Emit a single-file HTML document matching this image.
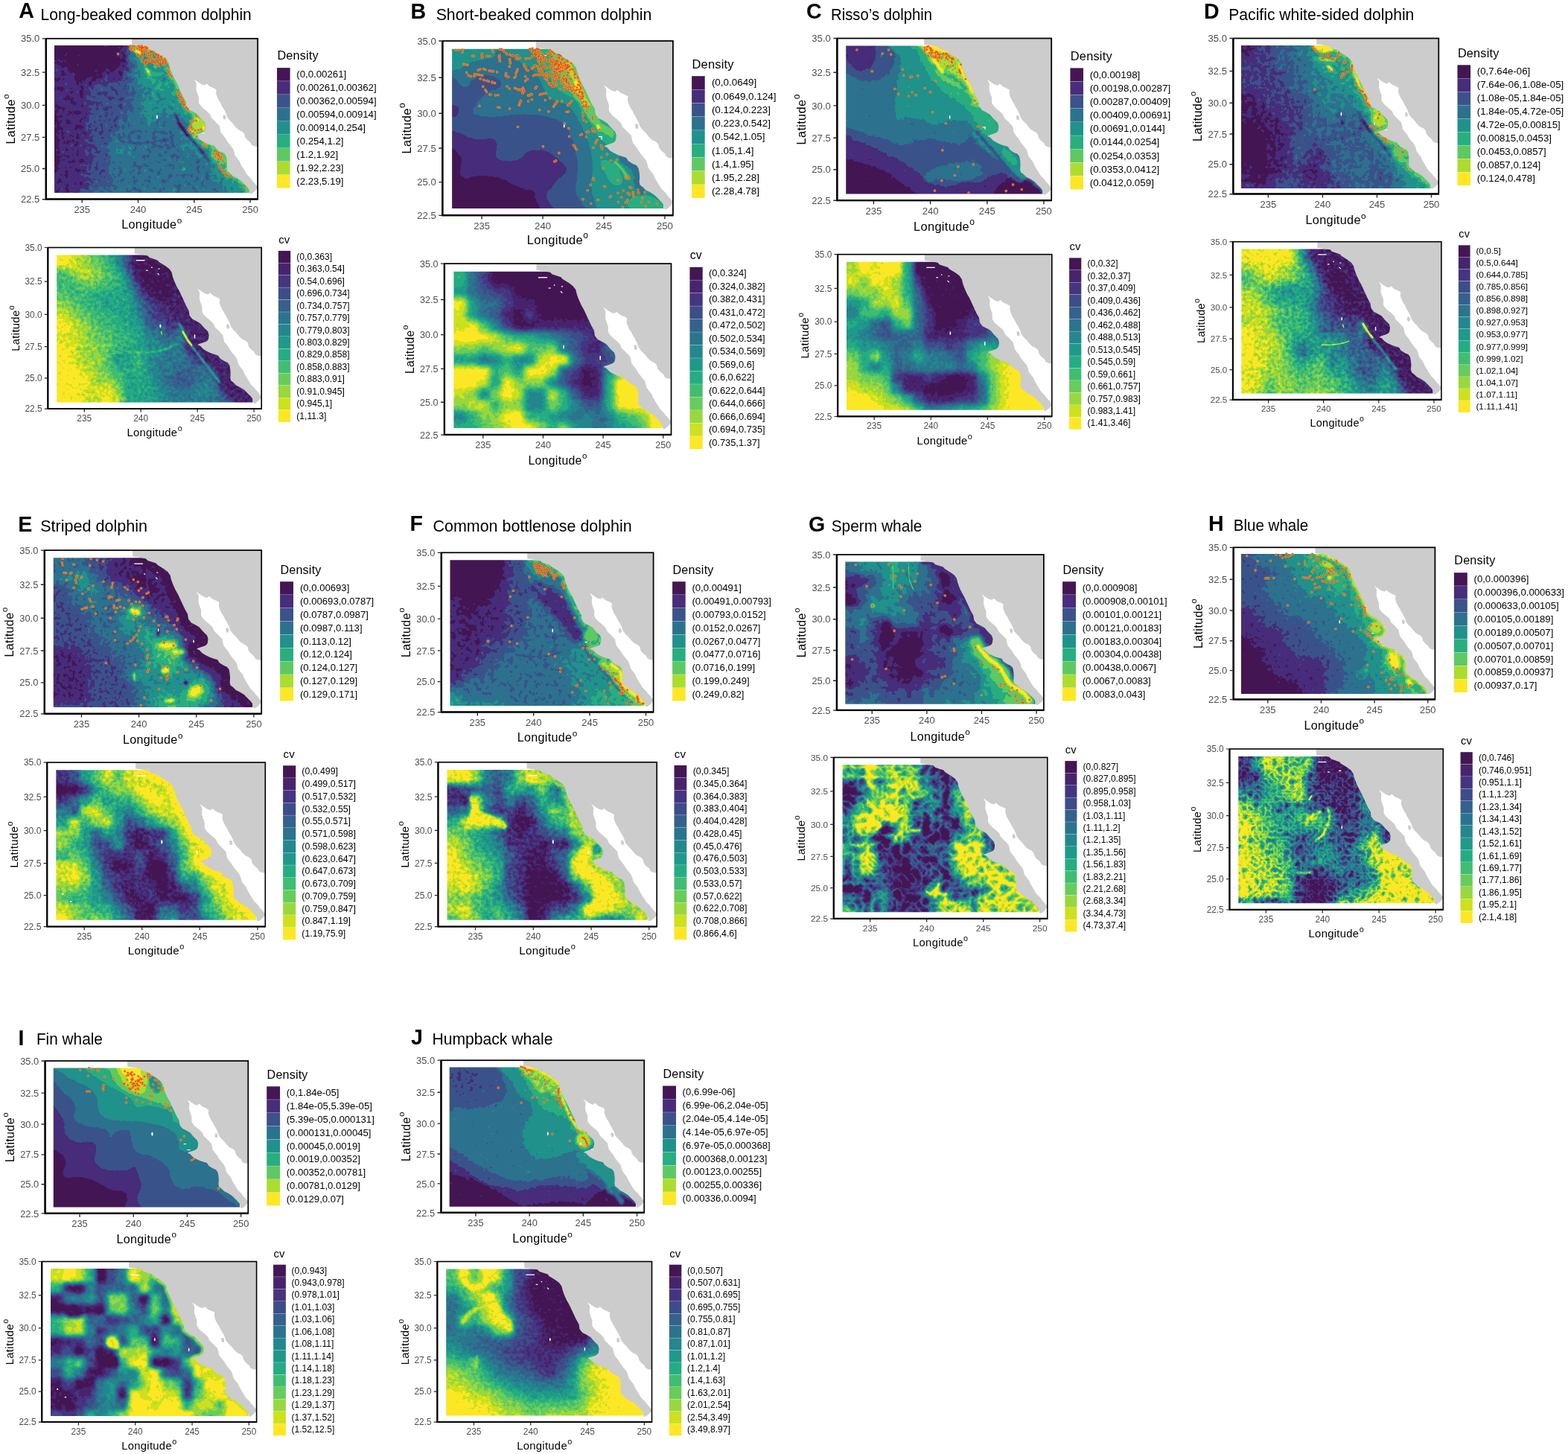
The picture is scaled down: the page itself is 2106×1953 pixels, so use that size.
<!DOCTYPE html><html><head><meta charset="utf-8"><title>Figure</title><style>html,body{margin:0;padding:0;background:#fff}svg{display:block}text{font-family:"Liberation Sans",Arial,sans-serif}</style></head><body><svg xmlns="http://www.w3.org/2000/svg" width="2106" height="1953" viewBox="0 0 2106 1953"><defs><clipPath id="dc"><rect x="83" y="69.5" width="1828.5" height="1381.5"/></clipPath><g id="land"><path d="M809 0L809 57 867 65 930 76 949 95 1025 120 1038 136 1095 171 1132 199 1155 231 1164 269 1177 307 1202 364 1227 408 1259 477 1291 547 1316 591 1322 636 1348 670 1392 692 1423 711 1455 749 1493 787 1503 819 1499 851 1499 856 1487 875 1468 885 1442 894 1411 904 1398 913 1423 923 1449 951 1480 970 1518 989 1556 1002 1588 1011 1607 1040 1645 1065 1676 1078 1695 1103 1702 1141 1705 1179 1702 1223 1708 1248 1733 1267 1759 1293 1797 1312 1835 1337 1860 1362 1892 1394 1911 1419 1917 1454 1930 1462 1961 1441 1983 1416 1999 1413 2023 1413 2023 -30 809 -30Z" fill="#ccc"/><path d="M1395 383L1430 408 1468 433 1496 439 1512 424 1544 452 1582 468 1604 481 1601 515 1610 547 1629 585 1635 596 1639 597 1657 635 1676 666 1695 704 1708 742 1733 774 1759 799 1784 831 1809 856 1847 875 1866 894 1873 926 1892 951 1923 976 1936 1002 1961 1014 1999 1017 2023 1017 2023 1387 1999 1387 1980 1381 1961 1356 1942 1337 1930 1318 1911 1299 1892 1280 1873 1248 1854 1217 1835 1185 1822 1153 1797 1122 1778 1096 1771 1065 1759 1033 1733 1002 1708 970 1689 938 1670 913 1645 881 1639 851 1632 819 1607 794 1582 768 1556 743 1544 711 1518 686 1480 655 1455 629 1439 604 1439 553 1423 509 1414 477 1417 420 1395 383Z" fill="#fff"/><path d="M1665 723L1686 717 1694 739 1689 762 1670 758Z" fill="#ccc"/></g><path id="pac" d="M809 57L867 65 930 76 949 95 1025 120 1038 136 1095 171 1132 199 1155 231 1164 269 1177 307 1202 364 1227 408 1259 477 1291 547 1316 591 1322 636 1348 670 1392 692 1423 711 1455 749 1493 787 1503 819 1499 851 1499 856 1487 875 1468 885 1442 894 1411 904 1398 913 1423 923 1449 951 1480 970 1518 989 1556 1002 1588 1011 1607 1040 1645 1065 1676 1078 1695 1103 1702 1141 1705 1179 1702 1223 1708 1248 1733 1267 1759 1293 1797 1312 1835 1337 1860 1362 1892 1394 1911 1419 1917 1454 1930 1462"/><filter id="qA1" x="0" y="0" width="1993" height="1513" filterUnits="userSpaceOnUse" color-interpolation-filters="sRGB"><feTurbulence type="fractalNoise" baseFrequency="0.022" numOctaves="2" seed="3" result="t0"/><feColorMatrix in="t0" type="matrix" values="1 0 0 0 0 1 0 0 0 0 1 0 0 0 0 0 0 0 0 1" result="n0"/><feComposite in="SourceGraphic" in2="n0" operator="arithmetic" k1="0" k2="1" k3="0.3111" k4="-0.1556" result="c0"/><feComponentTransfer in="c0"><feFuncR type="discrete" tableValues="0.267 0.278 0.231 0.173 0.129 0.157 0.369 0.678 0.992"/><feFuncG type="discrete" tableValues="0.086 0.176 0.322 0.447 0.569 0.682 0.788 0.863 0.906"/><feFuncB type="discrete" tableValues="0.329 0.482 0.545 0.557 0.549 0.502 0.384 0.188 0.145"/><feFuncA type="discrete" tableValues="1 1"/></feComponentTransfer></filter><filter id="qA2" x="0" y="0" width="1993" height="1513" filterUnits="userSpaceOnUse" color-interpolation-filters="sRGB"><feTurbulence type="fractalNoise" baseFrequency="0.03" numOctaves="2" seed="5" result="t0"/><feColorMatrix in="t0" type="matrix" values="1 0 0 0 0 1 0 0 0 0 1 0 0 0 0 0 0 0 0 1" result="n0"/><feComposite in="SourceGraphic" in2="n0" operator="arithmetic" k1="0" k2="1" k3="0.3214" k4="-0.1607" result="c0"/><feComponentTransfer in="c0"><feFuncR type="discrete" tableValues="0.267 0.282 0.271 0.239 0.204 0.169 0.141 0.122 0.145 0.251 0.404 0.596 0.804 0.992"/><feFuncG type="discrete" tableValues="0.086 0.141 0.208 0.302 0.38 0.455 0.529 0.6 0.675 0.741 0.8 0.847 0.882 0.906"/><feFuncB type="discrete" tableValues="0.329 0.431 0.506 0.541 0.553 0.557 0.557 0.541 0.51 0.447 0.361 0.243 0.114 0.145"/><feFuncA type="discrete" tableValues="1 1"/></feComponentTransfer></filter><filter id="qB1" x="0" y="0" width="1993" height="1513" filterUnits="userSpaceOnUse" color-interpolation-filters="sRGB"><feTurbulence type="fractalNoise" baseFrequency="0.03" numOctaves="1" seed="3" result="t0"/><feColorMatrix in="t0" type="matrix" values="1 0 0 0 0 1 0 0 0 0 1 0 0 0 0 0 0 0 0 1" result="n0"/><feComposite in="SourceGraphic" in2="n0" operator="arithmetic" k1="0" k2="1" k3="0.0889" k4="-0.0444" result="c0"/><feComponentTransfer in="c0"><feFuncR type="discrete" tableValues="0.267 0.278 0.231 0.173 0.129 0.157 0.369 0.678 0.992"/><feFuncG type="discrete" tableValues="0.086 0.176 0.322 0.447 0.569 0.682 0.788 0.863 0.906"/><feFuncB type="discrete" tableValues="0.329 0.482 0.545 0.557 0.549 0.502 0.384 0.188 0.145"/><feFuncA type="discrete" tableValues="1 1"/></feComponentTransfer></filter><filter id="qB2" x="0" y="0" width="1993" height="1513" filterUnits="userSpaceOnUse" color-interpolation-filters="sRGB"><feTurbulence type="fractalNoise" baseFrequency="0.03" numOctaves="2" seed="7" result="t0"/><feColorMatrix in="t0" type="matrix" values="1 0 0 0 0 1 0 0 0 0 1 0 0 0 0 0 0 0 0 1" result="n0"/><feComposite in="SourceGraphic" in2="n0" operator="arithmetic" k1="0" k2="1" k3="0.1429" k4="-0.0714" result="c0"/><feComponentTransfer in="c0"><feFuncR type="discrete" tableValues="0.267 0.282 0.271 0.239 0.204 0.169 0.141 0.122 0.145 0.251 0.404 0.596 0.804 0.992"/><feFuncG type="discrete" tableValues="0.086 0.141 0.208 0.302 0.38 0.455 0.529 0.6 0.675 0.741 0.8 0.847 0.882 0.906"/><feFuncB type="discrete" tableValues="0.329 0.431 0.506 0.541 0.553 0.557 0.557 0.541 0.51 0.447 0.361 0.243 0.114 0.145"/><feFuncA type="discrete" tableValues="1 1"/></feComponentTransfer></filter><filter id="qC1" x="0" y="0" width="1993" height="1513" filterUnits="userSpaceOnUse" color-interpolation-filters="sRGB"><feTurbulence type="fractalNoise" baseFrequency="0.028" numOctaves="2" seed="11" result="t0"/><feColorMatrix in="t0" type="matrix" values="1 0 0 0 0 1 0 0 0 0 1 0 0 0 0 0 0 0 0 1" result="n0"/><feComposite in="SourceGraphic" in2="n0" operator="arithmetic" k1="0" k2="1" k3="0.1778" k4="-0.0889" result="c0"/><feComponentTransfer in="c0"><feFuncR type="discrete" tableValues="0.267 0.278 0.231 0.173 0.129 0.157 0.369 0.678 0.992"/><feFuncG type="discrete" tableValues="0.086 0.176 0.322 0.447 0.569 0.682 0.788 0.863 0.906"/><feFuncB type="discrete" tableValues="0.329 0.482 0.545 0.557 0.549 0.502 0.384 0.188 0.145"/><feFuncA type="discrete" tableValues="1 1"/></feComponentTransfer></filter><filter id="qC2" x="0" y="0" width="1993" height="1513" filterUnits="userSpaceOnUse" color-interpolation-filters="sRGB"><feTurbulence type="fractalNoise" baseFrequency="0.03" numOctaves="2" seed="9" result="t0"/><feColorMatrix in="t0" type="matrix" values="1 0 0 0 0 1 0 0 0 0 1 0 0 0 0 0 0 0 0 1" result="n0"/><feComposite in="SourceGraphic" in2="n0" operator="arithmetic" k1="0" k2="1" k3="0.1714" k4="-0.0857" result="c0"/><feComponentTransfer in="c0"><feFuncR type="discrete" tableValues="0.267 0.282 0.271 0.239 0.204 0.169 0.141 0.122 0.145 0.251 0.404 0.596 0.804 0.992"/><feFuncG type="discrete" tableValues="0.086 0.141 0.208 0.302 0.38 0.455 0.529 0.6 0.675 0.741 0.8 0.847 0.882 0.906"/><feFuncB type="discrete" tableValues="0.329 0.431 0.506 0.541 0.553 0.557 0.557 0.541 0.51 0.447 0.361 0.243 0.114 0.145"/><feFuncA type="discrete" tableValues="1 1"/></feComponentTransfer></filter><filter id="qD1" x="0" y="0" width="1993" height="1513" filterUnits="userSpaceOnUse" color-interpolation-filters="sRGB"><feTurbulence type="fractalNoise" baseFrequency="0.022" numOctaves="2" seed="13" result="t0"/><feColorMatrix in="t0" type="matrix" values="1 0 0 0 0 1 0 0 0 0 1 0 0 0 0 0 0 0 0 1" result="n0"/><feComposite in="SourceGraphic" in2="n0" operator="arithmetic" k1="0" k2="1" k3="0.3111" k4="-0.1556" result="c0"/><feComponentTransfer in="c0"><feFuncR type="discrete" tableValues="0.267 0.278 0.231 0.173 0.129 0.157 0.369 0.678 0.992"/><feFuncG type="discrete" tableValues="0.086 0.176 0.322 0.447 0.569 0.682 0.788 0.863 0.906"/><feFuncB type="discrete" tableValues="0.329 0.482 0.545 0.557 0.549 0.502 0.384 0.188 0.145"/><feFuncA type="discrete" tableValues="1 1"/></feComponentTransfer></filter><filter id="qD2" x="0" y="0" width="1993" height="1513" filterUnits="userSpaceOnUse" color-interpolation-filters="sRGB"><feTurbulence type="fractalNoise" baseFrequency="0.03" numOctaves="2" seed="15" result="t0"/><feColorMatrix in="t0" type="matrix" values="1 0 0 0 0 1 0 0 0 0 1 0 0 0 0 0 0 0 0 1" result="n0"/><feComposite in="SourceGraphic" in2="n0" operator="arithmetic" k1="0" k2="1" k3="0.4286" k4="-0.2143" result="c0"/><feComponentTransfer in="c0"><feFuncR type="discrete" tableValues="0.267 0.282 0.271 0.239 0.204 0.169 0.141 0.122 0.145 0.251 0.404 0.596 0.804 0.992"/><feFuncG type="discrete" tableValues="0.086 0.141 0.208 0.302 0.38 0.455 0.529 0.6 0.675 0.741 0.8 0.847 0.882 0.906"/><feFuncB type="discrete" tableValues="0.329 0.431 0.506 0.541 0.553 0.557 0.557 0.541 0.51 0.447 0.361 0.243 0.114 0.145"/><feFuncA type="discrete" tableValues="1 1"/></feComponentTransfer></filter><filter id="qE1" x="0" y="0" width="1993" height="1513" filterUnits="userSpaceOnUse" color-interpolation-filters="sRGB"><feTurbulence type="fractalNoise" baseFrequency="0.028" numOctaves="2" seed="17" result="t0"/><feColorMatrix in="t0" type="matrix" values="1 0 0 0 0 1 0 0 0 0 1 0 0 0 0 0 0 0 0 1" result="n0"/><feComposite in="SourceGraphic" in2="n0" operator="arithmetic" k1="0" k2="1" k3="0.2444" k4="-0.1222" result="c0"/><feComponentTransfer in="c0"><feFuncR type="discrete" tableValues="0.267 0.278 0.231 0.173 0.129 0.157 0.369 0.678 0.992"/><feFuncG type="discrete" tableValues="0.086 0.176 0.322 0.447 0.569 0.682 0.788 0.863 0.906"/><feFuncB type="discrete" tableValues="0.329 0.482 0.545 0.557 0.549 0.502 0.384 0.188 0.145"/><feFuncA type="discrete" tableValues="1 1"/></feComponentTransfer></filter><filter id="qE2" x="0" y="0" width="1993" height="1513" filterUnits="userSpaceOnUse" color-interpolation-filters="sRGB"><feTurbulence type="fractalNoise" baseFrequency="0.03" numOctaves="2" seed="19" result="t0"/><feColorMatrix in="t0" type="matrix" values="1 0 0 0 0 1 0 0 0 0 1 0 0 0 0 0 0 0 0 1" result="n0"/><feComposite in="SourceGraphic" in2="n0" operator="arithmetic" k1="0" k2="1" k3="0.3571" k4="-0.1786" result="c0"/><feComponentTransfer in="c0"><feFuncR type="discrete" tableValues="0.267 0.282 0.271 0.239 0.204 0.169 0.141 0.122 0.145 0.251 0.404 0.596 0.804 0.992"/><feFuncG type="discrete" tableValues="0.086 0.141 0.208 0.302 0.38 0.455 0.529 0.6 0.675 0.741 0.8 0.847 0.882 0.906"/><feFuncB type="discrete" tableValues="0.329 0.431 0.506 0.541 0.553 0.557 0.557 0.541 0.51 0.447 0.361 0.243 0.114 0.145"/><feFuncA type="discrete" tableValues="1 1"/></feComponentTransfer></filter><filter id="qF1" x="0" y="0" width="1993" height="1513" filterUnits="userSpaceOnUse" color-interpolation-filters="sRGB"><feTurbulence type="fractalNoise" baseFrequency="0.022" numOctaves="2" seed="21" result="t0"/><feColorMatrix in="t0" type="matrix" values="1 0 0 0 0 1 0 0 0 0 1 0 0 0 0 0 0 0 0 1" result="n0"/><feComposite in="SourceGraphic" in2="n0" operator="arithmetic" k1="0" k2="1" k3="0.2444" k4="-0.1222" result="c0"/><feComponentTransfer in="c0"><feFuncR type="discrete" tableValues="0.267 0.278 0.231 0.173 0.129 0.157 0.369 0.678 0.992"/><feFuncG type="discrete" tableValues="0.086 0.176 0.322 0.447 0.569 0.682 0.788 0.863 0.906"/><feFuncB type="discrete" tableValues="0.329 0.482 0.545 0.557 0.549 0.502 0.384 0.188 0.145"/><feFuncA type="discrete" tableValues="1 1"/></feComponentTransfer></filter><filter id="qF2" x="0" y="0" width="1993" height="1513" filterUnits="userSpaceOnUse" color-interpolation-filters="sRGB"><feTurbulence type="fractalNoise" baseFrequency="0.03" numOctaves="2" seed="23" result="t0"/><feColorMatrix in="t0" type="matrix" values="1 0 0 0 0 1 0 0 0 0 1 0 0 0 0 0 0 0 0 1" result="n0"/><feComposite in="SourceGraphic" in2="n0" operator="arithmetic" k1="0" k2="1" k3="0.3571" k4="-0.1786" result="c0"/><feComponentTransfer in="c0"><feFuncR type="discrete" tableValues="0.267 0.282 0.271 0.239 0.204 0.169 0.141 0.122 0.145 0.251 0.404 0.596 0.804 0.992"/><feFuncG type="discrete" tableValues="0.086 0.141 0.208 0.302 0.38 0.455 0.529 0.6 0.675 0.741 0.8 0.847 0.882 0.906"/><feFuncB type="discrete" tableValues="0.329 0.431 0.506 0.541 0.553 0.557 0.557 0.541 0.51 0.447 0.361 0.243 0.114 0.145"/><feFuncA type="discrete" tableValues="1 1"/></feComponentTransfer></filter><filter id="qG1" x="0" y="0" width="1993" height="1513" filterUnits="userSpaceOnUse" color-interpolation-filters="sRGB"><feTurbulence type="fractalNoise" baseFrequency="0.018" numOctaves="2" seed="25" result="t0"/><feColorMatrix in="t0" type="matrix" values="1 0 0 0 0 1 0 0 0 0 1 0 0 0 0 0 0 0 0 1" result="n0"/><feComposite in="SourceGraphic" in2="n0" operator="arithmetic" k1="0" k2="1" k3="0.2222" k4="-0.1111" result="c0"/><feComponentTransfer in="c0"><feFuncR type="discrete" tableValues="0.267 0.278 0.231 0.173 0.129 0.157 0.369 0.678 0.992"/><feFuncG type="discrete" tableValues="0.086 0.176 0.322 0.447 0.569 0.682 0.788 0.863 0.906"/><feFuncB type="discrete" tableValues="0.329 0.482 0.545 0.557 0.549 0.502 0.384 0.188 0.145"/><feFuncA type="discrete" tableValues="1 1"/></feComponentTransfer></filter><filter id="qG2" x="0" y="0" width="1993" height="1513" filterUnits="userSpaceOnUse" color-interpolation-filters="sRGB"><feTurbulence type="turbulence" baseFrequency="0.011" numOctaves="2" seed="27" result="t0"/><feColorMatrix in="t0" type="matrix" values="-1 0 0 0 1 -1 0 0 0 1 -1 0 0 0 1 0 0 0 0 1" result="n0"/><feComposite in="SourceGraphic" in2="n0" operator="arithmetic" k1="0" k2="1" k3="0.9286" k4="-0.6964" result="c0"/><feTurbulence type="fractalNoise" baseFrequency="0.03" numOctaves="2" seed="28" result="t1"/><feColorMatrix in="t1" type="matrix" values="1 0 0 0 0 1 0 0 0 0 1 0 0 0 0 0 0 0 0 1" result="n1"/><feComposite in="c0" in2="n1" operator="arithmetic" k1="0" k2="1" k3="0.1786" k4="-0.0893" result="c1"/><feComponentTransfer in="c1"><feFuncR type="discrete" tableValues="0.267 0.282 0.271 0.239 0.204 0.169 0.141 0.122 0.145 0.251 0.404 0.596 0.804 0.992"/><feFuncG type="discrete" tableValues="0.086 0.141 0.208 0.302 0.38 0.455 0.529 0.6 0.675 0.741 0.8 0.847 0.882 0.906"/><feFuncB type="discrete" tableValues="0.329 0.431 0.506 0.541 0.553 0.557 0.557 0.541 0.51 0.447 0.361 0.243 0.114 0.145"/><feFuncA type="discrete" tableValues="1 1"/></feComponentTransfer></filter><filter id="qH1" x="0" y="0" width="1993" height="1513" filterUnits="userSpaceOnUse" color-interpolation-filters="sRGB"><feTurbulence type="fractalNoise" baseFrequency="0.025" numOctaves="2" seed="29" result="t0"/><feColorMatrix in="t0" type="matrix" values="1 0 0 0 0 1 0 0 0 0 1 0 0 0 0 0 0 0 0 1" result="n0"/><feComposite in="SourceGraphic" in2="n0" operator="arithmetic" k1="0" k2="1" k3="0.2222" k4="-0.1111" result="c0"/><feComponentTransfer in="c0"><feFuncR type="discrete" tableValues="0.267 0.278 0.231 0.173 0.129 0.157 0.369 0.678 0.992"/><feFuncG type="discrete" tableValues="0.086 0.176 0.322 0.447 0.569 0.682 0.788 0.863 0.906"/><feFuncB type="discrete" tableValues="0.329 0.482 0.545 0.557 0.549 0.502 0.384 0.188 0.145"/><feFuncA type="discrete" tableValues="1 1"/></feComponentTransfer></filter><filter id="qH2" x="0" y="0" width="1993" height="1513" filterUnits="userSpaceOnUse" color-interpolation-filters="sRGB"><feTurbulence type="turbulence" baseFrequency="0.018" numOctaves="2" seed="31" result="t0"/><feColorMatrix in="t0" type="matrix" values="-1 0 0 0 1 -1 0 0 0 1 -1 0 0 0 1 0 0 0 0 1" result="n0"/><feComposite in="SourceGraphic" in2="n0" operator="arithmetic" k1="0" k2="1" k3="0.8571" k4="-0.6429" result="c0"/><feTurbulence type="fractalNoise" baseFrequency="0.04" numOctaves="2" seed="32" result="t1"/><feColorMatrix in="t1" type="matrix" values="1 0 0 0 0 1 0 0 0 0 1 0 0 0 0 0 0 0 0 1" result="n1"/><feComposite in="c0" in2="n1" operator="arithmetic" k1="0" k2="1" k3="0.2143" k4="-0.1071" result="c1"/><feComponentTransfer in="c1"><feFuncR type="discrete" tableValues="0.267 0.282 0.271 0.239 0.204 0.169 0.141 0.122 0.145 0.251 0.404 0.596 0.804 0.992"/><feFuncG type="discrete" tableValues="0.086 0.141 0.208 0.302 0.38 0.455 0.529 0.6 0.675 0.741 0.8 0.847 0.882 0.906"/><feFuncB type="discrete" tableValues="0.329 0.431 0.506 0.541 0.553 0.557 0.557 0.541 0.51 0.447 0.361 0.243 0.114 0.145"/><feFuncA type="discrete" tableValues="1 1"/></feComponentTransfer></filter><filter id="qI1" x="0" y="0" width="1993" height="1513" filterUnits="userSpaceOnUse" color-interpolation-filters="sRGB"><feTurbulence type="fractalNoise" baseFrequency="0.03" numOctaves="1" seed="33" result="t0"/><feColorMatrix in="t0" type="matrix" values="1 0 0 0 0 1 0 0 0 0 1 0 0 0 0 0 0 0 0 1" result="n0"/><feComposite in="SourceGraphic" in2="n0" operator="arithmetic" k1="0" k2="1" k3="0.0889" k4="-0.0444" result="c0"/><feComponentTransfer in="c0"><feFuncR type="discrete" tableValues="0.267 0.278 0.231 0.173 0.129 0.157 0.369 0.678 0.992"/><feFuncG type="discrete" tableValues="0.086 0.176 0.322 0.447 0.569 0.682 0.788 0.863 0.906"/><feFuncB type="discrete" tableValues="0.329 0.482 0.545 0.557 0.549 0.502 0.384 0.188 0.145"/><feFuncA type="discrete" tableValues="1 1"/></feComponentTransfer></filter><filter id="qI2" x="0" y="0" width="1993" height="1513" filterUnits="userSpaceOnUse" color-interpolation-filters="sRGB"><feTurbulence type="fractalNoise" baseFrequency="0.022" numOctaves="2" seed="35" result="t0"/><feColorMatrix in="t0" type="matrix" values="1 0 0 0 0 1 0 0 0 0 1 0 0 0 0 0 0 0 0 1" result="n0"/><feComposite in="SourceGraphic" in2="n0" operator="arithmetic" k1="0" k2="1" k3="0.2143" k4="-0.1071" result="c0"/><feComponentTransfer in="c0"><feFuncR type="discrete" tableValues="0.267 0.282 0.271 0.239 0.204 0.169 0.141 0.122 0.145 0.251 0.404 0.596 0.804 0.992"/><feFuncG type="discrete" tableValues="0.086 0.141 0.208 0.302 0.38 0.455 0.529 0.6 0.675 0.741 0.8 0.847 0.882 0.906"/><feFuncB type="discrete" tableValues="0.329 0.431 0.506 0.541 0.553 0.557 0.557 0.541 0.51 0.447 0.361 0.243 0.114 0.145"/><feFuncA type="discrete" tableValues="1 1"/></feComponentTransfer></filter><filter id="qJ1" x="0" y="0" width="1993" height="1513" filterUnits="userSpaceOnUse" color-interpolation-filters="sRGB"><feTurbulence type="fractalNoise" baseFrequency="0.025" numOctaves="2" seed="37" result="t0"/><feColorMatrix in="t0" type="matrix" values="1 0 0 0 0 1 0 0 0 0 1 0 0 0 0 0 0 0 0 1" result="n0"/><feComposite in="SourceGraphic" in2="n0" operator="arithmetic" k1="0" k2="1" k3="0.2" k4="-0.1" result="c0"/><feComponentTransfer in="c0"><feFuncR type="discrete" tableValues="0.267 0.278 0.231 0.173 0.129 0.157 0.369 0.678 0.992"/><feFuncG type="discrete" tableValues="0.086 0.176 0.322 0.447 0.569 0.682 0.788 0.863 0.906"/><feFuncB type="discrete" tableValues="0.329 0.482 0.545 0.557 0.549 0.502 0.384 0.188 0.145"/><feFuncA type="discrete" tableValues="1 1"/></feComponentTransfer></filter><filter id="qJ2" x="0" y="0" width="1993" height="1513" filterUnits="userSpaceOnUse" color-interpolation-filters="sRGB"><feTurbulence type="fractalNoise" baseFrequency="0.03" numOctaves="2" seed="39" result="t0"/><feColorMatrix in="t0" type="matrix" values="1 0 0 0 0 1 0 0 0 0 1 0 0 0 0 0 0 0 0 1" result="n0"/><feComposite in="SourceGraphic" in2="n0" operator="arithmetic" k1="0" k2="1" k3="0.2286" k4="-0.1143" result="c0"/><feComponentTransfer in="c0"><feFuncR type="discrete" tableValues="0.267 0.282 0.271 0.239 0.204 0.169 0.141 0.122 0.145 0.251 0.404 0.596 0.804 0.992"/><feFuncG type="discrete" tableValues="0.086 0.141 0.208 0.302 0.38 0.455 0.529 0.6 0.675 0.741 0.8 0.847 0.882 0.906"/><feFuncB type="discrete" tableValues="0.329 0.431 0.506 0.541 0.553 0.557 0.557 0.541 0.51 0.447 0.361 0.243 0.114 0.145"/><feFuncA type="discrete" tableValues="1 1"/></feComponentTransfer></filter><filter id="b4" x="-300" y="-300" width="2600" height="2200" filterUnits="userSpaceOnUse" color-interpolation-filters="sRGB"><feGaussianBlur stdDeviation="4"/></filter><filter id="b5" x="-300" y="-300" width="2600" height="2200" filterUnits="userSpaceOnUse" color-interpolation-filters="sRGB"><feGaussianBlur stdDeviation="5"/></filter><filter id="b6" x="-300" y="-300" width="2600" height="2200" filterUnits="userSpaceOnUse" color-interpolation-filters="sRGB"><feGaussianBlur stdDeviation="6"/></filter><filter id="b8" x="-300" y="-300" width="2600" height="2200" filterUnits="userSpaceOnUse" color-interpolation-filters="sRGB"><feGaussianBlur stdDeviation="8"/></filter><filter id="b10" x="-300" y="-300" width="2600" height="2200" filterUnits="userSpaceOnUse" color-interpolation-filters="sRGB"><feGaussianBlur stdDeviation="10"/></filter><filter id="b12" x="-300" y="-300" width="2600" height="2200" filterUnits="userSpaceOnUse" color-interpolation-filters="sRGB"><feGaussianBlur stdDeviation="12"/></filter><filter id="b14" x="-300" y="-300" width="2600" height="2200" filterUnits="userSpaceOnUse" color-interpolation-filters="sRGB"><feGaussianBlur stdDeviation="14"/></filter><filter id="b15" x="-300" y="-300" width="2600" height="2200" filterUnits="userSpaceOnUse" color-interpolation-filters="sRGB"><feGaussianBlur stdDeviation="15"/></filter><filter id="b18" x="-300" y="-300" width="2600" height="2200" filterUnits="userSpaceOnUse" color-interpolation-filters="sRGB"><feGaussianBlur stdDeviation="18"/></filter><filter id="b20" x="-300" y="-300" width="2600" height="2200" filterUnits="userSpaceOnUse" color-interpolation-filters="sRGB"><feGaussianBlur stdDeviation="20"/></filter><filter id="b22" x="-300" y="-300" width="2600" height="2200" filterUnits="userSpaceOnUse" color-interpolation-filters="sRGB"><feGaussianBlur stdDeviation="22"/></filter><filter id="b24" x="-300" y="-300" width="2600" height="2200" filterUnits="userSpaceOnUse" color-interpolation-filters="sRGB"><feGaussianBlur stdDeviation="24"/></filter><filter id="b25" x="-300" y="-300" width="2600" height="2200" filterUnits="userSpaceOnUse" color-interpolation-filters="sRGB"><feGaussianBlur stdDeviation="25"/></filter><filter id="b26" x="-300" y="-300" width="2600" height="2200" filterUnits="userSpaceOnUse" color-interpolation-filters="sRGB"><feGaussianBlur stdDeviation="26"/></filter><filter id="b27" x="-300" y="-300" width="2600" height="2200" filterUnits="userSpaceOnUse" color-interpolation-filters="sRGB"><feGaussianBlur stdDeviation="27"/></filter><filter id="b28" x="-300" y="-300" width="2600" height="2200" filterUnits="userSpaceOnUse" color-interpolation-filters="sRGB"><feGaussianBlur stdDeviation="28"/></filter><filter id="b30" x="-300" y="-300" width="2600" height="2200" filterUnits="userSpaceOnUse" color-interpolation-filters="sRGB"><feGaussianBlur stdDeviation="30"/></filter><filter id="b34" x="-300" y="-300" width="2600" height="2200" filterUnits="userSpaceOnUse" color-interpolation-filters="sRGB"><feGaussianBlur stdDeviation="34"/></filter><filter id="b35" x="-300" y="-300" width="2600" height="2200" filterUnits="userSpaceOnUse" color-interpolation-filters="sRGB"><feGaussianBlur stdDeviation="35"/></filter><filter id="b36" x="-300" y="-300" width="2600" height="2200" filterUnits="userSpaceOnUse" color-interpolation-filters="sRGB"><feGaussianBlur stdDeviation="36"/></filter><filter id="b38" x="-300" y="-300" width="2600" height="2200" filterUnits="userSpaceOnUse" color-interpolation-filters="sRGB"><feGaussianBlur stdDeviation="38"/></filter><filter id="b40" x="-300" y="-300" width="2600" height="2200" filterUnits="userSpaceOnUse" color-interpolation-filters="sRGB"><feGaussianBlur stdDeviation="40"/></filter><filter id="b42" x="-300" y="-300" width="2600" height="2200" filterUnits="userSpaceOnUse" color-interpolation-filters="sRGB"><feGaussianBlur stdDeviation="42"/></filter></defs><rect width="2106" height="1953" fill="#fff"/><svg x="61.6" y="51.8" width="284.55" height="215.9" viewBox="0 0 1993 1512.2" preserveAspectRatio="none"><g clip-path="url(#dc)"><g filter="url(#qA1)"><rect x="0" y="0" width="1993" height="1513" fill="#636363"/><g filter="url(#b42)"><path fill="#080808" d="M-300 -300h1001v401h-1001zM-300 100h1001v101h-1001zM200 200h501v101h-501zM300 300h201v101h-201zM-300 700h401v101h-401zM-300 800h401v101h-401zM-300 900h401v101h-401zM-300 1000h401v101h-401zM-300 1100h401v101h-401z"/><path fill="#252525" d="M700 -300h101v401h-101zM700 100h101v101h-101zM-300 200h501v101h-501zM700 200h101v101h-101zM-300 300h601v101h-601zM500 300h201v101h-201zM-300 400h701v101h-701zM-300 500h701v101h-701zM-300 600h701v101h-701zM100 700h301v101h-301zM100 800h301v101h-301zM1300 800h101v101h-101zM100 900h301v101h-301zM100 1000h301v101h-301zM100 1100h301v101h-301zM-300 1200h701v101h-701zM-300 1300h701v101h-701zM-300 1400h601v101h-601zM-300 1500h601v401h-601z"/><path fill="#414141" d="M700 300h101v101h-101zM400 400h401v101h-401zM400 500h401v101h-401zM400 600h401v101h-401zM400 700h301v101h-301zM1300 700h101v101h-101zM400 800h301v101h-301zM400 900h201v101h-201zM1100 900h101v101h-101zM400 1000h201v101h-201zM400 1100h201v101h-201zM400 1200h201v101h-201zM400 1300h201v101h-201zM300 1400h101v101h-101zM300 1500h101v401h-101z"/><path fill="#5e5e5e" d="M800 200h101v101h-101zM800 400h101v101h-101zM800 500h101v101h-101zM800 600h101v101h-101zM700 700h201v101h-201zM1100 700h201v101h-201zM700 800h601v101h-601zM600 900h501v101h-501zM1200 900h301v101h-301zM800 1000h801v101h-801zM600 1100h1001v101h-1001zM600 1200h1101v101h-1101zM600 1300h1101v101h-1101zM400 1400h1301v101h-1301zM400 1500h1301v401h-1301z"/><path fill="#7a7a7a" d="M800 -300h101v401h-101zM800 100h101v101h-101zM800 300h101v101h-101zM900 400h101v101h-101zM900 500h301v101h-301zM900 600h501v101h-501zM900 700h201v101h-201zM600 1000h201v101h-201zM1600 1100h101v101h-101zM1700 1300h101v101h-101zM1700 1400h201v101h-201zM1700 1500h201v401h-201z"/><path fill="#969696" d="M900 200h101v101h-101zM1100 200h201v101h-201zM900 300h1601v101h-1601zM1000 400h201v101h-201zM1200 500h101v101h-101zM1500 900h1001v101h-1001zM1600 1000h101v101h-101zM1700 1200h101v101h-101zM1800 1300h701v101h-701zM1900 1400h601v101h-601zM1900 1500h601v401h-601z"/><path fill="#b2b2b2" d="M1100 -300h1401v401h-1401zM1100 100h1401v101h-1401zM1000 200h101v101h-101zM1300 200h1201v101h-1201zM1200 400h1301v101h-1301zM1300 500h1201v101h-1201zM1400 600h1101v101h-1101zM1400 700h101v101h-101zM1400 800h101v101h-101zM1700 1000h801v101h-801zM1700 1100h801v101h-801zM1800 1200h701v101h-701z"/><path fill="#cfcfcf" d="M900 -300h201v401h-201zM900 100h201v101h-201zM1500 700h1001v101h-1001zM1500 800h1001v101h-1001z"/></g><g filter="url(#b30)"><use href="#pac" fill="none" stroke="#808080" stroke-width="300" stroke-linejoin="round" opacity="0.8"/></g><g filter="url(#b15)"><use href="#pac" fill="none" stroke="#9c9c9c" stroke-width="100" stroke-linejoin="round"/></g><g filter="url(#b8)"><use href="#pac" fill="none" stroke="#b8b8b8" stroke-width="40" stroke-linejoin="round"/><path d="M1215 715C1222 729 1244 772 1260 800C1276 828 1292 855 1310 880C1328 905 1347 923 1370 950C1393 977 1423 1007 1450 1040C1477 1073 1517 1132 1530 1150" fill="none" stroke="#2a2a2a" stroke-width="26" stroke-linecap="round" stroke-linejoin="round"/><path d="M1250 790C1257 800 1277 831 1290 850C1303 869 1323 896 1330 905" fill="none" stroke="#0e0e0e" stroke-width="30" stroke-linecap="round" stroke-linejoin="round"/><path d="M700 965C725 968 800 983 850 985C900 987 958 980 1000 975C1042 970 1067 965 1100 955C1133 945 1183 922 1200 915" fill="none" stroke="#393939" stroke-width="14" stroke-linecap="round" stroke-linejoin="round"/><path d="M1045 790L1060 830" fill="none" stroke="#0e0e0e" stroke-width="16" stroke-linecap="round" stroke-linejoin="round"/></g><g filter="url(#b15)"><ellipse cx="1130" cy="790" rx="80" ry="80" fill="#636363"/><ellipse cx="1425" cy="800" rx="60" ry="80" fill="#d4d4d4"/></g><g filter="url(#b8)"><ellipse cx="1480" cy="830" rx="14" ry="40" fill="#f1f1f1"/><ellipse cx="1380" cy="870" rx="45" ry="18" fill="#f1f1f1" transform="rotate(30 1380 870)"/><ellipse cx="955" cy="300" rx="28" ry="12" fill="#f1f1f1" transform="rotate(50 955 300)"/><ellipse cx="860" cy="120" rx="50" ry="22" fill="#f1f1f1" transform="rotate(30 860 120)"/><ellipse cx="1030" cy="270" rx="22" ry="6" fill="#f1f1f1" transform="rotate(50 1030 270)"/></g><g filter="url(#b15)"><ellipse cx="1620" cy="1110" rx="60" ry="90" fill="#b8b8b8" transform="rotate(-30 1620 1110)"/></g><g filter="url(#b8)"><ellipse cx="1300" cy="1228" rx="18" ry="7" fill="#f1f1f1" transform="rotate(-40 1300 1228)"/></g></g></g><use href="#land"/><g fill="#fff"><ellipse cx="1046" cy="738" rx="7" ry="18"/><ellipse cx="1478" cy="890" rx="12" ry="5"/></g><g fill="none" stroke-linecap="round"><path d="M1055.6 227.5h0M944.6 118.8h0M939.3 215.4h0M904.3 217.4h0M1032.7 148.3h0M963.8 200.3h0M1059.2 201h0M1059.7 154.4h0M803.8 106.2h0M998.6 124.5h0M1002 203.4h0M1060 257.4h0M986.6 127h0M1086.8 169.9h0M882.4 106.1h0M944.1 94.8h0M993.3 127.4h0M905.9 143.5h0M1038.7 145.2h0M1122.5 241.1h0M931 229.3h0M1056.6 168.2h0M939.5 204.9h0M917.3 84.7h0M945.6 220.1h0M832 72.2h0M900 117.7h0M861.7 147.7h0M1086.5 186.8h0M866.5 160.1h0M942.3 95.6h0M905.9 127.3h0M987.1 130.1h0M913.4 162.7h0M1055.6 249.7h0M874.7 69.2h0M931.8 79.1h0M990.8 149.9h0M1051.6 225.8h0M947 159h0M936.6 242.5h0M996.5 204.1h0M1098.1 244.1h0M1019.8 221.5h0M1050.3 154.7h0M999.9 171.9h0M903.4 78.1h0M1127.5 216.4h0M1111.9 203.9h0M893.7 83.1h0M967 158h0M948 82.6h0M909.8 111.3h0M1053.1 178.4h0M907.2 153.5h0M968.4 196.4h0M1027.9 193.2h0M908.5 79.8h0M875.7 159.4h0M1030.7 235.7h0M813.2 89.8h0M1101.1 213.5h0M1013.3 209.5h0M1004.3 123.7h0M929.6 107.2h0M1079.3 219.1h0M983.2 117.5h0M1054.6 212.5h0M1128.2 205.4h0M1016.2 218.7h0M820.2 69.9h0M794.5 68.5h0M982.7 121h0M908.2 183.2h0M972.9 189.6h0M943 120.4h0M1061 179.8h0M1111.3 225h0M954.9 91.3h0M983.4 159.9h0M1080.2 171h0M1019.9 225.5h0M939.4 231.3h0M1100.9 236.7h0M860.7 93.8h0M900.6 69h0M879.8 84h0M994.1 217h0M906.9 92.4h0M1097.8 230.4h0M957.3 218.6h0M945.7 138.7h0M1128 231.3h0M1003.8 222.8h0M794 93.5h0M951.8 90h0M1017.5 219.1h0M896.4 98.7h0M833 103.7h0M1036 156.8h0M934 223.9h0M975.9 210.4h0M1119.6 189.4h0M934.1 79.9h0M908.3 189h0M1154.6 279.1h0M1148.3 300.9h0M1144.4 302.4h0M1153.8 316.5h0M1161.5 329.2h0M1171.6 344h0M1183.3 358.8h0M1242.6 502.7h0M1236.7 508.1h0M1255.7 515.3h0M1246.4 528.9h0M1248.3 536.1h0M1251.2 531.9h0M1260.1 546.4h0M1274.7 554.6h0M1271.6 548.5h0M1266.8 573h0M1283.7 570.2h0M1271.5 590.8h0M1283.1 593.3h0M1294.7 597.6h0M1299.5 614.2h0M1293 626h0M1304.4 624h0M1320.3 647.8h0M1318.1 648.6h0M1320 655.4h0M1334.7 673.9h0M1335.3 660.2h0M1415 730h0M1415 772h0M1385 778h0M1365 775h0M1365 815h0M1345 855h0M1360 875h0M1385 890h0M1405 865h0M1435 860h0M1460 855h0M1420 920h0M1375 855h0M1350 830h0M1473.9 983.2h0M1487.9 1002.3h0M1509.8 1017.1h0M1620 1098.6h0M1620.7 1078.5h0M1645.4 1134.1h0M1628.6 1074.4h0M1614.7 1089.5h0M1650.3 1114.3h0M1600.1 1085.5h0M1630.9 1101.1h0M1632 1119.6h0M1663.2 1147.2h0M1593 1109.4h0M1605.8 1065.8h0M1621.4 1136h0M1576.4 1080.2h0M1631.3 1200.5h0M1627.4 1194.5h0M1631.6 1203.9h0M1642.6 1218.8h0M1646.5 1230.8h0M1667 1245.7h0M1666.1 1257.6h0M1688.3 1267.9h0M1696.2 1282.8h0M1706.6 1284.8h0M1708.5 1288.4h0M1734.6 1298h0M1737.8 1299.8h0M1870 1395h0M678 143h0" stroke="#f6921e" stroke-width="25.2"/><path d="M1055.6 227.5h0M944.6 118.8h0M939.3 215.4h0M904.3 217.4h0M1032.7 148.3h0M963.8 200.3h0M1059.2 201h0M1059.7 154.4h0M803.8 106.2h0M998.6 124.5h0M1002 203.4h0M1060 257.4h0M986.6 127h0M1086.8 169.9h0M882.4 106.1h0M944.1 94.8h0M993.3 127.4h0M905.9 143.5h0M1038.7 145.2h0M1122.5 241.1h0M931 229.3h0M1056.6 168.2h0M939.5 204.9h0M917.3 84.7h0M945.6 220.1h0M832 72.2h0M900 117.7h0M861.7 147.7h0M1086.5 186.8h0M866.5 160.1h0M942.3 95.6h0M905.9 127.3h0M987.1 130.1h0M913.4 162.7h0M1055.6 249.7h0M874.7 69.2h0M931.8 79.1h0M990.8 149.9h0M1051.6 225.8h0M947 159h0M936.6 242.5h0M996.5 204.1h0M1098.1 244.1h0M1019.8 221.5h0M1050.3 154.7h0M999.9 171.9h0M903.4 78.1h0M1127.5 216.4h0M1111.9 203.9h0M893.7 83.1h0M967 158h0M948 82.6h0M909.8 111.3h0M1053.1 178.4h0M907.2 153.5h0M968.4 196.4h0M1027.9 193.2h0M908.5 79.8h0M875.7 159.4h0M1030.7 235.7h0M813.2 89.8h0M1101.1 213.5h0M1013.3 209.5h0M1004.3 123.7h0M929.6 107.2h0M1079.3 219.1h0M983.2 117.5h0M1054.6 212.5h0M1128.2 205.4h0M1016.2 218.7h0M820.2 69.9h0M794.5 68.5h0M982.7 121h0M908.2 183.2h0M972.9 189.6h0M943 120.4h0M1061 179.8h0M1111.3 225h0M954.9 91.3h0M983.4 159.9h0M1080.2 171h0M1019.9 225.5h0M939.4 231.3h0M1100.9 236.7h0M860.7 93.8h0M900.6 69h0M879.8 84h0M994.1 217h0M906.9 92.4h0M1097.8 230.4h0M957.3 218.6h0M945.7 138.7h0M1128 231.3h0M1003.8 222.8h0M794 93.5h0M951.8 90h0M1017.5 219.1h0M896.4 98.7h0M833 103.7h0M1036 156.8h0M934 223.9h0M975.9 210.4h0M1119.6 189.4h0M934.1 79.9h0M908.3 189h0M1154.6 279.1h0M1148.3 300.9h0M1144.4 302.4h0M1153.8 316.5h0M1161.5 329.2h0M1171.6 344h0M1183.3 358.8h0M1242.6 502.7h0M1236.7 508.1h0M1255.7 515.3h0M1246.4 528.9h0M1248.3 536.1h0M1251.2 531.9h0M1260.1 546.4h0M1274.7 554.6h0M1271.6 548.5h0M1266.8 573h0M1283.7 570.2h0M1271.5 590.8h0M1283.1 593.3h0M1294.7 597.6h0M1299.5 614.2h0M1293 626h0M1304.4 624h0M1320.3 647.8h0M1318.1 648.6h0M1320 655.4h0M1334.7 673.9h0M1335.3 660.2h0M1415 730h0M1415 772h0M1385 778h0M1365 775h0M1365 815h0M1345 855h0M1360 875h0M1385 890h0M1405 865h0M1435 860h0M1460 855h0M1420 920h0M1375 855h0M1350 830h0M1473.9 983.2h0M1487.9 1002.3h0M1509.8 1017.1h0M1620 1098.6h0M1620.7 1078.5h0M1645.4 1134.1h0M1628.6 1074.4h0M1614.7 1089.5h0M1650.3 1114.3h0M1600.1 1085.5h0M1630.9 1101.1h0M1632 1119.6h0M1663.2 1147.2h0M1593 1109.4h0M1605.8 1065.8h0M1621.4 1136h0M1576.4 1080.2h0M1631.3 1200.5h0M1627.4 1194.5h0M1631.6 1203.9h0M1642.6 1218.8h0M1646.5 1230.8h0M1667 1245.7h0M1666.1 1257.6h0M1688.3 1267.9h0M1696.2 1282.8h0M1706.6 1284.8h0M1708.5 1288.4h0M1734.6 1298h0M1737.8 1299.8h0M1870 1395h0M678 143h0" stroke="#e8472a" stroke-width="13.3"/></g></svg><rect x="61.6" y="51.8" width="284.55" height="215.9" fill="none" stroke="#000" stroke-width="1.75"/><path d="M61.85 51.8V267.45H346.15" fill="none" stroke="#000" stroke-width="2.3"/><path d="M60.8 51.8h-4.01M60.8 97.19h-4.01M60.8 141.34h-4.01M60.8 184.39h-4.01M60.8 226.47h-4.01M60.8 267.7h-4.01M110.23 268.5v4.01M185.51 268.5v4.01M260.79 268.5v4.01M336.06 268.5v4.01" stroke="#222" stroke-width="1.35" fill="none"/><g font-size="12.97" fill="#4d4d4d"><text x="53.29" y="56.46" text-anchor="end">35.0</text><text x="53.29" y="101.85" text-anchor="end">32.5</text><text x="53.29" y="146" text-anchor="end">30.0</text><text x="53.29" y="189.04" text-anchor="end">27.5</text><text x="53.29" y="231.12" text-anchor="end">25.0</text><text x="53.29" y="272.36" text-anchor="end">22.5</text><text x="110.23" y="286.03" text-anchor="middle">235</text><text x="185.51" y="286.03" text-anchor="middle">240</text><text x="260.79" y="286.03" text-anchor="middle">245</text><text x="336.06" y="286.03" text-anchor="middle">250</text></g><text x="203.88" y="307.26" font-size="16.23" text-anchor="middle" letter-spacing="0.33">Longitude<tspan dy="-7.61" dx="0.3" font-size="11.82">o</tspan></text><text transform="translate(19.54 159.75) rotate(-90)" font-size="16.23" text-anchor="middle" letter-spacing="0.33">Latitude<tspan dy="-7.61" dx="0.3" font-size="11.82">o</tspan></text><text x="372.4" y="80.3" font-size="16.23" fill="#000" letter-spacing="0.2">Density</text><rect x="372" y="91.1" width="17.6" height="17.68" fill="#441654"/><rect x="372" y="109.08" width="17.6" height="17.68" fill="#472d7b"/><rect x="372" y="127.06" width="17.6" height="17.68" fill="#3b528b"/><rect x="372" y="145.03" width="17.6" height="17.68" fill="#2c728e"/><rect x="372" y="163.01" width="17.6" height="17.68" fill="#21918c"/><rect x="372" y="180.99" width="17.6" height="17.68" fill="#28ae80"/><rect x="372" y="198.97" width="17.6" height="17.68" fill="#5ec962"/><rect x="372" y="216.94" width="17.6" height="17.68" fill="#addc30"/><rect x="372" y="234.92" width="17.6" height="17.68" fill="#fde725"/><g font-size="13.23"><text x="398.3" y="104.15">(0,0.00261]</text><text x="398.3" y="122.12">(0.00261,0.00362]</text><text x="398.3" y="140.1">(0.00362,0.00594]</text><text x="398.3" y="158.08">(0.00594,0.00914]</text><text x="398.3" y="176.06">(0.00914,0.254]</text><text x="398.3" y="194.03">(0.254,1.2]</text><text x="398.3" y="212.01">(1.2,1.92]</text><text x="398.3" y="229.99">(1.92,2.23]</text><text x="398.3" y="247.97">(2.23,5.19]</text></g><svg x="64.2" y="332.5" width="287" height="216.7" viewBox="0 0 1993 1512.2" preserveAspectRatio="none"><g clip-path="url(#dc)"><g filter="url(#qA2)"><rect x="0" y="0" width="1993" height="1513" fill="#898989"/><g filter="url(#b36)"><path fill="#000000" d="M900 -300h1601v401h-1601zM900 100h1601v101h-1601zM900 200h1601v101h-1601zM1000 300h1501v101h-1501zM1100 400h1401v101h-1401zM1200 500h1301v101h-1301zM1300 600h1201v101h-1201zM1300 700h1201v101h-1201zM1500 800h1001v101h-1001zM1500 900h1001v101h-1001zM1700 1000h801v101h-801zM1700 1100h801v101h-801zM1800 1200h701v101h-701zM1800 1300h701v101h-701zM1900 1400h601v101h-601zM1900 1500h601v401h-601z"/><path fill="#141414" d="M800 -300h101v401h-101zM800 100h101v101h-101zM800 200h101v101h-101zM900 300h101v101h-101zM1000 400h101v101h-101zM1100 500h101v101h-101zM1200 600h101v101h-101zM1300 800h201v101h-201zM1400 900h101v101h-101zM1500 1000h201v101h-201zM1600 1100h101v101h-101zM1700 1200h101v101h-101zM1700 1300h101v101h-101zM1800 1400h101v101h-101zM1800 1500h101v401h-101z"/><path fill="#292929" d="M900 400h101v101h-101zM1000 500h101v101h-101zM1000 600h201v101h-201zM1100 700h101v101h-101zM1600 1200h101v101h-101zM1700 1400h101v101h-101zM1700 1500h101v401h-101z"/><path fill="#3e3e3e" d="M700 -300h101v401h-101zM700 100h101v101h-101zM800 300h101v101h-101zM900 500h101v101h-101zM900 600h101v101h-101zM1400 1000h101v101h-101zM1500 1100h101v101h-101zM1200 1200h101v101h-101zM1600 1300h101v101h-101z"/><path fill="#535353" d="M800 400h101v101h-101zM900 700h201v101h-201zM1200 700h101v101h-101zM1100 800h101v101h-101zM1300 900h101v101h-101zM1300 1000h101v101h-101zM1200 1100h201v101h-201zM1100 1200h101v101h-101zM1300 1200h101v101h-101zM1600 1400h101v101h-101zM1600 1500h101v401h-101z"/><path fill="#686868" d="M700 200h101v101h-101zM800 500h101v101h-101zM1000 800h101v101h-101zM1100 900h201v101h-201zM1000 1000h301v101h-301zM1000 1100h201v101h-201zM1400 1100h101v101h-101zM1000 1200h101v101h-101zM1400 1200h201v101h-201zM1100 1300h301v101h-301zM1500 1300h101v101h-101zM1100 1400h501v101h-501zM1100 1500h501v401h-501z"/><path fill="#7d7d7d" d="M600 -300h101v401h-101zM600 100h101v101h-101zM700 300h101v101h-101zM800 600h101v101h-101zM900 800h101v101h-101zM1200 800h101v101h-101zM900 900h201v101h-201zM600 1000h101v101h-101zM900 1000h101v101h-101zM900 1100h101v101h-101zM1000 1300h101v101h-101zM1400 1300h101v101h-101zM1000 1400h101v101h-101zM1000 1500h101v401h-101z"/><path fill="#929292" d="M400 400h401v101h-401zM500 500h301v101h-301zM600 600h201v101h-201zM700 700h201v101h-201zM800 800h101v101h-101zM700 900h201v101h-201zM700 1000h101v101h-101zM700 1100h101v101h-101zM700 1200h301v101h-301zM700 1300h301v101h-301zM700 1400h301v101h-301zM700 1500h301v401h-301z"/><path fill="#a7a7a7" d="M500 -300h101v401h-101zM500 100h101v101h-101zM-300 200h501v101h-501zM600 200h101v101h-101zM-300 300h601v101h-601zM500 300h201v101h-201zM200 400h201v101h-201zM300 500h201v101h-201zM400 600h201v101h-201zM500 700h201v101h-201zM600 800h201v101h-201zM600 900h101v101h-101zM800 1000h101v101h-101zM600 1100h101v101h-101zM800 1100h101v101h-101z"/><path fill="#bcbcbc" d="M400 -300h101v401h-101zM400 100h101v101h-101zM500 200h101v101h-101zM300 300h201v101h-201zM-300 400h501v101h-501zM200 500h101v101h-101zM300 600h101v101h-101zM400 700h101v101h-101zM400 800h201v101h-201zM500 900h101v101h-101zM500 1000h101v101h-101zM500 1100h101v101h-101zM600 1200h101v101h-101z"/><path fill="#d1d1d1" d="M300 -300h101v401h-101zM300 100h101v101h-101zM200 200h101v101h-101zM400 200h101v101h-101zM-300 500h501v101h-501zM200 600h101v101h-101zM300 700h101v101h-101zM300 800h101v101h-101zM300 900h201v101h-201zM300 1000h201v101h-201zM400 1100h101v101h-101zM400 1200h201v101h-201zM600 1300h101v101h-101zM400 1400h101v101h-101zM400 1500h101v401h-101z"/><path fill="#e6e6e6" d="M200 -300h101v401h-101zM200 100h101v101h-101zM300 200h101v101h-101zM-300 600h501v101h-501zM200 700h101v101h-101zM-300 800h601v101h-601zM200 900h101v101h-101zM200 1000h101v101h-101zM300 1100h101v101h-101zM300 1300h201v101h-201zM300 1400h101v101h-101zM600 1400h101v101h-101zM300 1500h101v401h-101zM600 1500h101v401h-101z"/><path fill="#fbfbfb" d="M-300 -300h501v401h-501zM-300 100h501v101h-501zM-300 700h501v101h-501zM-300 900h501v101h-501zM-300 1000h501v101h-501zM-300 1100h601v101h-601zM-300 1200h701v101h-701zM-300 1300h601v101h-601zM500 1300h101v101h-101zM-300 1400h601v101h-601zM500 1400h101v101h-101zM-300 1500h601v401h-601zM500 1500h101v401h-101z"/></g><g filter="url(#b25)"><use href="#pac" fill="none" stroke="#1b1b1b" stroke-width="240" stroke-linejoin="round"/></g><g filter="url(#b40)"><ellipse cx="1000" cy="250" rx="180" ry="260" fill="#090909" transform="rotate(-30 1000 250)" opacity="0.8"/></g><g filter="url(#b6)"><path d="M1225 715C1232 729 1254 771 1270 800C1286 829 1298 857 1320 890C1342 923 1370 960 1400 1000C1430 1040 1467 1087 1500 1130C1533 1173 1583 1238 1600 1260" fill="none" stroke="#adadad" stroke-width="16" stroke-linecap="round" stroke-linejoin="round"/></g><g filter="url(#b5)"><path d="M1260 790C1267 802 1287 839 1300 860C1313 881 1333 906 1340 915" fill="none" stroke="#f6f6f6" stroke-width="18" stroke-linecap="round" stroke-linejoin="round"/></g><g filter="url(#b6)"><path d="M700 965C725 968 800 983 850 985C900 987 958 981 1000 975C1042 969 1067 962 1100 950C1133 938 1183 908 1200 900" fill="none" stroke="#bfbfbf" stroke-width="12" stroke-linecap="round" stroke-linejoin="round"/></g><g filter="url(#b4)"><path d="M1058 790L1064 815" fill="none" stroke="#e4e4e4" stroke-width="10" stroke-linecap="round" stroke-linejoin="round"/></g></g></g><use href="#land"/><g fill="#fff"><ellipse cx="1050" cy="735" rx="7" ry="18"/><rect x="825" y="115" width="80" height="10"/><rect x="915" y="210" width="20" height="8"/><rect x="965" y="182" width="10" height="10"/><rect x="1020" y="245" width="22" height="8" transform="rotate(45 1030 250)"/><rect x="1030" y="195" width="14" height="8"/><rect x="1365" y="815" width="10" height="35"/></g></svg><rect x="64.2" y="332.5" width="287" height="216.7" fill="none" stroke="#000" stroke-width="1.6"/><path d="M64.43 332.5V548.97H351.2" fill="none" stroke="#000" stroke-width="2.11"/><path d="M63.47 332.5h-3.67M63.47 378.06h-3.67M63.47 422.37h-3.67M63.47 465.58h-3.67M63.47 507.81h-3.67M63.47 549.2h-3.67M113.25 549.93v3.67M189.17 549.93v3.67M265.1 549.93v3.67M341.03 549.93v3.67" stroke="#222" stroke-width="1.24" fill="none"/><g font-size="11.87" fill="#4d4d4d"><text x="56.59" y="336.76" text-anchor="end">35.0</text><text x="56.59" y="382.32" text-anchor="end">32.5</text><text x="56.59" y="426.63" text-anchor="end">30.0</text><text x="56.59" y="469.84" text-anchor="end">27.5</text><text x="56.59" y="512.08" text-anchor="end">25.0</text><text x="56.59" y="553.46" text-anchor="end">22.5</text><text x="113.25" y="565.97" text-anchor="middle">235</text><text x="189.17" y="565.97" text-anchor="middle">240</text><text x="265.1" y="565.97" text-anchor="middle">245</text><text x="341.03" y="565.97" text-anchor="middle">250</text></g><text x="207.7" y="586.22" font-size="14.85" text-anchor="middle" letter-spacing="0.3">Longitude<tspan dy="-6.96" dx="0.27" font-size="10.81">o</tspan></text><text transform="translate(25.71 440.85) rotate(-90)" font-size="14.85" text-anchor="middle" letter-spacing="0.3">Latitude<tspan dy="-6.96" dx="0.27" font-size="10.81">o</tspan></text><text x="374.27" y="327.2" font-size="14.85" fill="#000" letter-spacing="0.18">cv</text><rect x="373.9" y="336.9" width="16.3" height="16.15" fill="#441654"/><rect x="373.9" y="353.35" width="16.3" height="16.15" fill="#48246e"/><rect x="373.9" y="369.8" width="16.3" height="16.15" fill="#453581"/><rect x="373.9" y="386.25" width="16.3" height="16.15" fill="#3d4d8a"/><rect x="373.9" y="402.7" width="16.3" height="16.15" fill="#34618d"/><rect x="373.9" y="419.15" width="16.3" height="16.15" fill="#2b748e"/><rect x="373.9" y="435.6" width="16.3" height="16.15" fill="#24878e"/><rect x="373.9" y="452.05" width="16.3" height="16.15" fill="#1f998a"/><rect x="373.9" y="468.5" width="16.3" height="16.15" fill="#25ac82"/><rect x="373.9" y="484.95" width="16.3" height="16.15" fill="#40bd72"/><rect x="373.9" y="501.4" width="16.3" height="16.15" fill="#67cc5c"/><rect x="373.9" y="517.85" width="16.3" height="16.15" fill="#98d83e"/><rect x="373.9" y="534.3" width="16.3" height="16.15" fill="#cde11d"/><rect x="373.9" y="550.75" width="16.3" height="16.15" fill="#fde725"/><g font-size="12.11"><text x="398.3" y="348.83">(0,0.363]</text><text x="398.3" y="365.28">(0.363,0.54]</text><text x="398.3" y="381.73">(0.54,0.696]</text><text x="398.3" y="398.18">(0.696,0.734]</text><text x="398.3" y="414.63">(0.734,0.757]</text><text x="398.3" y="431.08">(0.757,0.779]</text><text x="398.3" y="447.53">(0.779,0.803]</text><text x="398.3" y="463.98">(0.803,0.829]</text><text x="398.3" y="480.43">(0.829,0.858]</text><text x="398.3" y="496.88">(0.858,0.883]</text><text x="398.3" y="513.33">(0.883,0.91]</text><text x="398.3" y="529.78">(0.91,0.945]</text><text x="398.3" y="546.23">(0.945,1]</text><text x="398.3" y="562.68">(1,11.3]</text></g><svg x="594.2" y="55" width="309.7" height="234.4" viewBox="0 0 1993 1512.2" preserveAspectRatio="none"><g clip-path="url(#dc)"><g filter="url(#qB1)"><rect x="0" y="0" width="1993" height="1513" fill="#636363"/><g filter="url(#b10)"><path d="M0 0C83 -42 422 -13 500 0C578 13 480 57 470 80C460 103 463 126 440 140C417 154 365 157 330 165C295 173 257 178 230 190C203 202 194 224 170 235C146 246 112 252 84 255C56 258 14 298 0 255C-14 212 -83 42 0 0Z" fill="#808080"/><path d="M560 0C798 -17 1760 -267 2000 0C2240 267 2107 1333 2000 1600C1893 1867 1472 1626 1360 1600C1248 1574 1342 1495 1330 1445C1318 1395 1298 1341 1290 1300C1282 1259 1283 1233 1285 1200C1287 1167 1301 1142 1300 1100C1299 1058 1288 992 1280 950C1272 908 1263 887 1250 850C1237 813 1217 765 1200 730C1183 695 1170 668 1150 640C1130 612 1108 580 1080 560C1052 540 1010 535 980 520C950 505 922 498 900 470C878 442 870 387 850 350C830 313 805 275 780 250C755 225 727 217 700 200C673 183 642 167 620 150C598 133 580 125 570 100C560 75 322 17 560 0Z" fill="#808080"/><path d="M0 420C47 140 139 419 200 400C261 381 225 363 260 340C295 317 306 307 350 300C394 293 413 296 450 310C487 324 503 337 510 360C517 383 506 391 480 410C454 429 435 419 400 440C365 461 356 472 330 500C304 528 304 532 290 560C276 588 261 599 270 620C279 641 288 642 330 650C372 658 387 657 450 655C513 653 518 644 600 640C682 636 718 633 800 640C882 647 892 651 950 670C1008 689 1015 690 1050 720C1085 750 1079 758 1100 800C1121 842 1126 853 1140 900C1154 947 1153 953 1160 1000C1167 1047 1170 1053 1170 1100C1170 1147 1165 1153 1160 1200C1155 1247 1155 1207 1150 1300C1145 1393 1408 1530 1140 1600C872 1670 266 1875 0 1600C-266 1325 -47 700 0 420Z" fill="#474747"/><path d="M0 560C20 543 97 553 120 560C143 567 140 585 140 600C140 615 143 640 120 650C97 660 20 675 0 660C-20 645 -20 577 0 560Z" fill="#2a2a2a"/><path d="M0 860C70 686 194 855 300 855C406 855 416 826 455 860C494 894 450 959 465 1000C480 1041 484 1026 520 1035C556 1044 578 1048 620 1040C662 1032 667 1021 700 1000C733 979 713 960 760 950C807 940 844 939 900 958C956 977 960 997 1000 1030C1040 1063 1058 1070 1070 1100C1082 1130 1069 1134 1050 1160C1031 1186 1016 1182 990 1210C964 1238 961 1250 940 1280C919 1310 909 1265 900 1340C891 1415 1110 1539 900 1600C690 1661 210 1773 0 1600C-210 1427 -70 1034 0 860Z" fill="#2a2a2a"/><path d="M0 1000C35 858 112 949 150 990C188 1031 123 1133 165 1175C207 1217 252 1164 330 1168C408 1172 437 1173 500 1190C563 1207 553 1219 600 1240C647 1261 658 1266 700 1280C742 1294 757 1284 780 1300C803 1316 800 1280 800 1350C800 1420 967 1542 780 1600C593 1658 182 1740 0 1600C-182 1460 -35 1142 0 1000Z" fill="#0e0e0e"/><path d="M800 0C997 -17 1800 -150 2000 0C2200 150 2087 750 2000 900C1913 1050 1580 903 1480 900C1380 897 1423 893 1400 880C1377 867 1358 847 1340 820C1322 793 1312 753 1290 720C1268 687 1232 653 1210 620C1188 587 1185 547 1160 520C1135 493 1095 487 1060 460C1025 433 983 402 950 360C917 318 882 253 860 210C838 167 830 135 820 100C810 65 603 17 800 0Z" fill="#9c9c9c"/><path d="M1380 1030C1393 1025 1427 1035 1450 1050C1473 1065 1502 1095 1520 1120C1538 1145 1560 1177 1560 1200C1560 1223 1538 1257 1520 1260C1502 1263 1470 1242 1450 1220C1430 1198 1413 1153 1400 1130C1387 1107 1373 1097 1370 1080C1367 1063 1367 1035 1380 1030Z" fill="#9c9c9c"/><path d="M1700 1330C1733 1322 1767 1338 1800 1350C1833 1362 1883 1382 1900 1400C1917 1418 1942 1450 1900 1460C1858 1470 1700 1470 1650 1460C1600 1450 1592 1422 1600 1400C1608 1378 1667 1338 1700 1330Z" fill="#9c9c9c"/></g><g filter="url(#b12)"><path d="M1560 1020C1573 1030 1618 1058 1640 1080C1662 1102 1682 1122 1690 1150C1698 1178 1685 1225 1690 1250C1695 1275 1715 1292 1720 1300" fill="none" stroke="#636363" stroke-width="70" stroke-linecap="round" stroke-linejoin="round"/></g><g filter="url(#b10)"><path d="M960 63C985 60 1063 117 1100 150C1137 183 1158 218 1180 260C1202 302 1213 357 1230 400C1247 443 1263 480 1280 520C1297 560 1313 607 1330 640C1347 673 1358 700 1380 720C1402 740 1443 740 1460 760C1477 780 1490 833 1480 840C1470 847 1423 813 1400 800C1377 787 1362 780 1340 760C1318 740 1293 713 1270 680C1247 647 1223 595 1200 560C1177 525 1153 500 1130 470C1107 440 1082 412 1060 380C1038 348 1018 315 1000 280C982 245 957 206 950 170C943 134 935 66 960 63Z" fill="#b8b8b8"/><path d="M1080 200C1092 222 1130 288 1150 330C1170 372 1183 413 1200 450C1217 487 1242 533 1250 550" fill="none" stroke="#d4d4d4" stroke-width="50" stroke-linecap="round" stroke-linejoin="round"/><path d="M1490 1050C1502 1062 1542 1097 1560 1120C1578 1143 1593 1178 1600 1190" fill="none" stroke="#b8b8b8" stroke-width="30" stroke-linecap="round" stroke-linejoin="round"/></g><g filter="url(#b8)"><ellipse cx="1165" cy="395" rx="30" ry="55" fill="#f1f1f1" transform="rotate(-20 1165 395)"/></g><g filter="url(#b6)"><ellipse cx="1350" cy="750" rx="14" ry="30" fill="#f1f1f1" transform="rotate(-30 1350 750)"/></g></g></g><use href="#land"/><g fill="#fff"><ellipse cx="1052" cy="735" rx="6" ry="18"/><rect x="1350" y="825" width="30" height="8"/><rect x="1372" y="825" width="8" height="30"/><rect x="850" y="122" width="50" height="8"/></g><g fill="none" stroke-linecap="round"><path d="M1006.8 208.7h0M1141.4 293.6h0M1181.9 444.9h0M1089.2 225.2h0M1071 232.5h0M911.8 172.3h0M1006.1 139.9h0M1081.1 233.5h0M947.6 279.8h0M1150.5 284.6h0M1177.9 350.8h0M965 110.9h0M834.7 75.2h0M938.6 205.8h0M880.1 291.7h0M887.4 327.4h0M1003.2 142.2h0M947.6 233.3h0M1071.7 241.3h0M959.1 334.8h0M1077.4 298.1h0M1010.4 324.2h0M1241.3 568.6h0M1168.2 312h0M1091.2 361.3h0M943.8 92h0M928.9 106.2h0M1040.9 321.5h0M822.7 219.9h0M953.6 187.3h0M829.8 239.3h0M1172.5 379.9h0M843.5 244.2h0M949.6 308.6h0M1134 422.3h0M951.6 97h0M901.4 325.4h0M806 125.5h0M1098 222.9h0M983.9 175.6h0M1212.6 496.8h0M1065.7 205h0M1174.8 477.8h0M816.7 68.5h0M777.4 64.4h0M1064.9 215.2h0M951.1 393.8h0M1049.9 412.2h0M1004.2 213.5h0M1184.6 383.9h0M1022.5 129.8h0M1066 326.8h0M1245.5 547.4h0M878.5 137h0M907.7 109h0M949.2 133.1h0M1240.7 529.2h0M1008.4 265.9h0M776.7 136.2h0M1017.8 126.3h0M933.1 151.1h0M836.3 165.5h0M1146.4 318h0M998 288.3h0M1113.1 330.4h0M778.7 130.4h0M980.9 205.2h0M1038 255.7h0M1150.8 431.5h0M1035.2 157.8h0M759.5 70.8h0M855.4 232.4h0M824.7 95.4h0M1140.1 454.3h0M1140.6 394.1h0M936.5 166h0M861.4 277.1h0M1040.8 263h0M976.5 388.6h0M1080.4 402.2h0M878.8 211h0M974.3 269.6h0M1033.5 161.3h0M886.3 235.2h0M953.6 393.4h0M1209 462.5h0M891.6 160.7h0M814.2 118h0M920 296.9h0M1121.9 403.9h0M1008.3 242.8h0M1078.1 170.4h0M837.5 125.9h0M862.6 258.8h0M1065.8 395h0M1145.4 289.6h0M958.1 384.4h0M1014.4 204h0M966.2 391.1h0M999.7 121h0M997.8 245.5h0M1074 331h0M1090.8 419.3h0M1023.3 258.7h0M1076.9 361.8h0M1196.2 401.9h0M1080.6 295.9h0M764.6 79.9h0M1094.5 376.1h0M998.8 177.6h0M936.3 268.9h0M1090.9 218.6h0M1048.8 342.5h0M1110.6 418.8h0M1052.9 331.4h0M919.4 365.1h0M1021.6 182.8h0M1069.2 340.5h0M1214.9 563.4h0M895.5 230.5h0M981.1 172.4h0M1155.6 426.3h0M963.4 262.5h0M964.7 222.3h0M1075.4 342.2h0M856.1 232.9h0M932.6 139.4h0M1092.9 396.2h0M1083.5 179.2h0M914 175.2h0M1211.1 483h0M950.5 376.9h0M1073.1 354.8h0M876.6 156.8h0M837.1 262.1h0M828 133.3h0M963 351.6h0M1059.5 245.2h0M1091.1 275.2h0M1048.2 395.5h0M973.1 346.2h0M1162.8 403.3h0M850.5 151.9h0M874.9 143.9h0M1051.3 214.8h0M941.2 232.9h0M1207.1 535.9h0M1211.1 460h0M826.5 71.2h0M862.3 121.3h0M1119.8 243.5h0M1260.9 568.6h0M1173.1 324.4h0M850.5 256h0M963.8 242.6h0M976.3 246.9h0M968.5 208.6h0M807.3 75.1h0M914.5 308.1h0M876.2 201.8h0M1031.4 215h0M826.3 92.2h0M872.8 127.9h0M1026.2 362.5h0M830.6 142.1h0M825.7 162.2h0M1218 478.3h0M1042.8 325.8h0M805.2 113.9h0M831.6 183.1h0M1027.7 337.9h0M1066.6 347.7h0M1196.8 406.7h0M1220.5 525.2h0M1165 467.6h0M1238.5 558.3h0M805.8 132.3h0M900.8 314.1h0M754.3 69.1h0M1196.9 416.1h0M1060.2 415.8h0M944.4 370.4h0M1078.5 228.2h0M1212.4 452.2h0M1104.9 404.2h0M973 311.6h0M973.1 265.8h0M944 179.3h0M1206.5 444.5h0M1013.6 419.8h0M974.4 299.4h0M1084.1 206.7h0M984.4 325.4h0M988.4 373.9h0M896.4 176.1h0M1004.4 221.5h0M1042.9 157.9h0M1247.7 609.1h0M1188.1 435.4h0M1117.7 436.4h0M894.4 281.6h0M1077.3 216.8h0M994.8 170.3h0M1050.2 192.6h0M1049.6 371.8h0M1009.5 121.4h0M1023.7 192.1h0M1223.9 567.6h0M905.1 341h0M956.9 164.8h0M976.8 201.9h0M943.1 137.2h0M1102.1 328h0M987 250.5h0M798.3 104h0M844.5 204h0M966.8 179h0M1040.5 233.2h0M777.6 98.1h0M864.8 179.3h0M1051 303.9h0M794.4 111.6h0M855.7 163.2h0M1194 481.1h0M802.6 90.7h0M1019.6 270.9h0M916.2 227.2h0M980.9 190.4h0M1062.9 182.5h0M985.7 241.4h0M800.9 85h0M1181 422.7h0M1162.4 423.5h0M846.7 158.1h0M991.3 193.8h0M930.7 79h0M981.3 174.5h0M1018.4 263h0M1200.4 446h0M1113.8 194.5h0M1009.4 211.2h0M847.9 102.1h0M1011.2 150h0M1102.2 250.8h0M1003.1 317.3h0M829.1 143.7h0M968.4 198.3h0M1131.2 374.8h0M959.1 347.6h0M984.5 244.7h0M1021.3 229.1h0M926.3 378.3h0M1141.1 268.5h0M1031.2 199.7h0M1193 502.3h0M1176.8 471.4h0M1244.8 571.4h0M864.9 115.6h0M1190.6 363.8h0M964.9 106.9h0M1205 497.6h0M983.5 300.9h0M1129 248.1h0M999.3 234.1h0M1015.5 291.6h0M980.5 339.3h0M999.5 205h0M1120.7 432.4h0M938.7 375.4h0M1082.9 274.1h0M115.2 78.6h0M141 79h0M173.6 76.1h0M174.1 97.4h0M259.8 129.6h0M270.5 131.6h0M342.4 111.2h0M340.2 122.6h0M346.4 134.6h0M343.2 143.1h0M384.1 130.8h0M409.4 131.8h0M431.7 81.7h0M437.1 95.2h0M496.5 76.1h0M497.1 71.1h0M512 70.9h0M524.5 81.4h0M530.5 91h0M550.6 104.5h0M556.3 113.9h0M580.5 117.7h0M595.7 125.6h0M605.7 126.9h0M613.6 129.2h0M639.5 128.4h0M648.8 124.5h0M493.3 124.3h0M489.4 143h0M494.1 142.1h0M495.4 164.9h0M497.3 176.1h0M583.1 158.8h0M584.3 177.2h0M586.2 194.3h0M579.8 221.9h0M638.2 155.2h0M652 154.3h0M670.8 148h0M721.6 152.7h0M730.5 151.9h0M754.6 151.9h0M184.1 200.9h0M199.9 204.4h0M218.3 208.7h0M308.5 252.3h0M328.2 245.3h0M357.8 242.7h0M373.4 249.7h0M406.9 258.8h0M423 259.6h0M437.8 263.7h0M472.5 269.9h0M209.5 274.9h0M224.6 298.7h0M245.4 307.5h0M274.1 304.9h0M278.3 286.9h0M287 289.2h0M310.3 292.7h0M324.8 295.4h0M345.2 300.6h0M328.1 328.2h0M355.5 337.7h0M361 340h0M385.2 344.7h0M388.8 346.2h0M400.5 349.5h0M430.8 361h0M430.1 355.5h0M453.1 365.3h0M550.1 278.6h0M548.5 289.2h0M548.3 302.9h0M560.7 308.2h0M572.1 311.4h0M649 245.1h0M646.1 260.7h0M637.1 276.6h0M636.7 280.1h0M633.2 304.5h0M622.4 319.3h0M705.6 202.9h0M709.8 220.5h0M719.7 227.7h0M723.4 240.1h0M731.8 254.4h0M740.1 256.1h0M717.1 308h0M733.6 331.3h0M735.5 330.6h0M717.5 347.8h0M772.2 239.8h0M789.4 226.3h0M794 217h0M802.3 211.1h0M785.9 301.3h0M796.3 295.7h0M809 291.5h0M820.6 294.2h0M843.7 292.2h0M850.2 293h0M861.7 288.6h0M877.7 299h0M898.3 293.9h0M351.6 396.1h0M370.4 424.1h0M381.2 439.7h0M410.1 465.1h0M417.9 464.7h0M456.7 470.9h0M481.1 469.7h0M558.9 393.6h0M579.6 412.4h0M626.3 408.4h0M645.1 417.5h0M651.5 420.3h0M666.1 423.2h0M677 423.4h0M684.3 425h0M699.3 428.8h0M707.1 438.8h0M695.6 407.2h0M700.4 422h0M693.3 446.9h0M694 453h0M741.9 472h0M755.1 471.5h0M763.6 461.1h0M772.4 463.6h0M803 410.8h0M807.9 402.2h0M814.5 398.9h0M842.7 465.6h0M852.7 460h0M865.3 457.9h0M882.3 455.3h0M895.3 455.3h0M773.1 508.2h0M742.7 522.4h0M678 518.1h0M673.7 530.1h0M669.2 536.6h0M662.7 557.2h0M480.6 574.6h0M494.3 577.5h0M888.9 514.1h0M929.7 496.7h0M990.3 523.6h0M986.4 535.4h0M979.1 543h0M970.7 555.6h0M960.1 570h0M1118.1 521.1h0M1101.3 538.2h0M1091.8 551.8h0M1084.5 557.1h0M1074.2 614h0M1091 611.7h0M320 563h0M582 587h0M840 598h0M918 612h0M1033 522h0M652 745h0M1056 716h0M1092 758h0M1097 828h0M870 915h0M1008 972h0M1243 832h0M968.7 1045.5h0M976.2 1041.1h0M981.8 1038.5h0M981.5 1037.3h0M1132.5 903.4h0M1141.6 909.5h0M1145.6 920.2h0M1156.1 937.4h0M1158.8 939.8h0M1193.2 814.5h0M1204 808.9h0M1248.1 789.3h0M1255.8 792h0M1261.8 787.7h0M1210.5 622.8h0M1213.8 652.2h0M1218.8 682.6h0M1220.6 685h0M1244.4 699.5h0M1298.2 657.8h0M1297.2 676.1h0M1298 759.8h0M1299.5 768.2h0M1301.5 784.2h0M1314.4 786.5h0M1338.8 858.8h0M1328.8 871.8h0M1323.6 884.6h0M1371.8 905.8h0M1373.6 913.7h0M1378.1 923.3h0M1380.2 933.4h0M1424.3 980.2h0M1423.8 984.3h0M1360 768h0M1305 925h0M1375 1010h0M1455 1037h0M1510 1030h0M1390 1105h0M1280 1247h0M1255 1295h0M1518 1207h0M1690 1290h0M1563 1297h0M1518 1318h0M1548 1355h0M1748 1312h0M1728 1362h0M1215 1372h0M1345 1378h0M1520 1397h0M1720 1395h0M1785 1395h0M1855 1410h0M1285 1410h0M1758 1433h0M1558 1440h0M1304.4 1191h0M1304.8 1200.4h0M1306.6 1203h0M1399 1260.7h0M1406.9 1261.5h0M1582.6 1184.7h0M1602.3 1169.6h0M1611.4 1180h0M1614.3 1193.2h0M1620.2 1266.6h0M1632.1 1272.9h0M1601.9 1318.2h0M1609.3 1323.5h0M1615 1329.9h0M1456.2 1345h0M1448.3 1350.8h0M1647.6 1312.1h0M1649 1332.2h0M1652.2 1348.3h0M1692.4 1315.2h0M1698.5 1316.2h0M1599 1379.6h0M1590 1400.9h0M1583.5 1399.4h0" stroke="#f6921e" stroke-width="23.2"/><path d="M1006.8 208.7h0M1141.4 293.6h0M1181.9 444.9h0M1089.2 225.2h0M1071 232.5h0M911.8 172.3h0M1006.1 139.9h0M1081.1 233.5h0M947.6 279.8h0M1150.5 284.6h0M1177.9 350.8h0M965 110.9h0M834.7 75.2h0M938.6 205.8h0M880.1 291.7h0M887.4 327.4h0M1003.2 142.2h0M947.6 233.3h0M1071.7 241.3h0M959.1 334.8h0M1077.4 298.1h0M1010.4 324.2h0M1241.3 568.6h0M1168.2 312h0M1091.2 361.3h0M943.8 92h0M928.9 106.2h0M1040.9 321.5h0M822.7 219.9h0M953.6 187.3h0M829.8 239.3h0M1172.5 379.9h0M843.5 244.2h0M949.6 308.6h0M1134 422.3h0M951.6 97h0M901.4 325.4h0M806 125.5h0M1098 222.9h0M983.9 175.6h0M1212.6 496.8h0M1065.7 205h0M1174.8 477.8h0M816.7 68.5h0M777.4 64.4h0M1064.9 215.2h0M951.1 393.8h0M1049.9 412.2h0M1004.2 213.5h0M1184.6 383.9h0M1022.5 129.8h0M1066 326.8h0M1245.5 547.4h0M878.5 137h0M907.7 109h0M949.2 133.1h0M1240.7 529.2h0M1008.4 265.9h0M776.7 136.2h0M1017.8 126.3h0M933.1 151.1h0M836.3 165.5h0M1146.4 318h0M998 288.3h0M1113.1 330.4h0M778.7 130.4h0M980.9 205.2h0M1038 255.7h0M1150.8 431.5h0M1035.2 157.8h0M759.5 70.8h0M855.4 232.4h0M824.7 95.4h0M1140.1 454.3h0M1140.6 394.1h0M936.5 166h0M861.4 277.1h0M1040.8 263h0M976.5 388.6h0M1080.4 402.2h0M878.8 211h0M974.3 269.6h0M1033.5 161.3h0M886.3 235.2h0M953.6 393.4h0M1209 462.5h0M891.6 160.7h0M814.2 118h0M920 296.9h0M1121.9 403.9h0M1008.3 242.8h0M1078.1 170.4h0M837.5 125.9h0M862.6 258.8h0M1065.8 395h0M1145.4 289.6h0M958.1 384.4h0M1014.4 204h0M966.2 391.1h0M999.7 121h0M997.8 245.5h0M1074 331h0M1090.8 419.3h0M1023.3 258.7h0M1076.9 361.8h0M1196.2 401.9h0M1080.6 295.9h0M764.6 79.9h0M1094.5 376.1h0M998.8 177.6h0M936.3 268.9h0M1090.9 218.6h0M1048.8 342.5h0M1110.6 418.8h0M1052.9 331.4h0M919.4 365.1h0M1021.6 182.8h0M1069.2 340.5h0M1214.9 563.4h0M895.5 230.5h0M981.1 172.4h0M1155.6 426.3h0M963.4 262.5h0M964.7 222.3h0M1075.4 342.2h0M856.1 232.9h0M932.6 139.4h0M1092.9 396.2h0M1083.5 179.2h0M914 175.2h0M1211.1 483h0M950.5 376.9h0M1073.1 354.8h0M876.6 156.8h0M837.1 262.1h0M828 133.3h0M963 351.6h0M1059.5 245.2h0M1091.1 275.2h0M1048.2 395.5h0M973.1 346.2h0M1162.8 403.3h0M850.5 151.9h0M874.9 143.9h0M1051.3 214.8h0M941.2 232.9h0M1207.1 535.9h0M1211.1 460h0M826.5 71.2h0M862.3 121.3h0M1119.8 243.5h0M1260.9 568.6h0M1173.1 324.4h0M850.5 256h0M963.8 242.6h0M976.3 246.9h0M968.5 208.6h0M807.3 75.1h0M914.5 308.1h0M876.2 201.8h0M1031.4 215h0M826.3 92.2h0M872.8 127.9h0M1026.2 362.5h0M830.6 142.1h0M825.7 162.2h0M1218 478.3h0M1042.8 325.8h0M805.2 113.9h0M831.6 183.1h0M1027.7 337.9h0M1066.6 347.7h0M1196.8 406.7h0M1220.5 525.2h0M1165 467.6h0M1238.5 558.3h0M805.8 132.3h0M900.8 314.1h0M754.3 69.1h0M1196.9 416.1h0M1060.2 415.8h0M944.4 370.4h0M1078.5 228.2h0M1212.4 452.2h0M1104.9 404.2h0M973 311.6h0M973.1 265.8h0M944 179.3h0M1206.5 444.5h0M1013.6 419.8h0M974.4 299.4h0M1084.1 206.7h0M984.4 325.4h0M988.4 373.9h0M896.4 176.1h0M1004.4 221.5h0M1042.9 157.9h0M1247.7 609.1h0M1188.1 435.4h0M1117.7 436.4h0M894.4 281.6h0M1077.3 216.8h0M994.8 170.3h0M1050.2 192.6h0M1049.6 371.8h0M1009.5 121.4h0M1023.7 192.1h0M1223.9 567.6h0M905.1 341h0M956.9 164.8h0M976.8 201.9h0M943.1 137.2h0M1102.1 328h0M987 250.5h0M798.3 104h0M844.5 204h0M966.8 179h0M1040.5 233.2h0M777.6 98.1h0M864.8 179.3h0M1051 303.9h0M794.4 111.6h0M855.7 163.2h0M1194 481.1h0M802.6 90.7h0M1019.6 270.9h0M916.2 227.2h0M980.9 190.4h0M1062.9 182.5h0M985.7 241.4h0M800.9 85h0M1181 422.7h0M1162.4 423.5h0M846.7 158.1h0M991.3 193.8h0M930.7 79h0M981.3 174.5h0M1018.4 263h0M1200.4 446h0M1113.8 194.5h0M1009.4 211.2h0M847.9 102.1h0M1011.2 150h0M1102.2 250.8h0M1003.1 317.3h0M829.1 143.7h0M968.4 198.3h0M1131.2 374.8h0M959.1 347.6h0M984.5 244.7h0M1021.3 229.1h0M926.3 378.3h0M1141.1 268.5h0M1031.2 199.7h0M1193 502.3h0M1176.8 471.4h0M1244.8 571.4h0M864.9 115.6h0M1190.6 363.8h0M964.9 106.9h0M1205 497.6h0M983.5 300.9h0M1129 248.1h0M999.3 234.1h0M1015.5 291.6h0M980.5 339.3h0M999.5 205h0M1120.7 432.4h0M938.7 375.4h0M1082.9 274.1h0M115.2 78.6h0M141 79h0M173.6 76.1h0M174.1 97.4h0M259.8 129.6h0M270.5 131.6h0M342.4 111.2h0M340.2 122.6h0M346.4 134.6h0M343.2 143.1h0M384.1 130.8h0M409.4 131.8h0M431.7 81.7h0M437.1 95.2h0M496.5 76.1h0M497.1 71.1h0M512 70.9h0M524.5 81.4h0M530.5 91h0M550.6 104.5h0M556.3 113.9h0M580.5 117.7h0M595.7 125.6h0M605.7 126.9h0M613.6 129.2h0M639.5 128.4h0M648.8 124.5h0M493.3 124.3h0M489.4 143h0M494.1 142.1h0M495.4 164.9h0M497.3 176.1h0M583.1 158.8h0M584.3 177.2h0M586.2 194.3h0M579.8 221.9h0M638.2 155.2h0M652 154.3h0M670.8 148h0M721.6 152.7h0M730.5 151.9h0M754.6 151.9h0M184.1 200.9h0M199.9 204.4h0M218.3 208.7h0M308.5 252.3h0M328.2 245.3h0M357.8 242.7h0M373.4 249.7h0M406.9 258.8h0M423 259.6h0M437.8 263.7h0M472.5 269.9h0M209.5 274.9h0M224.6 298.7h0M245.4 307.5h0M274.1 304.9h0M278.3 286.9h0M287 289.2h0M310.3 292.7h0M324.8 295.4h0M345.2 300.6h0M328.1 328.2h0M355.5 337.7h0M361 340h0M385.2 344.7h0M388.8 346.2h0M400.5 349.5h0M430.8 361h0M430.1 355.5h0M453.1 365.3h0M550.1 278.6h0M548.5 289.2h0M548.3 302.9h0M560.7 308.2h0M572.1 311.4h0M649 245.1h0M646.1 260.7h0M637.1 276.6h0M636.7 280.1h0M633.2 304.5h0M622.4 319.3h0M705.6 202.9h0M709.8 220.5h0M719.7 227.7h0M723.4 240.1h0M731.8 254.4h0M740.1 256.1h0M717.1 308h0M733.6 331.3h0M735.5 330.6h0M717.5 347.8h0M772.2 239.8h0M789.4 226.3h0M794 217h0M802.3 211.1h0M785.9 301.3h0M796.3 295.7h0M809 291.5h0M820.6 294.2h0M843.7 292.2h0M850.2 293h0M861.7 288.6h0M877.7 299h0M898.3 293.9h0M351.6 396.1h0M370.4 424.1h0M381.2 439.7h0M410.1 465.1h0M417.9 464.7h0M456.7 470.9h0M481.1 469.7h0M558.9 393.6h0M579.6 412.4h0M626.3 408.4h0M645.1 417.5h0M651.5 420.3h0M666.1 423.2h0M677 423.4h0M684.3 425h0M699.3 428.8h0M707.1 438.8h0M695.6 407.2h0M700.4 422h0M693.3 446.9h0M694 453h0M741.9 472h0M755.1 471.5h0M763.6 461.1h0M772.4 463.6h0M803 410.8h0M807.9 402.2h0M814.5 398.9h0M842.7 465.6h0M852.7 460h0M865.3 457.9h0M882.3 455.3h0M895.3 455.3h0M773.1 508.2h0M742.7 522.4h0M678 518.1h0M673.7 530.1h0M669.2 536.6h0M662.7 557.2h0M480.6 574.6h0M494.3 577.5h0M888.9 514.1h0M929.7 496.7h0M990.3 523.6h0M986.4 535.4h0M979.1 543h0M970.7 555.6h0M960.1 570h0M1118.1 521.1h0M1101.3 538.2h0M1091.8 551.8h0M1084.5 557.1h0M1074.2 614h0M1091 611.7h0M320 563h0M582 587h0M840 598h0M918 612h0M1033 522h0M652 745h0M1056 716h0M1092 758h0M1097 828h0M870 915h0M1008 972h0M1243 832h0M968.7 1045.5h0M976.2 1041.1h0M981.8 1038.5h0M981.5 1037.3h0M1132.5 903.4h0M1141.6 909.5h0M1145.6 920.2h0M1156.1 937.4h0M1158.8 939.8h0M1193.2 814.5h0M1204 808.9h0M1248.1 789.3h0M1255.8 792h0M1261.8 787.7h0M1210.5 622.8h0M1213.8 652.2h0M1218.8 682.6h0M1220.6 685h0M1244.4 699.5h0M1298.2 657.8h0M1297.2 676.1h0M1298 759.8h0M1299.5 768.2h0M1301.5 784.2h0M1314.4 786.5h0M1338.8 858.8h0M1328.8 871.8h0M1323.6 884.6h0M1371.8 905.8h0M1373.6 913.7h0M1378.1 923.3h0M1380.2 933.4h0M1424.3 980.2h0M1423.8 984.3h0M1360 768h0M1305 925h0M1375 1010h0M1455 1037h0M1510 1030h0M1390 1105h0M1280 1247h0M1255 1295h0M1518 1207h0M1690 1290h0M1563 1297h0M1518 1318h0M1548 1355h0M1748 1312h0M1728 1362h0M1215 1372h0M1345 1378h0M1520 1397h0M1720 1395h0M1785 1395h0M1855 1410h0M1285 1410h0M1758 1433h0M1558 1440h0M1304.4 1191h0M1304.8 1200.4h0M1306.6 1203h0M1399 1260.7h0M1406.9 1261.5h0M1582.6 1184.7h0M1602.3 1169.6h0M1611.4 1180h0M1614.3 1193.2h0M1620.2 1266.6h0M1632.1 1272.9h0M1601.9 1318.2h0M1609.3 1323.5h0M1615 1329.9h0M1456.2 1345h0M1448.3 1350.8h0M1647.6 1312.1h0M1649 1332.2h0M1652.2 1348.3h0M1692.4 1315.2h0M1698.5 1316.2h0M1599 1379.6h0M1590 1400.9h0M1583.5 1399.4h0" stroke="#e8472a" stroke-width="12.2"/></g></svg><rect x="594.2" y="55" width="309.7" height="234.4" fill="none" stroke="#000" stroke-width="1.78"/><path d="M594.45 55V289.15H903.9" fill="none" stroke="#000" stroke-width="2.33"/><path d="M593.39 55h-4.06M593.39 104.28h-4.06M593.39 152.21h-4.06M593.39 198.95h-4.06M593.39 244.63h-4.06M593.39 289.4h-4.06M647.13 290.21v4.06M729.06 290.21v4.06M810.99 290.21v4.06M892.92 290.21v4.06" stroke="#222" stroke-width="1.37" fill="none"/><g font-size="13.15" fill="#4d4d4d"><text x="585.77" y="59.72" text-anchor="end">35.0</text><text x="585.77" y="109" text-anchor="end">32.5</text><text x="585.77" y="156.93" text-anchor="end">30.0</text><text x="585.77" y="203.67" text-anchor="end">27.5</text><text x="585.77" y="249.35" text-anchor="end">25.0</text><text x="585.77" y="294.12" text-anchor="end">22.5</text><text x="647.13" y="307.98" text-anchor="middle">235</text><text x="729.06" y="307.98" text-anchor="middle">240</text><text x="810.99" y="307.98" text-anchor="middle">245</text><text x="892.92" y="307.98" text-anchor="middle">250</text></g><text x="749.05" y="328.18" font-size="16.45" text-anchor="middle" letter-spacing="0.34">Longitude<tspan dy="-7.72" dx="0.3" font-size="11.98">o</tspan></text><text transform="translate(551.56 172.2) rotate(-90)" font-size="16.45" text-anchor="middle" letter-spacing="0.34">Latitude<tspan dy="-7.72" dx="0.3" font-size="11.98">o</tspan></text><text x="929.51" y="92.3" font-size="16.45" fill="#000" letter-spacing="0.2">Density</text><rect x="929.1" y="102.2" width="17.6" height="17.92" fill="#441654"/><rect x="929.1" y="120.42" width="17.6" height="17.92" fill="#472d7b"/><rect x="929.1" y="138.64" width="17.6" height="17.92" fill="#3b528b"/><rect x="929.1" y="156.87" width="17.6" height="17.92" fill="#2c728e"/><rect x="929.1" y="175.09" width="17.6" height="17.92" fill="#21918c"/><rect x="929.1" y="193.31" width="17.6" height="17.92" fill="#28ae80"/><rect x="929.1" y="211.53" width="17.6" height="17.92" fill="#5ec962"/><rect x="929.1" y="229.76" width="17.6" height="17.92" fill="#addc30"/><rect x="929.1" y="247.98" width="17.6" height="17.92" fill="#fde725"/><g font-size="13.41"><text x="955.9" y="115.42">(0,0.0649]</text><text x="955.9" y="133.65">(0.0649,0.124]</text><text x="955.9" y="151.87">(0.124,0.223]</text><text x="955.9" y="170.09">(0.223,0.542]</text><text x="955.9" y="188.31">(0.542,1.05]</text><text x="955.9" y="206.54">(1.05,1.4]</text><text x="955.9" y="224.76">(1.4,1.95]</text><text x="955.9" y="242.98">(1.95,2.28]</text><text x="955.9" y="261.2">(2.28,4.78]</text></g><svg x="596.7" y="354.1" width="304.8" height="230.1" viewBox="0 0 1993 1512.2" preserveAspectRatio="none"><g clip-path="url(#dc)"><g filter="url(#qB2)"><rect x="0" y="0" width="1993" height="1513" fill="#767676"/><g filter="url(#b27)"><path fill="#000000" d="M500 -300h2001v401h-2001zM500 100h2001v101h-2001zM700 200h401v101h-401zM800 300h201v101h-201zM1100 300h1401v101h-1401zM1100 400h101v101h-101zM1300 400h1201v101h-1201z"/><path fill="#070707" d="M400 -300h101v401h-101zM400 100h101v101h-101zM600 200h101v101h-101zM1100 200h1401v101h-1401zM1000 300h101v101h-101zM600 400h101v101h-101zM800 400h301v101h-301zM1200 400h101v101h-101zM600 500h201v101h-201zM1200 900h101v101h-101zM1200 1000h101v101h-101z"/><path fill="#1d1d1d" d="M600 300h201v101h-201zM500 400h101v101h-101zM800 500h1701v101h-1701zM1300 600h1201v101h-1201zM1200 700h201v101h-201zM1300 900h101v101h-101zM1100 1000h101v101h-101zM1300 1000h101v101h-101zM1200 1100h201v101h-201z"/><path fill="#333333" d="M300 -300h101v401h-101zM300 100h101v101h-101zM400 200h201v101h-201zM500 300h101v101h-101zM700 400h101v101h-101zM500 500h101v101h-101zM1200 600h101v101h-101zM1200 800h301v101h-301zM1100 900h101v101h-101z"/><path fill="#494949" d="M300 200h101v101h-101zM400 400h101v101h-101zM1100 600h101v101h-101zM1100 700h101v101h-101zM1000 900h101v101h-101zM1000 1000h101v101h-101zM1100 1100h101v101h-101zM1200 1200h201v101h-201z"/><path fill="#5f5f5f" d="M200 -300h101v401h-101zM200 100h101v101h-101zM200 200h101v101h-101zM300 300h201v101h-201zM300 400h101v101h-101zM1000 600h101v101h-101zM1000 700h101v101h-101zM1400 700h1101v101h-1101zM300 800h101v101h-101zM1100 800h101v101h-101zM1100 1300h101v101h-101zM1300 1300h101v101h-101zM1300 1400h101v101h-101zM1300 1500h101v401h-101z"/><path fill="#757575" d="M400 500h101v101h-101zM900 600h101v101h-101zM400 800h101v101h-101zM600 800h201v101h-201zM1500 800h1001v101h-1001zM900 1000h101v101h-101zM300 1100h101v101h-101zM700 1100h201v101h-201zM700 1200h201v101h-201zM1100 1200h101v101h-101zM-300 1300h501v101h-501zM1000 1300h101v101h-101zM1200 1300h101v101h-101zM1400 1300h101v101h-101zM1200 1400h101v101h-101zM1400 1400h101v101h-101zM1200 1500h101v401h-101zM1400 1500h101v401h-101z"/><path fill="#8a8a8a" d="M-300 200h501v101h-501zM200 300h101v101h-101zM200 400h101v101h-101zM800 600h101v101h-101zM-300 800h601v101h-601zM600 900h101v101h-101zM1400 900h101v101h-101zM400 1000h101v101h-101zM900 1300h101v101h-101zM1100 1400h101v101h-101zM1500 1400h101v101h-101zM1100 1500h101v401h-101zM1500 1500h101v401h-101z"/><path fill="#a0a0a0" d="M-300 -300h501v401h-501zM-300 100h501v101h-501zM600 600h201v101h-201zM500 800h101v101h-101zM400 900h101v101h-101zM1400 1000h101v101h-101zM1000 1100h101v101h-101zM1400 1100h101v101h-101zM400 1200h101v101h-101zM1000 1200h101v101h-101zM1400 1200h101v101h-101zM200 1300h101v101h-101zM700 1300h201v101h-201zM1500 1300h101v101h-101zM-300 1400h601v101h-601zM900 1400h101v101h-101zM1600 1400h101v101h-101zM-300 1500h601v401h-601zM900 1500h101v401h-101zM1600 1500h101v401h-101z"/><path fill="#b6b6b6" d="M300 500h101v101h-101zM500 600h101v101h-101zM300 700h101v101h-101zM700 700h201v101h-201zM500 900h101v101h-101zM1500 900h1001v101h-1001zM1600 1300h101v101h-101zM300 1400h101v101h-101zM1700 1400h101v101h-101zM300 1500h101v401h-101zM1700 1500h101v401h-101z"/><path fill="#cccccc" d="M-300 700h601v101h-601zM400 700h101v101h-101zM900 700h101v101h-101zM600 1000h301v101h-301zM200 1100h101v101h-101zM400 1100h101v101h-101zM-300 1200h501v101h-501zM500 1200h201v101h-201zM900 1200h101v101h-101zM300 1300h201v101h-201zM1700 1300h101v101h-101zM400 1400h101v101h-101zM800 1400h101v101h-101zM1000 1400h101v101h-101zM400 1500h101v401h-101zM800 1500h101v401h-101zM1000 1500h101v401h-101z"/><path fill="#e2e2e2" d="M-300 400h501v101h-501zM-300 500h501v101h-501zM400 600h101v101h-101zM500 700h101v101h-101zM800 800h101v101h-101zM900 900h101v101h-101zM300 1000h101v101h-101zM-300 1100h501v101h-501zM600 1100h101v101h-101zM900 1100h101v101h-101zM200 1200h201v101h-201zM500 1400h101v101h-101zM500 1500h101v401h-101z"/><path fill="#f8f8f8" d="M-300 300h501v101h-501zM200 500h101v101h-101zM300 600h101v101h-101zM600 700h101v101h-101zM900 800h101v101h-101zM700 900h201v101h-201zM500 1000h101v101h-101zM1500 1200h101v101h-101zM500 1300h101v101h-101zM700 1400h101v101h-101zM700 1500h101v401h-101z"/><path fill="#ffffff" d="M-300 600h601v101h-601zM1000 800h101v101h-101zM-300 900h701v101h-701zM-300 1000h601v101h-601zM1500 1000h1001v101h-1001zM500 1100h101v101h-101zM1500 1100h1001v101h-1001zM1600 1200h901v101h-901zM600 1300h101v101h-101zM1800 1300h701v101h-701zM600 1400h101v101h-101zM1800 1400h701v101h-701zM600 1500h101v401h-101zM1800 1500h701v401h-701z"/></g><g filter="url(#b8)"><ellipse cx="1400" cy="1370" rx="25" ry="18" fill="#525252"/></g></g></g><use href="#land"/><g fill="#fff"><ellipse cx="1048" cy="735" rx="6" ry="18"/><rect x="825" y="118" width="80" height="9"/><rect x="915" y="212" width="20" height="8"/><rect x="962" y="185" width="10" height="10"/><rect x="1020" y="248" width="22" height="8" transform="rotate(45 1030 250)"/><rect x="1028" y="198" width="14" height="8"/><rect x="1365" y="815" width="10" height="35"/></g></svg><rect x="596.7" y="354.1" width="304.8" height="230.1" fill="none" stroke="#000" stroke-width="1.7"/><path d="M596.94 354.1V583.96H901.5" fill="none" stroke="#000" stroke-width="2.24"/><path d="M595.92 354.1h-3.89M595.92 402.48h-3.89M595.92 449.53h-3.89M595.92 495.41h-3.89M595.92 540.26h-3.89M595.92 584.2h-3.89M648.79 584.98v3.89M729.43 584.98v3.89M810.06 584.98v3.89M890.69 584.98v3.89" stroke="#222" stroke-width="1.31" fill="none"/><g font-size="12.61" fill="#4d4d4d"><text x="588.62" y="358.63" text-anchor="end">35.0</text><text x="588.62" y="407.01" text-anchor="end">32.5</text><text x="588.62" y="454.06" text-anchor="end">30.0</text><text x="588.62" y="499.94" text-anchor="end">27.5</text><text x="588.62" y="544.78" text-anchor="end">25.0</text><text x="588.62" y="588.73" text-anchor="end">22.5</text><text x="648.79" y="602.02" text-anchor="middle">235</text><text x="729.43" y="602.02" text-anchor="middle">240</text><text x="810.06" y="602.02" text-anchor="middle">245</text><text x="890.69" y="602.02" text-anchor="middle">250</text></g><text x="749.1" y="623.54" font-size="15.77" text-anchor="middle" letter-spacing="0.32">Longitude<tspan dy="-7.4" dx="0.29" font-size="11.49">o</tspan></text><text transform="translate(555.8 469.15) rotate(-90)" font-size="15.77" text-anchor="middle" letter-spacing="0.32">Latitude<tspan dy="-7.4" dx="0.29" font-size="11.49">o</tspan></text><text x="926.79" y="348" font-size="15.77" fill="#000" letter-spacing="0.19">cv</text><rect x="926.4" y="358.8" width="17.3" height="17.18" fill="#441654"/><rect x="926.4" y="376.28" width="17.3" height="17.18" fill="#48246e"/><rect x="926.4" y="393.76" width="17.3" height="17.18" fill="#453581"/><rect x="926.4" y="411.24" width="17.3" height="17.18" fill="#3d4d8a"/><rect x="926.4" y="428.71" width="17.3" height="17.18" fill="#34618d"/><rect x="926.4" y="446.19" width="17.3" height="17.18" fill="#2b748e"/><rect x="926.4" y="463.67" width="17.3" height="17.18" fill="#24878e"/><rect x="926.4" y="481.15" width="17.3" height="17.18" fill="#1f998a"/><rect x="926.4" y="498.63" width="17.3" height="17.18" fill="#25ac82"/><rect x="926.4" y="516.11" width="17.3" height="17.18" fill="#40bd72"/><rect x="926.4" y="533.59" width="17.3" height="17.18" fill="#67cc5c"/><rect x="926.4" y="551.06" width="17.3" height="17.18" fill="#98d83e"/><rect x="926.4" y="568.54" width="17.3" height="17.18" fill="#cde11d"/><rect x="926.4" y="586.02" width="17.3" height="17.18" fill="#fde725"/><g font-size="12.86"><text x="951.9" y="371.48">(0,0.324]</text><text x="951.9" y="388.96">(0.324,0.382]</text><text x="951.9" y="406.44">(0.382,0.431]</text><text x="951.9" y="423.92">(0.431,0.472]</text><text x="951.9" y="441.39">(0.472,0.502]</text><text x="951.9" y="458.87">(0.502,0.534]</text><text x="951.9" y="476.35">(0.534,0.569]</text><text x="951.9" y="493.83">(0.569,0.6]</text><text x="951.9" y="511.31">(0.6,0.622]</text><text x="951.9" y="528.79">(0.622,0.644]</text><text x="951.9" y="546.27">(0.644,0.666]</text><text x="951.9" y="563.74">(0.666,0.694]</text><text x="951.9" y="581.22">(0.694,0.735]</text><text x="951.9" y="598.7">(0.735,1.37]</text></g><svg x="1124.2" y="51.5" width="288" height="217.8" viewBox="0 0 1993 1512.2" preserveAspectRatio="none"><g clip-path="url(#dc)"><g filter="url(#qC1)"><rect x="0" y="0" width="1993" height="1513" fill="#636363"/><g filter="url(#b12)"><path d="M0 0C87 -55 430 -25 520 0C610 25 543 100 540 150C537 200 523 262 500 300C477 338 442 363 400 380C358 397 303 408 250 400C197 392 126 342 84 330C42 318 14 385 0 330C-14 275 -87 55 0 0Z" fill="#474747"/><path d="M0 0C55 -33 270 -17 330 0C390 17 357 67 360 100C363 133 360 170 350 200C340 230 325 263 300 280C275 297 228 305 200 300C172 295 149 267 130 250C111 233 106 208 84 200C62 192 14 233 0 200C-14 167 -55 33 0 0Z" fill="#2a2a2a"/><path d="M560 0C793 -33 1760 -150 2000 0C2240 150 2108 750 2000 900C1892 1050 1470 908 1350 900C1230 892 1305 870 1280 850C1255 830 1238 793 1200 780C1162 767 1100 767 1050 770C1000 773 945 802 900 800C855 798 822 770 780 760C738 750 687 740 650 740C613 740 578 783 560 760C542 737 540 660 540 600C540 540 550 467 560 400C570 333 600 267 600 200C600 133 327 33 560 0Z" fill="#808080"/><path d="M0 880C50 763 217 887 300 900C383 913 447 943 500 960C553 977 583 1000 620 1000C657 1000 682 970 720 960C758 950 803 940 850 940C897 940 950 952 1000 960C1050 968 1108 1000 1150 990C1192 980 1222 915 1250 900C1278 885 1295 887 1320 900C1345 913 1370 947 1400 980C1430 1013 1467 1063 1500 1100C1533 1137 1567 1167 1600 1200C1633 1233 1667 1267 1700 1300C1733 1333 1767 1373 1800 1400C1833 1427 1883 1427 1900 1460C1917 1493 2217 1577 1900 1600C1583 1623 317 1720 0 1600C-317 1480 -50 997 0 880Z" fill="#474747"/><path d="M1000 1180C1042 1168 1100 1153 1150 1150C1200 1147 1267 1143 1300 1160C1333 1177 1358 1223 1350 1250C1342 1277 1292 1307 1250 1320C1208 1333 1150 1333 1100 1330C1050 1327 992 1297 950 1300C908 1303 875 1350 850 1350C825 1350 792 1322 800 1300C808 1278 867 1240 900 1220C933 1200 958 1192 1000 1180Z" fill="#636363"/><path d="M0 940C33 833 133 942 200 960C267 978 333 1018 400 1050C467 1082 542 1117 600 1150C658 1183 708 1218 750 1250C792 1282 808 1318 850 1340C892 1362 950 1378 1000 1380C1050 1382 1108 1357 1150 1350C1192 1343 1217 1343 1250 1340C1283 1337 1317 1340 1350 1330C1383 1320 1417 1293 1450 1280C1483 1267 1525 1247 1550 1250C1575 1253 1575 1285 1600 1300C1625 1315 1650 1290 1700 1340C1750 1390 2183 1557 1900 1600C1617 1643 317 1710 0 1600C-317 1490 -33 1047 0 940Z" fill="#2a2a2a"/><path d="M0 1150C33 1077 142 1152 200 1160C258 1168 300 1180 350 1200C400 1220 458 1255 500 1280C542 1305 567 1327 600 1350C633 1373 675 1378 700 1420C725 1462 867 1570 750 1600C633 1630 125 1675 0 1600C-125 1525 -33 1223 0 1150Z" fill="#0e0e0e"/><path d="M1450 1460C1455 1427 1463 1422 1480 1400C1497 1378 1522 1348 1550 1330C1578 1312 1617 1295 1650 1290C1683 1285 1717 1285 1750 1300C1783 1315 1823 1353 1850 1380C1877 1407 1900 1423 1910 1460C1920 1497 1987 1577 1910 1600C1833 1623 1527 1623 1450 1600C1373 1577 1445 1493 1450 1460Z" fill="#0e0e0e"/></g><g filter="url(#b14)"><path d="M1330 880C1342 893 1372 933 1400 960C1428 987 1467 1013 1500 1040C1533 1067 1573 1093 1600 1120C1627 1147 1643 1177 1660 1200C1677 1223 1693 1250 1700 1260" fill="none" stroke="#808080" stroke-width="150" stroke-linecap="round" stroke-linejoin="round"/></g><g filter="url(#b12)"><path d="M1560 1060C1570 1070 1605 1103 1620 1120C1635 1137 1645 1153 1650 1160" fill="none" stroke="#9c9c9c" stroke-width="60" stroke-linecap="round" stroke-linejoin="round"/></g><g filter="url(#b10)"><path d="M1300 870C1317 890 1367 950 1400 990C1433 1030 1467 1070 1500 1110C1533 1150 1567 1193 1600 1230C1633 1267 1683 1313 1700 1330" fill="none" stroke="#393939" stroke-width="26" stroke-linecap="round" stroke-linejoin="round"/></g><g filter="url(#b12)"><path d="M720 0C928 -20 1787 -150 2000 0C2213 150 2100 750 2000 900C1900 1050 1512 910 1400 900C1288 890 1352 867 1330 840C1308 813 1295 775 1270 740C1245 705 1212 660 1180 630C1148 600 1113 583 1080 560C1047 537 1013 520 980 490C947 460 910 420 880 380C850 340 822 293 800 250C778 207 763 162 750 120C737 78 512 20 720 0Z" fill="#9c9c9c"/><path d="M780 0C977 -20 1797 -100 2000 0C2203 100 2113 493 2000 600C1887 707 1445 650 1320 640C1195 630 1278 568 1250 540C1222 512 1183 490 1150 470C1117 450 1083 440 1050 420C1017 400 978 378 950 350C922 322 902 288 880 250C858 212 837 162 820 120C803 78 583 20 780 0Z" fill="#c9c9c9"/></g><g filter="url(#b10)"><path d="M900 250C917 263 967 308 1000 330C1033 352 1067 357 1100 380C1133 403 1183 455 1200 470" fill="none" stroke="#9c9c9c" stroke-width="40" stroke-linecap="round" stroke-linejoin="round"/><path d="M800 63C825 50 958 50 1000 63C1042 76 1058 129 1050 140C1042 151 983 130 950 130C917 130 875 151 850 140C825 129 775 76 800 63Z" fill="#f1f1f1"/></g><g filter="url(#b8)"><path d="M900 200C908 212 937 252 950 270C963 288 975 303 980 310" fill="none" stroke="#f1f1f1" stroke-width="36" stroke-linecap="round" stroke-linejoin="round"/><path d="M1130 230C1137 247 1155 298 1170 330C1185 362 1203 388 1220 420C1237 452 1262 503 1270 520" fill="none" stroke="#f1f1f1" stroke-width="30" stroke-linecap="round" stroke-linejoin="round"/></g></g></g><use href="#land"/><g fill="#fff"><ellipse cx="1048" cy="735" rx="6" ry="18"/><rect x="1355" y="825" width="25" height="8"/><rect x="1372" y="825" width="8" height="25"/></g><g fill="none" stroke-linecap="round"><path d="M833.9 105.8h0M989.7 140.8h0M936.9 146.7h0M835.1 103.6h0M815.6 109h0M915.6 174h0M904.8 179.1h0M949.3 172.2h0M849.8 75.6h0M972.1 185.3h0M865.3 89.8h0M958 149.1h0M952.1 180.7h0M871.6 105.2h0M813.3 121.6h0M884.7 134.9h0M857.6 136.9h0M874.9 132.7h0M934.9 134h0M836.6 79.1h0M951.4 181.8h0M814.7 88.2h0M918.2 159.7h0M1080.2 190.3h0M979.5 147h0M844.2 160.8h0M933.1 184.7h0M1010.3 142.8h0M920.3 124.5h0M873.1 97.6h0M1013 181.9h0M911.9 136.3h0M1021.6 147.9h0M874.2 151.7h0M1018.3 171.8h0M1064.5 187.6h0M1069.7 227h0M872.6 113.9h0M891.3 166.2h0M1045.9 177.9h0M1072.1 185.1h0M1039.9 164.8h0M911.4 135.5h0M947.2 152.3h0M885.8 134.3h0M886.7 113.1h0M925.3 124.6h0M1080.3 195.4h0M1037.7 163.4h0M1028.6 195.9h0M918.6 173h0M1067.7 194.7h0M848.3 165.7h0M939.6 208.3h0M1063.5 217.7h0M1136.8 295.1h0M1139.3 306.5h0M1143.6 317h0M1148.5 325.6h0M1150 245h0M1195 380h0M1030 258h0M1080 253h0M1282 582h0M185 108h0M480 108h0M422 143h0M502 150h0M325 307h0M612 290h0M619 346h0M682 362h0M695 357h0M752 350h0M918 400h0M537 472h0M572 519h0M700 503h0M665 540h0M733 530h0M817 465h0M868 502h0M888 690h0M1012 793h0M1308 823h0M1343 830h0M980 1044h0M1126 1196h0M1267 1177h0M1094 1277h0M973 1327h0M908 1421h0M1224 1441h0M1571 1424h0M1636 1365h0M1717 1409h0" stroke="#f6921e" stroke-width="24.9"/><path d="M833.9 105.8h0M989.7 140.8h0M936.9 146.7h0M835.1 103.6h0M815.6 109h0M915.6 174h0M904.8 179.1h0M949.3 172.2h0M849.8 75.6h0M972.1 185.3h0M865.3 89.8h0M958 149.1h0M952.1 180.7h0M871.6 105.2h0M813.3 121.6h0M884.7 134.9h0M857.6 136.9h0M874.9 132.7h0M934.9 134h0M836.6 79.1h0M951.4 181.8h0M814.7 88.2h0M918.2 159.7h0M1080.2 190.3h0M979.5 147h0M844.2 160.8h0M933.1 184.7h0M1010.3 142.8h0M920.3 124.5h0M873.1 97.6h0M1013 181.9h0M911.9 136.3h0M1021.6 147.9h0M874.2 151.7h0M1018.3 171.8h0M1064.5 187.6h0M1069.7 227h0M872.6 113.9h0M891.3 166.2h0M1045.9 177.9h0M1072.1 185.1h0M1039.9 164.8h0M911.4 135.5h0M947.2 152.3h0M885.8 134.3h0M886.7 113.1h0M925.3 124.6h0M1080.3 195.4h0M1037.7 163.4h0M1028.6 195.9h0M918.6 173h0M1067.7 194.7h0M848.3 165.7h0M939.6 208.3h0M1063.5 217.7h0M1136.8 295.1h0M1139.3 306.5h0M1143.6 317h0M1148.5 325.6h0M1150 245h0M1195 380h0M1030 258h0M1080 253h0M1282 582h0M185 108h0M480 108h0M422 143h0M502 150h0M325 307h0M612 290h0M619 346h0M682 362h0M695 357h0M752 350h0M918 400h0M537 472h0M572 519h0M700 503h0M665 540h0M733 530h0M817 465h0M868 502h0M888 690h0M1012 793h0M1308 823h0M1343 830h0M980 1044h0M1126 1196h0M1267 1177h0M1094 1277h0M973 1327h0M908 1421h0M1224 1441h0M1571 1424h0M1636 1365h0M1717 1409h0" stroke="#e8472a" stroke-width="13.1"/></g></svg><rect x="1124.2" y="51.5" width="288" height="217.8" fill="none" stroke="#000" stroke-width="1.77"/><path d="M1124.45 51.5V269.05H1412.2" fill="none" stroke="#000" stroke-width="2.33"/><path d="M1123.39 51.5h-4.05M1123.39 97.29h-4.05M1123.39 141.83h-4.05M1123.39 185.25h-4.05M1123.39 227.7h-4.05M1123.39 269.3h-4.05M1173.42 270.11v4.05M1249.61 270.11v4.05M1325.8 270.11v4.05M1401.99 270.11v4.05" stroke="#222" stroke-width="1.37" fill="none"/><g font-size="13.1" fill="#4d4d4d"><text x="1115.8" y="56.2" text-anchor="end">35.0</text><text x="1115.8" y="101.99" text-anchor="end">32.5</text><text x="1115.8" y="146.53" text-anchor="end">30.0</text><text x="1115.8" y="189.96" text-anchor="end">27.5</text><text x="1115.8" y="232.41" text-anchor="end">25.0</text><text x="1115.8" y="274" text-anchor="end">22.5</text><text x="1173.42" y="287.81" text-anchor="middle">235</text><text x="1249.61" y="287.81" text-anchor="middle">240</text><text x="1325.8" y="287.81" text-anchor="middle">245</text><text x="1401.99" y="287.81" text-anchor="middle">250</text></g><text x="1268.2" y="310.16" font-size="16.39" text-anchor="middle" letter-spacing="0.33">Longitude<tspan dy="-7.69" dx="0.3" font-size="11.94">o</tspan></text><text transform="translate(1081.72 160.4) rotate(-90)" font-size="16.39" text-anchor="middle" letter-spacing="0.33">Latitude<tspan dy="-7.69" dx="0.3" font-size="11.94">o</tspan></text><text x="1437.8" y="80.9" font-size="16.39" fill="#000" letter-spacing="0.2">Density</text><rect x="1437.4" y="91.4" width="17.6" height="17.86" fill="#441654"/><rect x="1437.4" y="109.56" width="17.6" height="17.86" fill="#472d7b"/><rect x="1437.4" y="127.71" width="17.6" height="17.86" fill="#3b528b"/><rect x="1437.4" y="145.87" width="17.6" height="17.86" fill="#2c728e"/><rect x="1437.4" y="164.02" width="17.6" height="17.86" fill="#21918c"/><rect x="1437.4" y="182.18" width="17.6" height="17.86" fill="#28ae80"/><rect x="1437.4" y="200.33" width="17.6" height="17.86" fill="#5ec962"/><rect x="1437.4" y="218.49" width="17.6" height="17.86" fill="#addc30"/><rect x="1437.4" y="236.64" width="17.6" height="17.86" fill="#fde725"/><g font-size="13.36"><text x="1463.7" y="104.58">(0,0.00198]</text><text x="1463.7" y="122.73">(0.00198,0.00287]</text><text x="1463.7" y="140.89">(0.00287,0.00409]</text><text x="1463.7" y="159.04">(0.00409,0.00691]</text><text x="1463.7" y="177.2">(0.00691,0.0144]</text><text x="1463.7" y="195.35">(0.0144,0.0254]</text><text x="1463.7" y="213.51">(0.0254,0.0353]</text><text x="1463.7" y="231.66">(0.0353,0.0412]</text><text x="1463.7" y="249.82">(0.0412,0.059]</text></g><svg x="1125" y="341.7" width="287.8" height="217.8" viewBox="0 0 1993 1512.2" preserveAspectRatio="none"><g clip-path="url(#dc)"><g filter="url(#qC2)"><rect x="0" y="0" width="1993" height="1513" fill="#767676"/><g filter="url(#b27)"><path fill="#000000" d="M800 -300h1701v401h-1701zM800 100h1701v101h-1701zM800 200h1701v101h-1701zM900 300h1601v101h-1601zM1000 400h301v101h-301zM900 600h101v101h-101z"/><path fill="#050505" d="M700 -300h101v401h-101zM700 100h101v101h-101zM900 400h101v101h-101zM1300 400h1201v101h-1201zM900 500h301v101h-301zM1000 600h101v101h-101zM1000 1100h201v101h-201zM800 1200h401v101h-401z"/><path fill="#1a1a1a" d="M1200 500h1301v101h-1301zM1100 600h101v101h-101zM800 700h401v101h-401zM600 1100h201v101h-201zM900 1100h101v101h-101zM1200 1100h101v101h-101zM600 1200h201v101h-201zM1200 1200h101v101h-101zM800 1300h301v101h-301z"/><path fill="#2f2f2f" d="M700 200h101v101h-101zM800 300h101v101h-101zM800 400h101v101h-101zM800 500h101v101h-101zM800 600h101v101h-101zM1200 600h1301v101h-1301zM1200 700h201v101h-201zM1000 800h101v101h-101zM500 1100h101v101h-101zM800 1100h101v101h-101zM1100 1300h201v101h-201z"/><path fill="#444444" d="M400 600h101v101h-101zM400 700h101v101h-101zM800 800h201v101h-201zM1100 800h101v101h-101zM1100 900h101v101h-101zM700 1300h101v101h-101z"/><path fill="#595959" d="M700 300h101v101h-101zM700 400h101v101h-101zM700 500h101v101h-101zM300 600h101v101h-101zM700 600h101v101h-101zM300 700h101v101h-101zM500 700h301v101h-301zM1400 700h1101v101h-1101zM500 800h201v101h-201zM500 900h101v101h-101zM1000 900h101v101h-101zM500 1000h201v101h-201zM1100 1000h101v101h-101zM1300 1200h101v101h-101zM1300 1300h101v101h-101z"/><path fill="#6e6e6e" d="M-300 500h501v101h-501zM200 700h101v101h-101zM400 800h101v101h-101zM700 800h101v101h-101zM1200 800h101v101h-101zM600 900h101v101h-101zM800 900h201v101h-201zM300 1000h101v101h-101zM700 1000h401v101h-401zM1200 1000h101v101h-101zM1300 1100h101v101h-101zM500 1200h101v101h-101zM800 1400h201v101h-201zM800 1500h201v401h-201z"/><path fill="#838383" d="M-300 400h501v101h-501zM200 600h101v101h-101zM-300 700h501v101h-501zM200 800h201v101h-201zM1400 800h1101v101h-1101zM400 900h101v101h-101zM1000 1400h101v101h-101zM1000 1500h101v401h-101z"/><path fill="#989898" d="M600 -300h101v401h-101zM600 100h101v101h-101zM600 200h101v101h-101zM600 300h101v101h-101zM200 400h101v101h-101zM400 500h101v101h-101zM-300 600h501v101h-501zM500 600h101v101h-101zM-300 800h501v101h-501zM1300 800h101v101h-101zM200 900h101v101h-101zM700 900h101v101h-101zM1200 900h101v101h-101zM200 1000h101v101h-101zM400 1000h101v101h-101zM600 1300h101v101h-101zM1100 1400h201v101h-201zM1100 1500h201v401h-201z"/><path fill="#adadad" d="M600 400h101v101h-101zM200 500h201v101h-201zM1300 900h101v101h-101zM1300 1000h101v101h-101zM400 1100h101v101h-101zM700 1400h101v101h-101zM1300 1400h101v101h-101zM700 1500h101v401h-101zM1300 1500h101v401h-101z"/><path fill="#c2c2c2" d="M200 200h101v101h-101zM-300 300h501v101h-501zM300 300h101v101h-101zM600 600h101v101h-101zM-300 900h501v101h-501zM300 900h101v101h-101zM200 1100h201v101h-201zM1400 1100h101v101h-101zM400 1200h101v101h-101zM1400 1200h101v101h-101zM500 1300h101v101h-101zM1400 1300h101v101h-101z"/><path fill="#d6d6d6" d="M-300 -300h501v401h-501zM-300 100h501v101h-501zM500 200h101v101h-101zM200 300h101v101h-101zM500 300h101v101h-101zM300 400h201v101h-201zM500 500h201v101h-201zM1400 900h1101v101h-1101zM-300 1000h501v101h-501zM1400 1000h101v101h-101zM-300 1100h501v101h-501zM200 1200h201v101h-201zM400 1300h101v101h-101zM600 1400h101v101h-101zM1400 1400h101v101h-101zM600 1500h101v401h-101zM1400 1500h101v401h-101z"/><path fill="#ebebeb" d="M300 -300h101v401h-101zM300 100h101v101h-101zM-300 200h501v101h-501zM400 200h101v101h-101zM400 300h101v101h-101zM500 400h101v101h-101zM1500 1000h101v101h-101zM1500 1100h101v101h-101zM-300 1200h501v101h-501zM1500 1200h101v101h-101zM300 1300h101v101h-101zM1500 1300h101v101h-101zM400 1400h201v101h-201zM1500 1400h101v101h-101zM400 1500h201v401h-201zM1500 1500h101v401h-101z"/><path fill="#ffffff" d="M200 -300h101v401h-101zM400 -300h201v401h-201zM200 100h101v101h-101zM400 100h201v101h-201zM300 200h101v101h-101zM1600 1000h901v101h-901zM1600 1100h901v101h-901zM1600 1200h901v101h-901zM-300 1300h601v101h-601zM1600 1300h901v101h-901zM-300 1400h701v101h-701zM1600 1400h901v101h-901zM-300 1500h701v401h-701zM1600 1500h901v401h-901z"/></g><g filter="url(#b30)"><ellipse cx="1000" cy="330" rx="200" ry="270" fill="#090909" transform="rotate(-25 1000 330)"/></g><g filter="url(#b6)"><ellipse cx="365" cy="950" rx="12" ry="60" fill="#d1d1d1"/></g></g></g><use href="#land"/><g fill="#fff"><ellipse cx="1048" cy="735" rx="6" ry="18"/><rect x="825" y="118" width="80" height="9"/><rect x="915" y="212" width="20" height="8"/><rect x="962" y="185" width="10" height="10"/><rect x="1020" y="248" width="22" height="8" transform="rotate(45 1030 250)"/><rect x="1028" y="198" width="14" height="8"/><rect x="1365" y="815" width="10" height="35"/></g></svg><rect x="1125" y="341.7" width="287.8" height="217.8" fill="none" stroke="#000" stroke-width="1.61"/><path d="M1125.23 341.7V559.27H1412.8" fill="none" stroke="#000" stroke-width="2.11"/><path d="M1124.27 341.7h-3.67M1124.27 387.49h-3.67M1124.27 432.03h-3.67M1124.27 475.45h-3.67M1124.27 517.9h-3.67M1124.27 559.5h-3.67M1174.18 560.23v3.67M1250.32 560.23v3.67M1326.46 560.23v3.67M1402.6 560.23v3.67" stroke="#222" stroke-width="1.24" fill="none"/><g font-size="11.88" fill="#4d4d4d"><text x="1117.38" y="345.97" text-anchor="end">35.0</text><text x="1117.38" y="391.76" text-anchor="end">32.5</text><text x="1117.38" y="436.29" text-anchor="end">30.0</text><text x="1117.38" y="479.72" text-anchor="end">27.5</text><text x="1117.38" y="522.17" text-anchor="end">25.0</text><text x="1117.38" y="563.77" text-anchor="end">22.5</text><text x="1174.18" y="576.29" text-anchor="middle">235</text><text x="1250.32" y="576.29" text-anchor="middle">240</text><text x="1326.46" y="576.29" text-anchor="middle">245</text><text x="1402.6" y="576.29" text-anchor="middle">250</text></g><text x="1268.9" y="596.57" font-size="14.87" text-anchor="middle" letter-spacing="0.3">Longitude<tspan dy="-6.97" dx="0.28" font-size="10.83">o</tspan></text><text transform="translate(1086.46 450.6) rotate(-90)" font-size="14.87" text-anchor="middle" letter-spacing="0.3">Latitude<tspan dy="-6.97" dx="0.28" font-size="10.83">o</tspan></text><text x="1436.47" y="336.4" font-size="14.87" fill="#000" letter-spacing="0.18">cv</text><rect x="1436.1" y="346.4" width="16.2" height="16.17" fill="#441654"/><rect x="1436.1" y="362.87" width="16.2" height="16.17" fill="#48246e"/><rect x="1436.1" y="379.34" width="16.2" height="16.17" fill="#453581"/><rect x="1436.1" y="395.81" width="16.2" height="16.17" fill="#3d4d8a"/><rect x="1436.1" y="412.29" width="16.2" height="16.17" fill="#34618d"/><rect x="1436.1" y="428.76" width="16.2" height="16.17" fill="#2b748e"/><rect x="1436.1" y="445.23" width="16.2" height="16.17" fill="#24878e"/><rect x="1436.1" y="461.7" width="16.2" height="16.17" fill="#1f998a"/><rect x="1436.1" y="478.17" width="16.2" height="16.17" fill="#25ac82"/><rect x="1436.1" y="494.64" width="16.2" height="16.17" fill="#40bd72"/><rect x="1436.1" y="511.11" width="16.2" height="16.17" fill="#67cc5c"/><rect x="1436.1" y="527.59" width="16.2" height="16.17" fill="#98d83e"/><rect x="1436.1" y="544.06" width="16.2" height="16.17" fill="#cde11d"/><rect x="1436.1" y="560.53" width="16.2" height="16.17" fill="#fde725"/><g font-size="12.12"><text x="1460.5" y="358.34">(0,0.32]</text><text x="1460.5" y="374.82">(0.32,0.37]</text><text x="1460.5" y="391.29">(0.37,0.409]</text><text x="1460.5" y="407.76">(0.409,0.436]</text><text x="1460.5" y="424.23">(0.436,0.462]</text><text x="1460.5" y="440.7">(0.462,0.488]</text><text x="1460.5" y="457.17">(0.488,0.513]</text><text x="1460.5" y="473.64">(0.513,0.545]</text><text x="1460.5" y="490.12">(0.545,0.59]</text><text x="1460.5" y="506.59">(0.59,0.661]</text><text x="1460.5" y="523.06">(0.661,0.757]</text><text x="1460.5" y="539.53">(0.757,0.983]</text><text x="1460.5" y="556">(0.983,1.41]</text><text x="1460.5" y="572.47">(1.41,3.46]</text></g><svg x="1656.2" y="51.5" width="276.1" height="209.2" viewBox="0 0 1993 1512.2" preserveAspectRatio="none"><g clip-path="url(#dc)"><g filter="url(#qD1)"><rect x="0" y="0" width="1993" height="1513" fill="#636363"/><g filter="url(#b42)"><path fill="#000000" d="M-300 800h501v101h-501zM-300 900h601v101h-601zM-300 1000h601v101h-601zM-300 1100h601v101h-601zM200 1200h101v101h-101zM200 1300h101v101h-101z"/><path fill="#1a1a1a" d="M-300 -300h501v401h-501zM-300 100h501v101h-501zM-300 500h501v101h-501zM-300 600h601v101h-601zM-300 700h701v101h-701zM200 800h301v101h-301zM300 900h201v101h-201zM300 1000h201v101h-201zM300 1100h201v101h-201zM800 1100h101v101h-101zM-300 1200h501v101h-501zM300 1200h201v101h-201zM700 1200h101v101h-101zM-300 1300h501v101h-501zM300 1300h101v101h-101zM700 1300h201v101h-201zM200 1400h101v101h-101zM200 1500h101v401h-101z"/><path fill="#363636" d="M200 -300h201v401h-201zM200 100h201v101h-201zM-300 200h701v101h-701zM-300 300h801v101h-801zM-300 400h801v101h-801zM200 500h401v101h-401zM300 600h401v101h-401zM400 700h301v101h-301zM500 800h201v101h-201zM1200 800h101v101h-101zM500 900h101v101h-101zM500 1000h101v101h-101zM700 1000h201v101h-201zM500 1100h101v101h-101zM700 1100h101v101h-101zM500 1200h201v101h-201zM800 1200h101v101h-101zM400 1300h301v101h-301zM900 1300h101v101h-101zM1400 1300h101v101h-101zM-300 1400h501v101h-501zM300 1400h201v101h-201zM600 1400h501v101h-501zM-300 1500h501v401h-501zM300 1500h201v401h-201zM600 1500h501v401h-501z"/><path fill="#525252" d="M400 -300h201v401h-201zM400 100h201v101h-201zM400 200h301v101h-301zM500 300h201v101h-201zM500 400h201v101h-201zM600 500h201v101h-201zM700 600h101v101h-101zM700 700h201v101h-201zM1000 700h201v101h-201zM700 800h501v101h-501zM600 900h801v101h-801zM600 1000h101v101h-101zM900 1000h501v101h-501zM600 1100h101v101h-101zM900 1100h601v101h-601zM900 1200h301v101h-301zM1300 1200h201v101h-201zM1000 1300h401v101h-401zM1500 1300h101v101h-101zM500 1400h101v101h-101zM1100 1400h501v101h-501zM500 1500h101v401h-101zM1100 1500h501v401h-501z"/><path fill="#6e6e6e" d="M600 -300h201v401h-201zM600 100h201v101h-201zM700 200h101v101h-101zM700 300h201v101h-201zM700 400h301v101h-301zM800 500h401v101h-401zM800 600h401v101h-401zM900 700h101v101h-101zM1200 700h101v101h-101zM1400 1000h101v101h-101zM1200 1200h101v101h-101zM1500 1200h101v101h-101zM1600 1300h101v101h-101zM1600 1400h101v101h-101zM1600 1500h101v401h-101z"/><path fill="#8b8b8b" d="M1000 -300h1501v401h-1501zM1000 100h1501v101h-1501zM800 200h101v101h-101zM1000 200h101v101h-101zM900 300h201v101h-201zM1000 400h201v101h-201zM1200 600h101v101h-101zM1400 900h1101v101h-1101zM1500 1100h101v101h-101zM1600 1200h101v101h-101zM1700 1300h801v101h-801zM1700 1400h801v101h-801zM1700 1500h801v401h-801z"/><path fill="#a7a7a7" d="M900 -300h101v401h-101zM900 100h101v101h-101zM900 200h101v101h-101zM1100 200h1401v101h-1401zM1100 300h1401v101h-1401zM1200 500h1301v101h-1301zM1300 700h101v101h-101zM1300 800h1201v101h-1201zM1500 1000h1001v101h-1001zM1600 1100h901v101h-901zM1700 1200h801v101h-801z"/><path fill="#c4c4c4" d="M800 -300h101v401h-101zM800 100h101v101h-101zM1200 400h1301v101h-1301zM1300 600h1201v101h-1201zM1400 700h1101v101h-1101z"/></g><g filter="url(#b30)"><use href="#pac" fill="none" stroke="#808080" stroke-width="240" stroke-linejoin="round" opacity="0.7"/></g><g filter="url(#b15)"><use href="#pac" fill="none" stroke="#9c9c9c" stroke-width="110" stroke-linejoin="round"/></g><g filter="url(#b8)"><use href="#pac" fill="none" stroke="#b8b8b8" stroke-width="50" stroke-linejoin="round"/><path d="M1215 715C1222 729 1244 772 1260 800C1276 828 1292 855 1310 880C1328 905 1347 923 1370 950C1393 977 1423 1007 1450 1040C1477 1073 1517 1132 1530 1150" fill="none" stroke="#393939" stroke-width="24" stroke-linecap="round" stroke-linejoin="round"/><path d="M1250 790C1257 800 1277 831 1290 850C1303 869 1323 896 1330 905" fill="none" stroke="#0e0e0e" stroke-width="28" stroke-linecap="round" stroke-linejoin="round"/><path d="M700 965C725 968 800 983 850 985C900 987 958 980 1000 975C1042 970 1067 965 1100 955C1133 945 1183 922 1200 915" fill="none" stroke="#393939" stroke-width="14" stroke-linecap="round" stroke-linejoin="round"/><path d="M1045 790L1060 830" fill="none" stroke="#0e0e0e" stroke-width="14" stroke-linecap="round" stroke-linejoin="round"/><path d="M1150 250C1158 275 1182 355 1200 400C1218 445 1242 483 1260 520C1278 557 1302 603 1310 620" fill="none" stroke="#f1f1f1" stroke-width="26" stroke-linecap="round" stroke-linejoin="round"/></g><g filter="url(#b10)"><path d="M780 63C803 55 910 54 940 63C970 72 970 107 960 120C950 133 907 142 880 140C853 138 817 123 800 110C783 97 757 71 780 63Z" fill="#f1f1f1"/></g><g filter="url(#b8)"><path d="M850 200C862 202 897 210 920 210C943 210 978 202 990 200" fill="none" stroke="#f1f1f1" stroke-width="24" stroke-linecap="round" stroke-linejoin="round"/><path d="M920 270L960 310" fill="none" stroke="#f1f1f1" stroke-width="26" stroke-linecap="round" stroke-linejoin="round"/></g><g filter="url(#b15)"><ellipse cx="1410" cy="780" rx="70" ry="90" fill="#d4d4d4" transform="rotate(-20 1410 780)"/><ellipse cx="1620" cy="1120" rx="60" ry="110" fill="#b8b8b8" transform="rotate(-30 1620 1120)"/></g></g></g><use href="#land"/><g fill="#fff"><ellipse cx="1048" cy="735" rx="6" ry="18"/><rect x="1365" y="815" width="10" height="30"/><rect x="1470" y="885" width="25" height="8"/></g><g fill="none" stroke-linecap="round"><path d="M772.7 79.4h0M783.4 96.8h0M797.4 115.3h0M809.9 127.7h0M857.1 156.1h0M863.5 152.4h0M858.4 196.6h0M865.8 195.8h0M879.5 195.4h0M908.5 160.5h0M923.8 156.3h0M936.8 154.6h0M927.8 160.5h0M916.5 180.4h0M915.6 182.3h0M953.1 200.9h0M967.1 199.7h0M977.7 203.1h0M1025.5 138.4h0M1022.4 140.5h0M1015.6 159.3h0M1014.5 175h0M1085.1 219.7h0M1077.2 237h0M1079.6 237.1h0M1152.6 261h0M1152.2 271h0M1152.7 280h0M1149.5 297.7h0M1151.1 310.3h0M1106.6 323.6h0M1095.9 332h0M1083.2 337.9h0M1078 344h0M1061.2 351.2h0M1059.5 355h0M1049.5 368.4h0M1049.6 381.8h0M1195.6 438.8h0M1186.7 446.9h0M1216.5 498.7h0M1227.8 503.6h0M1241.5 510h0M1254.8 515.8h0M1258.4 518.2h0M1269 548.4h0M1277.9 546.1h0M1282.9 559.2h0M1286.6 564.5h0M1292.3 579.6h0M1290.2 597.5h0M1285.5 604.1h0M1288.4 610.7h0M1303.9 628.7h0M1303.4 641.7h0M1317.9 646.5h0M1321.8 651.4h0M1326.3 664.6h0M1396.3 929h0M1401.2 929.4h0M1409.5 932.7h0M1450.3 966.5h0M1466.3 971.2h0M1480.8 978h0M1478.3 993.3h0M1482.1 997h0M1501.9 1017.1h0M1638.5 1104.6h0M1650.2 1105.8h0M1030 215h0M1072 300h0M933 305h0M1420 738h0M1405 775h0M1330 852h0M1345 850h0M1365 873h0M1385 870h0M1443 868h0M1580 1058h0M1600 1158h0M1690 1263h0M792 495h0" stroke="#f6921e" stroke-width="26"/><path d="M772.7 79.4h0M783.4 96.8h0M797.4 115.3h0M809.9 127.7h0M857.1 156.1h0M863.5 152.4h0M858.4 196.6h0M865.8 195.8h0M879.5 195.4h0M908.5 160.5h0M923.8 156.3h0M936.8 154.6h0M927.8 160.5h0M916.5 180.4h0M915.6 182.3h0M953.1 200.9h0M967.1 199.7h0M977.7 203.1h0M1025.5 138.4h0M1022.4 140.5h0M1015.6 159.3h0M1014.5 175h0M1085.1 219.7h0M1077.2 237h0M1079.6 237.1h0M1152.6 261h0M1152.2 271h0M1152.7 280h0M1149.5 297.7h0M1151.1 310.3h0M1106.6 323.6h0M1095.9 332h0M1083.2 337.9h0M1078 344h0M1061.2 351.2h0M1059.5 355h0M1049.5 368.4h0M1049.6 381.8h0M1195.6 438.8h0M1186.7 446.9h0M1216.5 498.7h0M1227.8 503.6h0M1241.5 510h0M1254.8 515.8h0M1258.4 518.2h0M1269 548.4h0M1277.9 546.1h0M1282.9 559.2h0M1286.6 564.5h0M1292.3 579.6h0M1290.2 597.5h0M1285.5 604.1h0M1288.4 610.7h0M1303.9 628.7h0M1303.4 641.7h0M1317.9 646.5h0M1321.8 651.4h0M1326.3 664.6h0M1396.3 929h0M1401.2 929.4h0M1409.5 932.7h0M1450.3 966.5h0M1466.3 971.2h0M1480.8 978h0M1478.3 993.3h0M1482.1 997h0M1501.9 1017.1h0M1638.5 1104.6h0M1650.2 1105.8h0M1030 215h0M1072 300h0M933 305h0M1420 738h0M1405 775h0M1330 852h0M1345 850h0M1365 873h0M1385 870h0M1443 868h0M1580 1058h0M1600 1158h0M1690 1263h0M792 495h0" stroke="#e8472a" stroke-width="13.7"/></g></svg><rect x="1656.2" y="51.5" width="276.1" height="209.2" fill="none" stroke="#000" stroke-width="1.76"/><path d="M1656.45 51.5V260.45H1932.3" fill="none" stroke="#000" stroke-width="2.31"/><path d="M1655.4 51.5h-4.01M1655.4 95.48h-4.01M1655.4 138.26h-4.01M1655.4 179.97h-4.01M1655.4 220.75h-4.01M1655.4 260.7h-4.01M1703.39 261.5v4.01M1776.43 261.5v4.01M1849.47 261.5v4.01M1922.51 261.5v4.01" stroke="#222" stroke-width="1.35" fill="none"/><g font-size="12.99" fill="#4d4d4d"><text x="1647.87" y="56.17" text-anchor="end">35.0</text><text x="1647.87" y="100.15" text-anchor="end">32.5</text><text x="1647.87" y="142.93" text-anchor="end">30.0</text><text x="1647.87" y="184.64" text-anchor="end">27.5</text><text x="1647.87" y="225.41" text-anchor="end">25.0</text><text x="1647.87" y="265.37" text-anchor="end">22.5</text><text x="1703.39" y="279.06" text-anchor="middle">235</text><text x="1776.43" y="279.06" text-anchor="middle">240</text><text x="1849.47" y="279.06" text-anchor="middle">245</text><text x="1922.51" y="279.06" text-anchor="middle">250</text></g><text x="1794.25" y="301.44" font-size="16.26" text-anchor="middle" letter-spacing="0.33">Longitude<tspan dy="-7.63" dx="0.3" font-size="11.84">o</tspan></text><text transform="translate(1614.06 156.1) rotate(-90)" font-size="16.26" text-anchor="middle" letter-spacing="0.33">Latitude<tspan dy="-7.63" dx="0.3" font-size="11.84">o</tspan></text><text x="1957.9" y="76.8" font-size="16.26" fill="#000" letter-spacing="0.2">Density</text><rect x="1957.5" y="87.3" width="17.6" height="17.71" fill="#441654"/><rect x="1957.5" y="105.31" width="17.6" height="17.71" fill="#472d7b"/><rect x="1957.5" y="123.32" width="17.6" height="17.71" fill="#3b528b"/><rect x="1957.5" y="141.33" width="17.6" height="17.71" fill="#2c728e"/><rect x="1957.5" y="159.34" width="17.6" height="17.71" fill="#21918c"/><rect x="1957.5" y="177.36" width="17.6" height="17.71" fill="#28ae80"/><rect x="1957.5" y="195.37" width="17.6" height="17.71" fill="#5ec962"/><rect x="1957.5" y="213.38" width="17.6" height="17.71" fill="#addc30"/><rect x="1957.5" y="231.39" width="17.6" height="17.71" fill="#fde725"/><g font-size="13.25"><text x="1983.8" y="100.37">(0,7.64e-06]</text><text x="1983.8" y="118.38">(7.64e-06,1.08e-05]</text><text x="1983.8" y="136.39">(1.08e-05,1.84e-05]</text><text x="1983.8" y="154.4">(1.84e-05,4.72e-05]</text><text x="1983.8" y="172.41">(4.72e-05,0.00815]</text><text x="1983.8" y="190.43">(0.00815,0.0453]</text><text x="1983.8" y="208.44">(0.0453,0.0857]</text><text x="1983.8" y="226.45">(0.0857,0.124]</text><text x="1983.8" y="244.46">(0.124,0.478]</text></g><svg x="1655.7" y="324.7" width="280.2" height="212.4" viewBox="0 0 1993 1512.2" preserveAspectRatio="none"><g clip-path="url(#dc)"><g filter="url(#qD2)"><rect x="0" y="0" width="1993" height="1513" fill="#898989"/><g filter="url(#b34)"><path fill="#000000" d="M1000 400h201v101h-201zM1100 500h1401v101h-1401zM1200 600h1301v101h-1301zM1300 700h1201v101h-1201zM1300 800h1201v101h-1201zM1500 1000h1001v101h-1001zM1600 1100h901v101h-901zM1700 1200h801v101h-801zM1800 1300h701v101h-701zM1900 1400h601v101h-601zM1900 1500h601v401h-601z"/><path fill="#000000" d="M900 -300h1601v401h-1601zM900 100h1601v101h-1601zM1000 200h1501v101h-1501zM900 300h1601v101h-1601zM1200 400h1301v101h-1301zM1400 900h1101v101h-1101zM1600 1200h101v101h-101zM1700 1300h101v101h-101zM1800 1400h101v101h-101zM1800 1500h101v401h-101z"/><path fill="#131313" d="M800 -300h101v401h-101zM800 100h101v101h-101zM800 200h201v101h-201zM900 400h101v101h-101zM1000 500h101v101h-101zM1000 600h201v101h-201zM1500 1100h101v101h-101zM1700 1400h101v101h-101zM1700 1500h101v401h-101z"/><path fill="#282828" d="M700 -300h101v401h-101zM700 100h101v101h-101zM800 300h101v101h-101zM900 500h101v101h-101zM900 600h101v101h-101zM1100 700h101v101h-101zM1600 1300h101v101h-101z"/><path fill="#3d3d3d" d="M800 500h101v101h-101zM800 600h101v101h-101zM900 700h201v101h-201zM1100 800h101v101h-101zM1400 1000h101v101h-101zM1200 1200h101v101h-101zM1600 1400h101v101h-101zM1600 1500h101v401h-101z"/><path fill="#525252" d="M800 400h101v101h-101zM1200 700h101v101h-101zM800 800h301v101h-301zM1100 900h301v101h-301zM600 1000h101v101h-101zM1100 1000h301v101h-301zM1200 1100h201v101h-201zM1300 1200h101v101h-101zM1500 1200h101v101h-101z"/><path fill="#666666" d="M700 200h101v101h-101zM800 700h101v101h-101zM1000 1000h101v101h-101zM900 1100h101v101h-101zM1100 1100h101v101h-101zM1400 1100h101v101h-101zM1100 1200h101v101h-101zM1200 1300h201v101h-201z"/><path fill="#7b7b7b" d="M500 400h101v101h-101zM700 500h101v101h-101zM700 600h101v101h-101zM1200 800h101v101h-101zM600 900h101v101h-101zM1000 900h101v101h-101zM700 1000h101v101h-101zM900 1000h101v101h-101zM1400 1200h101v101h-101zM1500 1300h101v101h-101zM1200 1400h201v101h-201zM1500 1400h101v101h-101zM1200 1500h201v401h-201zM1500 1500h101v401h-101z"/><path fill="#909090" d="M600 -300h101v401h-101zM600 100h101v101h-101zM700 300h101v101h-101zM400 400h101v101h-101zM600 400h201v101h-201zM400 500h301v101h-301zM700 700h101v101h-101zM700 800h101v101h-101zM700 900h301v101h-301zM800 1000h101v101h-101zM600 1100h101v101h-101zM1000 1100h101v101h-101zM900 1200h201v101h-201zM1100 1300h101v101h-101zM1400 1300h101v101h-101zM1100 1400h101v101h-101zM1400 1400h101v101h-101zM1100 1500h101v401h-101zM1400 1500h101v401h-101z"/><path fill="#a5a5a5" d="M-300 300h501v101h-501zM600 300h101v101h-101zM300 400h101v101h-101zM300 500h101v101h-101zM500 600h201v101h-201zM400 700h301v101h-301zM500 800h201v101h-201zM500 900h101v101h-101zM500 1000h101v101h-101zM700 1100h101v101h-101zM600 1200h101v101h-101zM1000 1300h101v101h-101zM300 1400h101v101h-101zM1000 1400h101v101h-101zM300 1500h101v401h-101zM1000 1500h101v401h-101z"/><path fill="#bababa" d="M600 200h101v101h-101zM200 400h101v101h-101zM400 600h101v101h-101zM400 800h101v101h-101zM500 1100h101v101h-101zM800 1100h101v101h-101zM500 1200h101v101h-101zM700 1200h201v101h-201zM300 1300h101v101h-101zM600 1300h401v101h-401zM500 1400h201v101h-201zM900 1400h101v101h-101zM500 1500h201v401h-201zM900 1500h101v401h-101z"/><path fill="#cfcfcf" d="M-300 200h501v101h-501zM500 200h101v101h-101zM200 300h101v101h-101zM400 300h201v101h-201zM-300 400h501v101h-501zM200 500h101v101h-101zM300 600h101v101h-101zM-300 700h501v101h-501zM300 700h101v101h-101zM300 800h101v101h-101zM400 900h101v101h-101zM400 1000h101v101h-101zM300 1100h201v101h-201zM300 1200h201v101h-201zM400 1300h201v101h-201zM200 1400h101v101h-101zM400 1400h101v101h-101zM700 1400h201v101h-201zM200 1500h101v401h-101zM400 1500h101v401h-101zM700 1500h201v401h-201z"/><path fill="#e4e4e4" d="M200 200h101v101h-101zM400 200h101v101h-101zM300 300h101v101h-101zM-300 500h501v101h-501zM-300 600h601v101h-601zM200 700h101v101h-101zM200 800h101v101h-101zM200 900h201v101h-201zM200 1000h201v101h-201zM-300 1200h601v101h-601zM200 1300h101v101h-101zM-300 1400h501v101h-501zM-300 1500h501v401h-501z"/><path fill="#f9f9f9" d="M-300 -300h901v401h-901zM-300 100h901v101h-901zM300 200h101v101h-101zM-300 800h501v101h-501zM-300 900h501v101h-501zM-300 1000h501v101h-501zM-300 1100h601v101h-601zM-300 1300h501v101h-501z"/></g><g filter="url(#b22)"><use href="#pac" fill="none" stroke="#141414" stroke-width="260" stroke-linejoin="round"/></g><g filter="url(#b6)"><path d="M1235 770C1242 783 1262 823 1280 850C1298 877 1317 900 1340 930C1363 960 1393 995 1420 1030C1447 1065 1477 1108 1500 1140C1523 1172 1550 1207 1560 1220" fill="none" stroke="#bfbfbf" stroke-width="14" stroke-linecap="round" stroke-linejoin="round"/></g><g filter="url(#b5)"><path d="M1245 785C1252 798 1275 838 1290 860C1305 882 1328 906 1335 915" fill="none" stroke="#f6f6f6" stroke-width="20" stroke-linecap="round" stroke-linejoin="round"/><path d="M850 985C867 985 917 988 950 985C983 982 1023 976 1050 970C1077 964 1100 953 1110 950" fill="none" stroke="#e4e4e4" stroke-width="10" stroke-linecap="round" stroke-linejoin="round"/></g><g filter="url(#b4)"><path d="M1052 795L1060 820" fill="none" stroke="#f6f6f6" stroke-width="10" stroke-linecap="round" stroke-linejoin="round"/></g></g></g><use href="#land"/><g fill="#fff"><ellipse cx="1042" cy="735" rx="6" ry="18"/><rect x="815" y="118" width="80" height="9"/><rect x="905" y="212" width="20" height="8"/><rect x="958" y="185" width="10" height="10"/><rect x="1015" y="248" width="22" height="8" transform="rotate(45 1025 250)"/><rect x="1022" y="198" width="14" height="8"/><rect x="1360" y="815" width="10" height="35"/></g></svg><rect x="1655.7" y="324.7" width="280.2" height="212.4" fill="none" stroke="#000" stroke-width="1.57"/><path d="M1655.92 324.7V536.88H1935.9" fill="none" stroke="#000" stroke-width="2.06"/><path d="M1654.98 324.7h-3.58M1654.98 369.36h-3.58M1654.98 412.79h-3.58M1654.98 455.14h-3.58M1654.98 496.54h-3.58M1654.98 537.1h-3.58M1703.59 537.82v3.58M1777.71 537.82v3.58M1851.84 537.82v3.58M1925.97 537.82v3.58" stroke="#222" stroke-width="1.21" fill="none"/><g font-size="11.58" fill="#4d4d4d"><text x="1648.28" y="328.86" text-anchor="end">35.0</text><text x="1648.28" y="373.52" text-anchor="end">32.5</text><text x="1648.28" y="416.95" text-anchor="end">30.0</text><text x="1648.28" y="459.3" text-anchor="end">27.5</text><text x="1648.28" y="500.7" text-anchor="end">25.0</text><text x="1648.28" y="541.26" text-anchor="end">22.5</text><text x="1703.59" y="553.47" text-anchor="middle">235</text><text x="1777.71" y="553.47" text-anchor="middle">240</text><text x="1851.84" y="553.47" text-anchor="middle">245</text><text x="1925.97" y="553.47" text-anchor="middle">250</text></g><text x="1795.8" y="573.24" font-size="14.49" text-anchor="middle" letter-spacing="0.3">Longitude<tspan dy="-6.8" dx="0.27" font-size="10.56">o</tspan></text><text transform="translate(1618.13 430.9) rotate(-90)" font-size="14.49" text-anchor="middle" letter-spacing="0.3">Latitude<tspan dy="-6.8" dx="0.27" font-size="10.56">o</tspan></text><text x="1959.26" y="319.4" font-size="14.49" fill="#000" letter-spacing="0.18">cv</text><rect x="1958.9" y="329.4" width="15.7" height="15.76" fill="#441654"/><rect x="1958.9" y="345.46" width="15.7" height="15.76" fill="#48246e"/><rect x="1958.9" y="361.51" width="15.7" height="15.76" fill="#453581"/><rect x="1958.9" y="377.57" width="15.7" height="15.76" fill="#3d4d8a"/><rect x="1958.9" y="393.63" width="15.7" height="15.76" fill="#34618d"/><rect x="1958.9" y="409.69" width="15.7" height="15.76" fill="#2b748e"/><rect x="1958.9" y="425.74" width="15.7" height="15.76" fill="#24878e"/><rect x="1958.9" y="441.8" width="15.7" height="15.76" fill="#1f998a"/><rect x="1958.9" y="457.86" width="15.7" height="15.76" fill="#25ac82"/><rect x="1958.9" y="473.91" width="15.7" height="15.76" fill="#40bd72"/><rect x="1958.9" y="489.97" width="15.7" height="15.76" fill="#67cc5c"/><rect x="1958.9" y="506.03" width="15.7" height="15.76" fill="#98d83e"/><rect x="1958.9" y="522.09" width="15.7" height="15.76" fill="#cde11d"/><rect x="1958.9" y="538.14" width="15.7" height="15.76" fill="#fde725"/><g font-size="11.82"><text x="1982.4" y="341.04">(0,0.5]</text><text x="1982.4" y="357.1">(0.5,0.644]</text><text x="1982.4" y="373.16">(0.644,0.785]</text><text x="1982.4" y="389.21">(0.785,0.856]</text><text x="1982.4" y="405.27">(0.856,0.898]</text><text x="1982.4" y="421.33">(0.898,0.927]</text><text x="1982.4" y="437.38">(0.927,0.953]</text><text x="1982.4" y="453.44">(0.953,0.977]</text><text x="1982.4" y="469.5">(0.977,0.999]</text><text x="1982.4" y="485.56">(0.999,1.02]</text><text x="1982.4" y="501.61">(1.02,1.04]</text><text x="1982.4" y="517.67">(1.04,1.07]</text><text x="1982.4" y="533.73">(1.07,1.11]</text><text x="1982.4" y="549.78">(1.11,1.41]</text></g><svg x="59.6" y="739.1" width="291.6" height="219.7" viewBox="0 0 1993 1512.2" preserveAspectRatio="none"><g clip-path="url(#dc)"><g filter="url(#qE1)"><rect x="0" y="0" width="1993" height="1513" fill="#636363"/><g filter="url(#b38)"><path fill="#040404" d="M800 -300h1701v401h-1701zM800 100h1701v101h-1701zM800 200h201v101h-201zM1100 200h1401v101h-1401zM1000 300h1501v101h-1501zM1100 400h1401v101h-1401zM1200 500h1301v101h-1301zM1300 600h1201v101h-1201zM1300 700h1201v101h-1201zM1400 800h1101v101h-1101zM1500 1000h1001v101h-1001zM1600 1100h901v101h-901zM1700 1200h801v101h-801zM1700 1300h801v101h-801zM1800 1400h701v101h-701zM1800 1500h701v401h-701z"/><path fill="#212121" d="M600 -300h201v401h-201zM600 100h201v101h-201zM600 200h201v101h-201zM1000 200h101v101h-101zM800 300h201v101h-201zM900 400h201v101h-201zM1000 500h201v101h-201zM1200 600h101v101h-101zM1300 800h101v101h-101zM-300 900h601v101h-601zM1400 900h1101v101h-1101zM-300 1000h701v101h-701zM-300 1100h701v101h-701zM-300 1200h701v101h-701zM1600 1200h101v101h-101zM-300 1300h701v101h-701zM1700 1400h101v101h-101zM1700 1500h101v401h-101z"/><path fill="#3d3d3d" d="M400 -300h201v401h-201zM400 100h201v101h-201zM500 200h101v101h-101zM-300 300h501v101h-501zM700 300h101v101h-101zM-300 400h501v101h-501zM800 400h101v101h-101zM-300 500h601v101h-601zM-300 600h701v101h-701zM1100 600h101v101h-101zM-300 700h701v101h-701zM-300 800h801v101h-801zM300 900h301v101h-301zM400 1000h301v101h-301zM400 1100h301v101h-301zM1500 1100h101v101h-101zM400 1200h401v101h-401zM400 1300h401v101h-401zM1600 1300h101v101h-101zM-300 1400h1101v101h-1101zM1600 1400h101v101h-101zM-300 1500h1101v401h-1101zM1600 1500h101v401h-101z"/><path fill="#595959" d="M-300 -300h701v401h-701zM-300 100h701v101h-701zM-300 200h401v101h-401zM400 200h101v101h-101zM200 300h101v101h-101zM500 300h201v101h-201zM200 400h201v101h-201zM500 400h301v101h-301zM300 500h401v101h-401zM900 500h101v101h-101zM400 600h301v101h-301zM900 600h201v101h-201zM400 700h301v101h-301zM1000 700h301v101h-301zM500 800h301v101h-301zM600 900h301v101h-301zM1300 900h101v101h-101zM700 1000h201v101h-201zM1400 1000h101v101h-101zM700 1100h101v101h-101zM800 1200h101v101h-101zM800 1300h101v101h-101zM800 1400h101v101h-101zM1500 1400h101v101h-101zM800 1500h101v401h-101zM1500 1500h101v401h-101z"/><path fill="#767676" d="M100 200h201v101h-201zM300 300h201v101h-201zM400 400h101v101h-101zM700 500h101v101h-101zM800 600h101v101h-101zM700 700h201v101h-201zM800 800h101v101h-101zM1200 800h101v101h-101zM900 900h101v101h-101zM1300 1000h101v101h-101zM900 1100h201v101h-201zM1200 1100h301v101h-301zM900 1200h401v101h-401zM1500 1200h101v101h-101zM900 1300h101v101h-101zM1500 1300h101v101h-101zM900 1400h101v101h-101zM1400 1400h101v101h-101zM900 1500h101v401h-101zM1400 1500h101v401h-101z"/><path fill="#929292" d="M300 200h101v101h-101zM700 600h101v101h-101zM900 700h101v101h-101zM900 800h101v101h-101zM900 1000h201v101h-201zM1200 1000h101v101h-101zM800 1100h101v101h-101zM1100 1100h101v101h-101zM1300 1200h101v101h-101zM1000 1300h301v101h-301zM1000 1400h101v101h-101zM1200 1400h201v101h-201zM1000 1500h101v401h-101zM1200 1500h201v401h-201z"/><path fill="#aeaeae" d="M1000 800h201v101h-201zM1000 900h301v101h-301zM1100 1000h101v101h-101zM1400 1200h101v101h-101zM1400 1300h101v101h-101zM1100 1400h101v101h-101zM1100 1500h101v401h-101z"/><path fill="#cbcbcb" d="M800 500h101v101h-101zM1300 1300h101v101h-101z"/></g><g filter="url(#b25)"><use href="#pac" fill="none" stroke="#2a2a2a" stroke-width="300" stroke-linejoin="round" opacity="0.9"/></g><g filter="url(#b12)"><use href="#pac" fill="none" stroke="#0e0e0e" stroke-width="170" stroke-linejoin="round"/><ellipse cx="830" cy="570" rx="50" ry="30" fill="#f1f1f1" transform="rotate(20 830 570)"/></g><g filter="url(#b14)"><ellipse cx="1130" cy="880" rx="90" ry="30" fill="#f1f1f1"/><ellipse cx="1230" cy="940" rx="70" ry="25" fill="#f1f1f1"/></g><g filter="url(#b12)"><ellipse cx="1110" cy="1110" rx="40" ry="30" fill="#f1f1f1"/></g><g filter="url(#b14)"><ellipse cx="1390" cy="1300" rx="70" ry="50" fill="#f1f1f1" transform="rotate(-35 1390 1300)"/></g><g filter="url(#b10)"><ellipse cx="1150" cy="1390" rx="50" ry="18" fill="#f1f1f1"/></g><g filter="url(#b8)"><ellipse cx="825" cy="1170" rx="14" ry="40" fill="#d4d4d4"/><ellipse cx="1300" cy="1225" rx="22" ry="18" fill="#0e0e0e"/><ellipse cx="1045" cy="760" rx="12" ry="40" fill="#0e0e0e"/></g></g></g><use href="#land"/><g fill="#fff"><ellipse cx="1046" cy="738" rx="5" ry="16"/><rect x="825" y="120" width="80" height="9"/><rect x="912" y="215" width="14" height="8"/><rect x="1020" y="255" width="22" height="8" transform="rotate(45 1030 258)"/><rect x="1030" y="203" width="14" height="8"/><rect x="1365" y="830" width="10" height="25"/></g><g fill="none" stroke-linecap="round"><path d="M167 80h0M162 115h0M166 138h0M427 78h0M485 90h0M540 103h0M270 132h0M418 140h0M180 207h0M198 210h0M238 215h0M248 210h0M300 238h0M295 250h0M343 248h0M285 275h0M203 277h0M293 300h0M542 290h0M270 348h0M407 357h0M447 328h0M627 305h0M622 330h0M617 347h0M740 343h0M763 362h0M818 272h0M860 292h0M888 352h0M867 373h0M940 400h0M955 392h0M350 402h0M415 450h0M425 473h0M592 440h0M598 428h0M617 433h0M665 465h0M687 458h0M776 466h0M840 476h0M875 480h0M905 437h0M800 497h0M903 512h0M875 533h0M346 545h0M370 537h0M390 530h0M435 522h0M447 520h0M563 537h0M640 510h0M640 530h0M668 537h0M697 523h0M730 535h0M655 570h0M470 587h0M605 627h0M838 605h0M915 620h0M962 580h0M820 643h0M1005 655h0M1117 615h0M1130 617h0M1225 632h0M1220 648h0M1140 648h0M1050 695h0M1192 692h0M1215 730h0M880 705h0M867 742h0M1128 750h0M648 753h0M847 782h0M825 805h0M812 825h0M790 840h0M763 863h0M648 832h0M855 838h0M897 865h0M1297 825h0M1188 835h0M1095 848h0M1100 855h0M1185 880h0M945 920h0M952 968h0M948 983h0M945 998h0M967 1040h0M1190 1010h0M1367 1025h0M565 1042h0M835 1060h0M1090 1077h0M1132 1083h0M1300 1102h0M1400 1085h0M958 1100h0M950 1115h0M947 1125h0M1225 1128h0M1135 1150h0M1120 1168h0M1130 1180h0M1125 1193h0M1070 1180h0M1433 1253h0M1613 1282h0M1052 1283h0M920 1362h0M1530 1387h0M887 1433h0" stroke="#f6921e" stroke-width="24.6"/><path d="M167 80h0M162 115h0M166 138h0M427 78h0M485 90h0M540 103h0M270 132h0M418 140h0M180 207h0M198 210h0M238 215h0M248 210h0M300 238h0M295 250h0M343 248h0M285 275h0M203 277h0M293 300h0M542 290h0M270 348h0M407 357h0M447 328h0M627 305h0M622 330h0M617 347h0M740 343h0M763 362h0M818 272h0M860 292h0M888 352h0M867 373h0M940 400h0M955 392h0M350 402h0M415 450h0M425 473h0M592 440h0M598 428h0M617 433h0M665 465h0M687 458h0M776 466h0M840 476h0M875 480h0M905 437h0M800 497h0M903 512h0M875 533h0M346 545h0M370 537h0M390 530h0M435 522h0M447 520h0M563 537h0M640 510h0M640 530h0M668 537h0M697 523h0M730 535h0M655 570h0M470 587h0M605 627h0M838 605h0M915 620h0M962 580h0M820 643h0M1005 655h0M1117 615h0M1130 617h0M1225 632h0M1220 648h0M1140 648h0M1050 695h0M1192 692h0M1215 730h0M880 705h0M867 742h0M1128 750h0M648 753h0M847 782h0M825 805h0M812 825h0M790 840h0M763 863h0M648 832h0M855 838h0M897 865h0M1297 825h0M1188 835h0M1095 848h0M1100 855h0M1185 880h0M945 920h0M952 968h0M948 983h0M945 998h0M967 1040h0M1190 1010h0M1367 1025h0M565 1042h0M835 1060h0M1090 1077h0M1132 1083h0M1300 1102h0M1400 1085h0M958 1100h0M950 1115h0M947 1125h0M1225 1128h0M1135 1150h0M1120 1168h0M1130 1180h0M1125 1193h0M1070 1180h0M1433 1253h0M1613 1282h0M1052 1283h0M920 1362h0M1530 1387h0M887 1433h0" stroke="#e8472a" stroke-width="13"/></g></svg><rect x="59.6" y="739.1" width="291.6" height="219.7" fill="none" stroke="#000" stroke-width="1.74"/><path d="M59.85 739.1V958.55H351.2" fill="none" stroke="#000" stroke-width="2.29"/><path d="M58.8 739.1h-3.98M58.8 785.29h-3.98M58.8 830.21h-3.98M58.8 874.02h-3.98M58.8 916.84h-3.98M58.8 958.8h-3.98M109.43 959.6v3.98M186.58 959.6v3.98M263.72 959.6v3.98M340.86 959.6v3.98" stroke="#222" stroke-width="1.34" fill="none"/><g font-size="12.87" fill="#4d4d4d"><text x="51.35" y="743.72" text-anchor="end">35.0</text><text x="51.35" y="789.91" text-anchor="end">32.5</text><text x="51.35" y="834.84" text-anchor="end">30.0</text><text x="51.35" y="878.64" text-anchor="end">27.5</text><text x="51.35" y="921.46" text-anchor="end">25.0</text><text x="51.35" y="963.42" text-anchor="end">22.5</text><text x="109.43" y="976.99" text-anchor="middle">235</text><text x="186.58" y="976.99" text-anchor="middle">240</text><text x="263.72" y="976.99" text-anchor="middle">245</text><text x="340.86" y="976.99" text-anchor="middle">250</text></g><text x="205.4" y="999.16" font-size="16.1" text-anchor="middle" letter-spacing="0.33">Longitude<tspan dy="-7.56" dx="0.3" font-size="11.73">o</tspan></text><text transform="translate(17.85 848.95) rotate(-90)" font-size="16.1" text-anchor="middle" letter-spacing="0.33">Latitude<tspan dy="-7.56" dx="0.3" font-size="11.73">o</tspan></text><text x="376.5" y="770.9" font-size="16.1" fill="#000" letter-spacing="0.2">Density</text><rect x="376.1" y="781.2" width="17.9" height="17.54" fill="#441654"/><rect x="376.1" y="799.04" width="17.9" height="17.54" fill="#472d7b"/><rect x="376.1" y="816.89" width="17.9" height="17.54" fill="#3b528b"/><rect x="376.1" y="834.73" width="17.9" height="17.54" fill="#2c728e"/><rect x="376.1" y="852.58" width="17.9" height="17.54" fill="#21918c"/><rect x="376.1" y="870.42" width="17.9" height="17.54" fill="#28ae80"/><rect x="376.1" y="888.27" width="17.9" height="17.54" fill="#5ec962"/><rect x="376.1" y="906.11" width="17.9" height="17.54" fill="#addc30"/><rect x="376.1" y="923.96" width="17.9" height="17.54" fill="#fde725"/><g font-size="13.13"><text x="402.9" y="794.15">(0,0.00693]</text><text x="402.9" y="811.99">(0.00693,0.0787]</text><text x="402.9" y="829.84">(0.0787,0.0987]</text><text x="402.9" y="847.68">(0.0987,0.113]</text><text x="402.9" y="865.53">(0.113,0.12]</text><text x="402.9" y="883.37">(0.12,0.124]</text><text x="402.9" y="901.21">(0.124,0.127]</text><text x="402.9" y="919.06">(0.127,0.129]</text><text x="402.9" y="936.9">(0.129,0.171]</text></g><svg x="63.1" y="1024.1" width="293.2" height="220.6" viewBox="0 0 1993 1512.2" preserveAspectRatio="none"><g clip-path="url(#dc)"><g filter="url(#qE2)"><rect x="0" y="0" width="1993" height="1513" fill="#767676"/><g filter="url(#b26)"><path fill="#000000" d="M1000 1000h101v101h-101z"/><path fill="#000000" d="M-300 200h601v101h-601zM800 700h101v101h-101zM600 900h101v101h-101zM900 900h201v101h-201zM900 1000h101v101h-101zM1000 1100h101v101h-101zM900 1300h101v101h-101z"/><path fill="#111111" d="M800 600h101v101h-101zM900 800h101v101h-101zM700 900h101v101h-101zM700 1100h101v101h-101zM1100 1100h101v101h-101zM700 1200h201v101h-201zM1000 1200h301v101h-301zM800 1300h101v101h-101zM800 1400h201v101h-201zM800 1500h201v401h-201z"/><path fill="#292929" d="M-300 -300h501v401h-501zM-300 100h501v101h-501zM300 200h101v101h-101zM-300 300h501v101h-501zM700 600h101v101h-101zM900 600h201v101h-201zM700 700h101v101h-101zM900 700h101v101h-101zM500 800h301v101h-301zM1000 800h101v101h-101zM500 900h101v101h-101zM600 1000h301v101h-301zM1100 1000h101v101h-101zM600 1100h101v101h-101zM800 1100h201v101h-201zM900 1200h101v101h-101zM1300 1200h101v101h-101zM1200 1300h101v101h-101z"/><path fill="#414141" d="M200 -300h101v401h-101zM200 100h101v101h-101zM200 400h101v101h-101zM700 500h101v101h-101zM400 700h201v101h-201zM1000 700h101v101h-101zM800 800h101v101h-101zM800 900h101v101h-101zM1100 900h101v101h-101zM500 1000h101v101h-101zM1200 1100h101v101h-101zM600 1200h101v101h-101zM700 1300h101v101h-101zM1300 1300h101v101h-101zM1200 1400h201v101h-201zM1200 1500h201v401h-201z"/><path fill="#585858" d="M200 300h101v101h-101zM800 500h101v101h-101zM400 600h101v101h-101zM400 800h101v101h-101zM1100 800h101v101h-101zM500 1100h101v101h-101zM1000 1300h201v101h-201zM700 1400h101v101h-101zM700 1500h101v401h-101z"/><path fill="#707070" d="M-300 400h501v101h-501zM700 400h101v101h-101zM600 600h101v101h-101zM1100 700h101v101h-101zM400 900h101v101h-101zM1300 1100h101v101h-101zM500 1200h101v101h-101zM600 1300h101v101h-101zM1000 1400h101v101h-101zM1400 1400h101v101h-101zM1000 1500h101v401h-101zM1400 1500h101v401h-101z"/><path fill="#888888" d="M300 -300h101v401h-101zM300 100h101v101h-101zM400 200h101v101h-101zM300 300h101v101h-101zM500 300h101v101h-101zM600 400h101v101h-101zM-300 500h501v101h-501zM600 500h101v101h-101zM900 500h101v101h-101zM300 600h101v101h-101zM500 600h101v101h-101zM1100 600h101v101h-101zM300 700h101v101h-101zM600 700h101v101h-101zM400 1000h101v101h-101zM1300 1000h101v101h-101zM400 1100h101v101h-101zM400 1200h101v101h-101zM1400 1200h101v101h-101zM600 1400h101v101h-101zM1100 1400h101v101h-101zM600 1500h101v401h-101zM1100 1500h101v401h-101z"/><path fill="#9f9f9f" d="M600 300h201v101h-201zM800 400h101v101h-101zM300 500h101v101h-101zM200 700h101v101h-101zM-300 800h501v101h-501zM300 800h101v101h-101zM1200 800h101v101h-101zM1200 1000h101v101h-101zM200 1200h201v101h-201zM400 1300h201v101h-201zM1400 1300h101v101h-101zM1500 1400h101v101h-101zM1500 1500h101v401h-101z"/><path fill="#b7b7b7" d="M400 -300h101v401h-101zM600 -300h101v401h-101zM400 100h101v101h-101zM600 100h101v101h-101zM500 200h101v101h-101zM400 300h101v101h-101zM500 400h101v101h-101zM1000 500h101v101h-101zM1200 700h101v101h-101zM200 800h101v101h-101zM300 900h101v101h-101zM1200 900h101v101h-101zM300 1100h101v101h-101zM1400 1100h101v101h-101zM-300 1200h501v101h-501zM300 1300h101v101h-101zM1500 1300h101v101h-101zM300 1400h101v101h-101zM500 1400h101v101h-101zM300 1500h101v401h-101zM500 1500h101v401h-101z"/><path fill="#cfcfcf" d="M600 200h201v101h-201zM800 300h101v101h-101zM900 400h101v101h-101zM400 500h101v101h-101zM1100 500h101v101h-101zM-300 600h601v101h-601zM1200 600h101v101h-101zM-300 700h501v101h-501zM1300 900h101v101h-101zM300 1000h101v101h-101zM1400 1000h101v101h-101zM-300 1100h601v101h-601zM1500 1200h101v101h-101zM200 1300h101v101h-101zM200 1400h101v101h-101zM400 1400h101v101h-101zM1600 1400h101v101h-101zM200 1500h101v401h-101zM400 1500h101v401h-101zM1600 1500h101v401h-101z"/><path fill="#e6e6e6" d="M500 -300h101v401h-101zM700 -300h101v401h-101zM500 100h101v101h-101zM700 100h101v101h-101zM1000 200h101v101h-101zM300 400h201v101h-201zM1000 400h101v101h-101zM200 500h101v101h-101zM500 500h101v101h-101zM-300 900h601v101h-601zM-300 1000h501v101h-501zM-300 1300h501v101h-501zM1600 1300h101v101h-101z"/><path fill="#fefefe" d="M900 -300h1601v401h-1601zM900 100h1601v101h-1601zM800 200h101v101h-101zM900 300h1601v101h-1601zM1100 400h101v101h-101zM1200 500h101v101h-101zM1400 900h101v101h-101zM200 1000h101v101h-101zM1500 1100h101v101h-101zM-300 1400h501v101h-501zM1700 1400h101v101h-101zM-300 1500h501v401h-501zM1700 1500h101v401h-101z"/><path fill="#ffffff" d="M800 -300h101v401h-101zM800 100h101v101h-101zM900 200h101v101h-101zM1100 200h1401v101h-1401zM1200 400h1301v101h-1301zM1300 500h1201v101h-1201zM1300 600h1201v101h-1201zM1300 700h1201v101h-1201zM1300 800h1201v101h-1201zM1500 900h1001v101h-1001zM1500 1000h1001v101h-1001zM1600 1100h901v101h-901zM1600 1200h901v101h-901zM1700 1300h801v101h-801zM1800 1400h701v101h-701zM1800 1500h701v401h-701z"/></g><g filter="url(#b30)"><use href="#pac" fill="none" stroke="#d1d1d1" stroke-width="260" stroke-linejoin="round" opacity="0.6"/></g><g filter="url(#b14)"><use href="#pac" fill="none" stroke="#fdfdfd" stroke-width="130" stroke-linejoin="round"/></g></g></g><use href="#land"/><g fill="#fff"><ellipse cx="1048" cy="732" rx="7" ry="18"/><rect x="825" y="118" width="80" height="9"/><rect x="1365" y="815" width="10" height="35"/><rect x="210" y="1275" width="16" height="10"/><rect x="140" y="1205" width="10" height="16"/></g></svg><rect x="63.1" y="1024.1" width="293.2" height="220.6" fill="none" stroke="#000" stroke-width="1.63"/><path d="M63.33 1024.1V1244.47H356.3" fill="none" stroke="#000" stroke-width="2.14"/><path d="M62.35 1024.1h-3.73M62.35 1070.48h-3.73M62.35 1115.59h-3.73M62.35 1159.57h-3.73M62.35 1202.57h-3.73M62.35 1244.7h-3.73M113.21 1245.45v3.73M190.77 1245.45v3.73M268.34 1245.45v3.73M345.91 1245.45v3.73" stroke="#222" stroke-width="1.26" fill="none"/><g font-size="12.07" fill="#4d4d4d"><text x="55.36" y="1028.44" text-anchor="end">35.0</text><text x="55.36" y="1074.82" text-anchor="end">32.5</text><text x="55.36" y="1119.92" text-anchor="end">30.0</text><text x="55.36" y="1163.91" text-anchor="end">27.5</text><text x="55.36" y="1206.91" text-anchor="end">25.0</text><text x="55.36" y="1249.04" text-anchor="end">22.5</text><text x="113.21" y="1261.76" text-anchor="middle">235</text><text x="190.77" y="1261.76" text-anchor="middle">240</text><text x="268.34" y="1261.76" text-anchor="middle">245</text><text x="345.91" y="1261.76" text-anchor="middle">250</text></g><text x="209.7" y="1282.37" font-size="15.1" text-anchor="middle" letter-spacing="0.31">Longitude<tspan dy="-7.09" dx="0.28" font-size="11">o</tspan></text><text transform="translate(23.94 1134.4) rotate(-90)" font-size="15.1" text-anchor="middle" letter-spacing="0.31">Latitude<tspan dy="-7.09" dx="0.28" font-size="11">o</tspan></text><text x="380.47" y="1018" font-size="15.1" fill="#000" letter-spacing="0.19">cv</text><rect x="380.1" y="1028.3" width="17.1" height="16.44" fill="#441654"/><rect x="380.1" y="1045.04" width="17.1" height="16.44" fill="#48246e"/><rect x="380.1" y="1061.77" width="17.1" height="16.44" fill="#453581"/><rect x="380.1" y="1078.51" width="17.1" height="16.44" fill="#3d4d8a"/><rect x="380.1" y="1095.24" width="17.1" height="16.44" fill="#34618d"/><rect x="380.1" y="1111.98" width="17.1" height="16.44" fill="#2b748e"/><rect x="380.1" y="1128.71" width="17.1" height="16.44" fill="#24878e"/><rect x="380.1" y="1145.45" width="17.1" height="16.44" fill="#1f998a"/><rect x="380.1" y="1162.19" width="17.1" height="16.44" fill="#25ac82"/><rect x="380.1" y="1178.92" width="17.1" height="16.44" fill="#40bd72"/><rect x="380.1" y="1195.66" width="17.1" height="16.44" fill="#67cc5c"/><rect x="380.1" y="1212.39" width="17.1" height="16.44" fill="#98d83e"/><rect x="380.1" y="1229.13" width="17.1" height="16.44" fill="#cde11d"/><rect x="380.1" y="1245.86" width="17.1" height="16.44" fill="#fde725"/><g font-size="12.32"><text x="405.3" y="1040.44">(0,0.499]</text><text x="405.3" y="1057.17">(0.499,0.517]</text><text x="405.3" y="1073.91">(0.517,0.532]</text><text x="405.3" y="1090.64">(0.532,0.55]</text><text x="405.3" y="1107.38">(0.55,0.571]</text><text x="405.3" y="1124.12">(0.571,0.598]</text><text x="405.3" y="1140.85">(0.598,0.623]</text><text x="405.3" y="1157.59">(0.623,0.647]</text><text x="405.3" y="1174.32">(0.647,0.673]</text><text x="405.3" y="1191.06">(0.673,0.709]</text><text x="405.3" y="1207.79">(0.709,0.759]</text><text x="405.3" y="1224.53">(0.759,0.847]</text><text x="405.3" y="1241.27">(0.847,1.19]</text><text x="405.3" y="1258">(1.19,75.9]</text></g><svg x="592.6" y="742.3" width="285" height="214.3" viewBox="0 0 1993 1512.2" preserveAspectRatio="none"><g clip-path="url(#dc)"><g filter="url(#qF1)"><rect x="0" y="0" width="1993" height="1513" fill="#636363"/><g filter="url(#b38)"><path fill="#060606" d="M-300 -300h901v401h-901zM-300 100h901v101h-901zM-300 200h901v101h-901zM-300 300h801v101h-801zM200 400h201v101h-201zM200 500h101v101h-101zM200 700h101v101h-101z"/><path fill="#222222" d="M500 300h101v101h-101zM-300 400h501v101h-501zM400 400h201v101h-201zM1000 400h201v101h-201zM-300 500h501v101h-501zM300 500h301v101h-301zM1100 500h101v101h-101zM-300 600h901v101h-901zM1200 600h101v101h-101zM-300 700h501v101h-501zM300 700h301v101h-301zM-300 800h701v101h-701zM-300 900h701v101h-701zM-300 1000h601v101h-601zM-300 1100h501v101h-501z"/><path fill="#3e3e3e" d="M600 -300h201v401h-201zM600 100h201v101h-201zM600 200h201v101h-201zM600 300h501v101h-501zM600 400h201v101h-201zM600 500h201v101h-201zM1000 500h101v101h-101zM1200 500h1301v101h-1301zM600 600h201v101h-201zM1100 600h101v101h-101zM600 700h201v101h-201zM1200 700h101v101h-101zM400 800h301v101h-301zM400 900h201v101h-201zM300 1000h201v101h-201zM200 1100h201v101h-201zM-300 1200h501v101h-501z"/><path fill="#5b5b5b" d="M800 200h101v101h-101zM1000 200h101v101h-101zM1100 300h1401v101h-1401zM800 400h201v101h-201zM800 500h201v101h-201zM800 600h301v101h-301zM800 700h401v101h-401zM700 800h601v101h-601zM600 900h601v101h-601zM500 1000h601v101h-601zM400 1100h801v101h-801zM200 1200h1001v101h-1001zM200 1300h1101v101h-1101zM600 1400h601v101h-601zM600 1500h601v401h-601z"/><path fill="#777777" d="M900 200h101v101h-101zM1200 900h201v101h-201zM1100 1000h401v101h-401zM1200 1100h401v101h-401zM1200 1200h401v101h-401zM-300 1300h501v101h-501zM1300 1300h101v101h-101zM200 1400h401v101h-401zM1200 1400h201v101h-201zM200 1500h401v401h-401zM1200 1500h201v401h-201z"/><path fill="#939393" d="M800 -300h1701v401h-1701zM800 100h1701v101h-1701zM1100 200h1401v101h-1401zM1200 400h1301v101h-1301zM1300 600h1201v101h-1201zM1300 800h101v101h-101zM1400 900h1101v101h-1101zM1400 1300h301v101h-301zM-300 1400h501v101h-501zM1400 1400h401v101h-401zM-300 1500h501v401h-501zM1400 1500h401v401h-401z"/><path fill="#b0b0b0" d="M1300 700h1201v101h-1201zM1400 800h1101v101h-1101zM1500 1000h1001v101h-1001zM1600 1200h101v101h-101zM1700 1300h101v101h-101z"/><path fill="#cccccc" d="M1600 1100h901v101h-901zM1800 1400h701v101h-701zM1800 1500h701v401h-701z"/><path fill="#e8e8e8" d="M1700 1200h801v101h-801zM1800 1300h701v101h-701z"/></g><g filter="url(#b22)"><path d="M900 330C917 350 963 412 1000 450C1037 488 1083 522 1120 560C1157 598 1192 642 1220 680C1248 718 1278 772 1290 790" fill="none" stroke="#2a2a2a" stroke-width="120" stroke-linecap="round" stroke-linejoin="round"/></g><g filter="url(#b12)"><path d="M760 120C775 143 817 218 850 260C883 302 942 352 960 370" fill="none" stroke="#555555" stroke-width="40" stroke-linecap="round" stroke-linejoin="round"/></g><g filter="url(#b14)"><use href="#pac" fill="none" stroke="#717171" stroke-width="130" stroke-linejoin="round"/></g><g filter="url(#b8)"><use href="#pac" fill="none" stroke="#aaaaaa" stroke-width="60" stroke-linejoin="round"/></g><g filter="url(#b14)"><ellipse cx="1410" cy="800" rx="70" ry="80" fill="#b8b8b8" transform="rotate(-20 1410 800)"/></g><g filter="url(#b8)"><path d="M1330 900C1350 923 1412 995 1450 1040C1488 1085 1522 1125 1560 1170C1598 1215 1640 1268 1680 1310C1720 1352 1780 1402 1800 1420" fill="none" stroke="#636363" stroke-width="22" stroke-linecap="round" stroke-linejoin="round"/></g><g filter="url(#b12)"><path d="M1520 1040C1537 1055 1593 1098 1620 1130C1647 1162 1658 1198 1680 1230C1702 1262 1722 1292 1750 1320C1778 1348 1825 1380 1850 1400C1875 1420 1892 1433 1900 1440" fill="none" stroke="#c6c6c6" stroke-width="80" stroke-linecap="round" stroke-linejoin="round"/></g><g filter="url(#b8)"><path d="M1600 1060C1613 1072 1663 1102 1680 1130C1697 1158 1687 1202 1700 1230C1713 1258 1733 1275 1760 1300C1787 1325 1835 1357 1860 1380C1885 1403 1902 1430 1910 1440" fill="none" stroke="#f1f1f1" stroke-width="34" stroke-linecap="round" stroke-linejoin="round"/></g><g filter="url(#b6)"><path d="M700 970C725 972 800 984 850 985C900 986 958 981 1000 975C1042 969 1083 954 1100 950" fill="none" stroke="#393939" stroke-width="12" stroke-linecap="round" stroke-linejoin="round"/><path d="M1050 790L1060 830" fill="none" stroke="#2a2a2a" stroke-width="12" stroke-linecap="round" stroke-linejoin="round"/></g></g></g><use href="#land"/><g fill="#fff"><ellipse cx="1046" cy="738" rx="6" ry="18"/><rect x="1350" y="845" width="22" height="8"/></g><g fill="none" stroke-linecap="round"><path d="M937.7 115.6h0M988.6 152.2h0M876.8 105.4h0M889.7 128h0M998.5 157.4h0M894.6 110h0M903.4 188.9h0M1013.3 153.3h0M874.3 125h0M1023.3 162.7h0M935.4 189.5h0M968.8 141h0M1050.7 208.8h0M918.6 187.7h0M960.3 218.7h0M896.5 173.1h0M1043.5 187.4h0M1026.9 191h0M999.2 167.6h0M1061.6 250.6h0M973.8 202.9h0M952.6 203.7h0M900.3 109.9h0M891 132.1h0M1056.6 236.9h0M926.8 160.6h0M902.3 129.4h0M916 172.4h0M948.6 186.3h0M1088.7 207.4h0M983.7 195h0M1075.9 222.6h0M1069.9 225.6h0M954.2 157.8h0M874.9 101.4h0M910.1 117.6h0M884.4 151.8h0M920.5 149.1h0M947.4 110.9h0M971.8 172.3h0M880.6 107.4h0M942.2 135h0M1067.2 208.4h0M922.7 152.3h0M987.8 222.4h0M1141.6 285.3h0M1142.2 297.7h0M1144.4 309.3h0M1147.9 318.8h0M1151.4 337.9h0M1636.4 1194.4h0M1630.9 1213.9h0M1629.2 1199.1h0M1640.3 1206.2h0M1645.8 1213.6h0M1650.9 1216.5h0M1664.9 1230.4h0M1679.7 1242.3h0M1680.1 1255.8h0M1684.4 1252.9h0M1696.5 1278h0M1684.9 1279.3h0M1705 1281.5h0M1702.7 1277.7h0M1697.2 1294.2h0M1707.2 1298.4h0M1722.8 1314.3h0M1748.3 1301.6h0M1674.8 1328.4h0M1681.6 1328.1h0M1698.7 1328.5h0M1698.6 1333.1h0M1708.1 1333.6h0M1842.6 1362.6h0M1840.4 1373.8h0M1847.5 1379.7h0M1842.9 1382.1h0M1847.3 1396.6h0M1851.2 1392.9h0M1855.2 1415.3h0M1845.4 1414.1h0M828 230h0M973 345h0M1130 420h0M1253 617h0M677 363h0M648 418h0M813 614h0M660 694h0M440 840h0M645 845h0M712 862h0M1010 962h0M1068 985h0M1120 1095h0M1120 1127h0M1310 1212h0M1275 1258h0M1270 1263h0M1232 1325h0M1358 1312h0M1382 872h0M1332 905h0M1373 907h0M1402 948h0M1388 1013h0M1440 1010h0M1505 1078h0M1520 1108h0M1560 1125h0M1570 1135h0M1620 1137h0M1610 1175h0M1585 1235h0M1592 1275h0M1532 1310h0M1547 1373h0M1568 1425h0M1740 1427h0M1773 1397h0M1790 1438h0M1890 1432h0M1900 1430h0" stroke="#f6921e" stroke-width="25.2"/><path d="M937.7 115.6h0M988.6 152.2h0M876.8 105.4h0M889.7 128h0M998.5 157.4h0M894.6 110h0M903.4 188.9h0M1013.3 153.3h0M874.3 125h0M1023.3 162.7h0M935.4 189.5h0M968.8 141h0M1050.7 208.8h0M918.6 187.7h0M960.3 218.7h0M896.5 173.1h0M1043.5 187.4h0M1026.9 191h0M999.2 167.6h0M1061.6 250.6h0M973.8 202.9h0M952.6 203.7h0M900.3 109.9h0M891 132.1h0M1056.6 236.9h0M926.8 160.6h0M902.3 129.4h0M916 172.4h0M948.6 186.3h0M1088.7 207.4h0M983.7 195h0M1075.9 222.6h0M1069.9 225.6h0M954.2 157.8h0M874.9 101.4h0M910.1 117.6h0M884.4 151.8h0M920.5 149.1h0M947.4 110.9h0M971.8 172.3h0M880.6 107.4h0M942.2 135h0M1067.2 208.4h0M922.7 152.3h0M987.8 222.4h0M1141.6 285.3h0M1142.2 297.7h0M1144.4 309.3h0M1147.9 318.8h0M1151.4 337.9h0M1636.4 1194.4h0M1630.9 1213.9h0M1629.2 1199.1h0M1640.3 1206.2h0M1645.8 1213.6h0M1650.9 1216.5h0M1664.9 1230.4h0M1679.7 1242.3h0M1680.1 1255.8h0M1684.4 1252.9h0M1696.5 1278h0M1684.9 1279.3h0M1705 1281.5h0M1702.7 1277.7h0M1697.2 1294.2h0M1707.2 1298.4h0M1722.8 1314.3h0M1748.3 1301.6h0M1674.8 1328.4h0M1681.6 1328.1h0M1698.7 1328.5h0M1698.6 1333.1h0M1708.1 1333.6h0M1842.6 1362.6h0M1840.4 1373.8h0M1847.5 1379.7h0M1842.9 1382.1h0M1847.3 1396.6h0M1851.2 1392.9h0M1855.2 1415.3h0M1845.4 1414.1h0M828 230h0M973 345h0M1130 420h0M1253 617h0M677 363h0M648 418h0M813 614h0M660 694h0M440 840h0M645 845h0M712 862h0M1010 962h0M1068 985h0M1120 1095h0M1120 1127h0M1310 1212h0M1275 1258h0M1270 1263h0M1232 1325h0M1358 1312h0M1382 872h0M1332 905h0M1373 907h0M1402 948h0M1388 1013h0M1440 1010h0M1505 1078h0M1520 1108h0M1560 1125h0M1570 1135h0M1620 1137h0M1610 1175h0M1585 1235h0M1592 1275h0M1532 1310h0M1547 1373h0M1568 1425h0M1740 1427h0M1773 1397h0M1790 1438h0M1890 1432h0M1900 1430h0" stroke="#e8472a" stroke-width="13.3"/></g></svg><rect x="592.6" y="742.3" width="285" height="214.3" fill="none" stroke="#000" stroke-width="1.74"/><path d="M592.85 742.3V956.35H877.6" fill="none" stroke="#000" stroke-width="2.29"/><path d="M591.8 742.3h-3.98M591.8 787.36h-3.98M591.8 831.18h-3.98M591.8 873.9h-3.98M591.8 915.67h-3.98M591.8 956.6h-3.98M641.31 957.4v3.98M716.7 957.4v3.98M792.1 957.4v3.98M867.5 957.4v3.98" stroke="#222" stroke-width="1.34" fill="none"/><g font-size="12.87" fill="#4d4d4d"><text x="584.35" y="746.92" text-anchor="end">35.0</text><text x="584.35" y="791.98" text-anchor="end">32.5</text><text x="584.35" y="835.8" text-anchor="end">30.0</text><text x="584.35" y="878.53" text-anchor="end">27.5</text><text x="584.35" y="920.3" text-anchor="end">25.0</text><text x="584.35" y="961.22" text-anchor="end">22.5</text><text x="641.31" y="974.79" text-anchor="middle">235</text><text x="716.7" y="974.79" text-anchor="middle">240</text><text x="792.1" y="974.79" text-anchor="middle">245</text><text x="867.5" y="974.79" text-anchor="middle">250</text></g><text x="735.1" y="996.36" font-size="16.1" text-anchor="middle" letter-spacing="0.33">Longitude<tspan dy="-7.56" dx="0.3" font-size="11.73">o</tspan></text><text transform="translate(550.85 849.45) rotate(-90)" font-size="16.1" text-anchor="middle" letter-spacing="0.33">Latitude<tspan dy="-7.56" dx="0.3" font-size="11.73">o</tspan></text><text x="903.5" y="770.9" font-size="16.1" fill="#000" letter-spacing="0.2">Density</text><rect x="903.1" y="781.2" width="17.6" height="17.54" fill="#441654"/><rect x="903.1" y="799.04" width="17.6" height="17.54" fill="#472d7b"/><rect x="903.1" y="816.89" width="17.6" height="17.54" fill="#3b528b"/><rect x="903.1" y="834.73" width="17.6" height="17.54" fill="#2c728e"/><rect x="903.1" y="852.58" width="17.6" height="17.54" fill="#21918c"/><rect x="903.1" y="870.42" width="17.6" height="17.54" fill="#28ae80"/><rect x="903.1" y="888.27" width="17.6" height="17.54" fill="#5ec962"/><rect x="903.1" y="906.11" width="17.6" height="17.54" fill="#addc30"/><rect x="903.1" y="923.96" width="17.6" height="17.54" fill="#fde725"/><g font-size="13.13"><text x="929.4" y="794.15">(0,0.00491]</text><text x="929.4" y="811.99">(0.00491,0.00793]</text><text x="929.4" y="829.84">(0.00793,0.0152]</text><text x="929.4" y="847.68">(0.0152,0.0267]</text><text x="929.4" y="865.53">(0.0267,0.0477]</text><text x="929.4" y="883.37">(0.0477,0.0716]</text><text x="929.4" y="901.21">(0.0716,0.199]</text><text x="929.4" y="919.06">(0.199,0.249]</text><text x="929.4" y="936.9">(0.249,0.82]</text></g><svg x="588.3" y="1023.8" width="293.9" height="220.9" viewBox="0 0 1993 1512.2" preserveAspectRatio="none"><g clip-path="url(#dc)"><g filter="url(#qF2)"><rect x="0" y="0" width="1993" height="1513" fill="#767676"/><g filter="url(#b26)"><path fill="#000000" d="M1000 1100h101v101h-101z"/><path fill="#000000" d="M700 500h101v101h-101zM800 1000h301v101h-301zM800 1100h201v101h-201zM1100 1100h101v101h-101zM800 1200h301v101h-301zM800 1300h101v101h-101zM800 1400h101v101h-101zM800 1500h101v401h-101z"/><path fill="#101010" d="M200 300h101v101h-101zM700 400h101v101h-101zM800 500h101v101h-101zM700 600h101v101h-101zM900 700h101v101h-101zM1100 700h101v101h-101zM800 800h201v101h-201zM800 900h201v101h-201zM1100 1200h101v101h-101zM900 1300h101v101h-101zM900 1400h101v101h-101zM900 1500h101v401h-101z"/><path fill="#272727" d="M-300 200h501v101h-501zM-300 300h501v101h-501zM500 400h101v101h-101zM600 500h101v101h-101zM600 600h101v101h-101zM800 600h101v101h-101zM600 700h301v101h-301zM1000 700h101v101h-101zM700 800h101v101h-101zM700 900h101v101h-101zM1000 900h101v101h-101zM700 1000h101v101h-101zM700 1100h101v101h-101zM700 1200h101v101h-101zM1200 1200h101v101h-101z"/><path fill="#3d3d3d" d="M200 200h101v101h-101zM500 200h101v101h-101zM500 300h101v101h-101zM700 300h101v101h-101zM600 400h101v101h-101zM800 400h101v101h-101zM900 600h101v101h-101zM1000 800h101v101h-101zM600 900h101v101h-101zM600 1000h101v101h-101zM1100 1000h101v101h-101zM600 1100h101v101h-101zM1200 1100h101v101h-101zM1000 1300h201v101h-201z"/><path fill="#545454" d="M500 -300h101v401h-101zM500 100h101v101h-101zM300 200h201v101h-201zM1100 200h1401v101h-1401zM800 300h101v101h-101zM-300 400h501v101h-501zM400 400h101v101h-101zM900 500h101v101h-101zM500 600h101v101h-101zM1000 600h101v101h-101zM600 800h101v101h-101zM1100 800h101v101h-101zM1100 900h101v101h-101zM600 1200h101v101h-101zM700 1300h101v101h-101z"/><path fill="#6b6b6b" d="M400 -300h101v401h-101zM600 -300h101v401h-101zM400 100h101v101h-101zM600 100h101v101h-101zM1000 200h101v101h-101zM400 300h101v101h-101zM600 300h101v101h-101zM200 400h101v101h-101zM1100 600h101v101h-101zM500 700h101v101h-101zM1200 700h101v101h-101zM1300 1200h101v101h-101zM1200 1300h101v101h-101zM700 1400h101v101h-101zM1000 1400h101v101h-101zM1500 1400h101v101h-101zM700 1500h101v401h-101zM1000 1500h101v401h-101zM1500 1500h101v401h-101z"/><path fill="#828282" d="M800 200h101v101h-101zM1000 300h1501v101h-1501zM900 400h101v101h-101zM400 600h101v101h-101zM400 700h101v101h-101zM500 800h101v101h-101zM500 1100h101v101h-101zM500 1200h101v101h-101zM600 1300h101v101h-101zM1600 1400h101v101h-101zM1600 1500h101v401h-101z"/><path fill="#999999" d="M600 200h201v101h-201zM900 300h101v101h-101zM-300 500h501v101h-501zM1000 500h101v101h-101zM300 600h101v101h-101zM300 700h101v101h-101zM400 800h101v101h-101zM500 900h101v101h-101zM500 1000h101v101h-101zM400 1200h101v101h-101zM400 1300h101v101h-101zM400 1400h101v101h-101zM600 1400h101v101h-101zM1100 1400h201v101h-201zM1400 1400h101v101h-101zM400 1500h101v401h-101zM600 1500h101v401h-101zM1100 1500h201v401h-201zM1400 1500h101v401h-101z"/><path fill="#afafaf" d="M1100 400h101v101h-101zM1100 500h101v101h-101zM200 600h101v101h-101zM300 800h101v101h-101zM1400 800h1101v101h-1101zM400 900h101v101h-101zM400 1100h101v101h-101zM1300 1100h101v101h-101zM300 1200h101v101h-101zM300 1300h101v101h-101zM500 1300h101v101h-101zM-300 1400h501v101h-501zM500 1400h101v101h-101zM1300 1400h101v101h-101zM1700 1400h101v101h-101zM-300 1500h501v401h-501zM500 1500h101v401h-101zM1300 1500h101v401h-101zM1700 1500h101v401h-101z"/><path fill="#c6c6c6" d="M300 -300h101v401h-101zM700 -300h101v401h-101zM1000 -300h1501v401h-1501zM300 100h101v101h-101zM700 100h101v101h-101zM1000 100h1501v101h-1501zM900 200h101v101h-101zM1000 400h101v101h-101zM-300 600h501v101h-501zM1200 600h1301v101h-1301zM200 700h101v101h-101zM1400 700h1101v101h-1101zM200 800h101v101h-101zM1200 800h101v101h-101zM300 900h101v101h-101zM400 1000h101v101h-101zM1200 1000h101v101h-101zM1600 1100h901v101h-901zM-300 1200h601v101h-601zM1700 1300h101v101h-101zM300 1400h101v101h-101zM300 1500h101v401h-101z"/><path fill="#dddddd" d="M900 -300h101v401h-101zM900 100h101v101h-101zM300 300h101v101h-101zM200 500h101v101h-101zM500 500h101v101h-101zM1200 500h101v101h-101zM-300 700h501v101h-501zM1300 700h101v101h-101zM200 900h101v101h-101zM300 1000h101v101h-101zM1300 1000h101v101h-101zM1500 1000h1001v101h-1001zM-300 1100h501v101h-501zM300 1100h101v101h-101zM1700 1200h801v101h-801zM-300 1300h501v101h-501zM1300 1300h101v101h-101zM1600 1300h101v101h-101zM1800 1300h701v101h-701zM200 1400h101v101h-101zM200 1500h101v401h-101z"/><path fill="#f4f4f4" d="M-300 -300h501v401h-501zM-300 100h501v101h-501zM1200 400h1301v101h-1301zM-300 800h501v101h-501zM-300 900h501v101h-501zM1200 900h101v101h-101zM1400 900h1101v101h-1101zM-300 1000h601v101h-601zM200 1100h101v101h-101zM1400 1100h101v101h-101zM1400 1200h101v101h-101zM1600 1200h101v101h-101zM200 1300h101v101h-101zM1400 1300h201v101h-201zM1800 1400h701v101h-701zM1800 1500h701v401h-701z"/><path fill="#ffffff" d="M200 -300h101v401h-101zM800 -300h101v401h-101zM200 100h101v101h-101zM800 100h101v101h-101zM300 400h101v101h-101zM300 500h201v101h-201zM1300 500h1201v101h-1201zM1300 800h101v101h-101zM1300 900h101v101h-101zM1400 1000h101v101h-101zM1500 1100h101v101h-101zM1500 1200h101v101h-101z"/></g><g filter="url(#b12)"><path d="M310 330C313 347 332 398 330 430C328 462 310 493 300 520C290 547 275 578 270 590" fill="none" stroke="#f6f6f6" stroke-width="50" stroke-linecap="round" stroke-linejoin="round"/><path d="M340 480C358 484 417 493 450 505C483 517 515 537 540 550C565 563 590 579 600 585" fill="none" stroke="#f6f6f6" stroke-width="60" stroke-linecap="round" stroke-linejoin="round"/></g><g filter="url(#b20)"><path d="M1350 830C1340 847 1293 900 1290 930C1287 960 1307 987 1330 1010C1353 1033 1400 1047 1430 1070C1460 1093 1495 1120 1510 1150C1525 1180 1532 1220 1520 1250C1508 1280 1463 1310 1440 1330C1417 1350 1390 1363 1380 1370" fill="none" stroke="#fdfdfd" stroke-width="100" stroke-linecap="round" stroke-linejoin="round"/></g><g filter="url(#b12)"><use href="#pac" fill="none" stroke="#d1d1d1" stroke-width="90" stroke-linejoin="round" opacity="0.8"/><ellipse cx="1450" cy="800" rx="40" ry="50" fill="#898989"/></g></g></g><use href="#land"/><g fill="#fff"><ellipse cx="1048" cy="732" rx="7" ry="18"/><rect x="825" y="118" width="80" height="9"/><rect x="1365" y="815" width="10" height="30"/></g></svg><rect x="588.3" y="1023.8" width="293.9" height="220.9" fill="none" stroke="#000" stroke-width="1.63"/><path d="M588.53 1023.8V1244.47H882.2" fill="none" stroke="#000" stroke-width="2.15"/><path d="M587.55 1023.8h-3.73M587.55 1070.24h-3.73M587.55 1115.41h-3.73M587.55 1159.46h-3.73M587.55 1202.51h-3.73M587.55 1244.7h-3.73M638.53 1245.45v3.73M716.28 1245.45v3.73M794.03 1245.45v3.73M871.78 1245.45v3.73" stroke="#222" stroke-width="1.26" fill="none"/><g font-size="12.09" fill="#4d4d4d"><text x="580.55" y="1028.14" text-anchor="end">35.0</text><text x="580.55" y="1074.58" text-anchor="end">32.5</text><text x="580.55" y="1119.75" text-anchor="end">30.0</text><text x="580.55" y="1163.8" text-anchor="end">27.5</text><text x="580.55" y="1206.85" text-anchor="end">25.0</text><text x="580.55" y="1249.04" text-anchor="end">22.5</text><text x="638.53" y="1261.78" text-anchor="middle">235</text><text x="716.28" y="1261.78" text-anchor="middle">240</text><text x="794.03" y="1261.78" text-anchor="middle">245</text><text x="871.78" y="1261.78" text-anchor="middle">250</text></g><text x="735.25" y="1282.42" font-size="15.12" text-anchor="middle" letter-spacing="0.31">Longitude<tspan dy="-7.09" dx="0.28" font-size="11.02">o</tspan></text><text transform="translate(549.09 1134.25) rotate(-90)" font-size="15.12" text-anchor="middle" letter-spacing="0.31">Latitude<tspan dy="-7.09" dx="0.28" font-size="11.02">o</tspan></text><text x="905.87" y="1017.5" font-size="15.12" fill="#000" letter-spacing="0.19">cv</text><rect x="905.5" y="1028" width="16.8" height="16.46" fill="#441654"/><rect x="905.5" y="1044.76" width="16.8" height="16.46" fill="#48246e"/><rect x="905.5" y="1061.51" width="16.8" height="16.46" fill="#453581"/><rect x="905.5" y="1078.27" width="16.8" height="16.46" fill="#3d4d8a"/><rect x="905.5" y="1095.03" width="16.8" height="16.46" fill="#34618d"/><rect x="905.5" y="1111.79" width="16.8" height="16.46" fill="#2b748e"/><rect x="905.5" y="1128.54" width="16.8" height="16.46" fill="#24878e"/><rect x="905.5" y="1145.3" width="16.8" height="16.46" fill="#1f998a"/><rect x="905.5" y="1162.06" width="16.8" height="16.46" fill="#25ac82"/><rect x="905.5" y="1178.81" width="16.8" height="16.46" fill="#40bd72"/><rect x="905.5" y="1195.57" width="16.8" height="16.46" fill="#67cc5c"/><rect x="905.5" y="1212.33" width="16.8" height="16.46" fill="#98d83e"/><rect x="905.5" y="1229.09" width="16.8" height="16.46" fill="#cde11d"/><rect x="905.5" y="1245.84" width="16.8" height="16.46" fill="#fde725"/><g font-size="12.33"><text x="930.7" y="1040.15">(0,0.345]</text><text x="930.7" y="1056.91">(0.345,0.364]</text><text x="930.7" y="1073.67">(0.364,0.383]</text><text x="930.7" y="1090.42">(0.383,0.404]</text><text x="930.7" y="1107.18">(0.404,0.428]</text><text x="930.7" y="1123.94">(0.428,0.45]</text><text x="930.7" y="1140.7">(0.45,0.476]</text><text x="930.7" y="1157.45">(0.476,0.503]</text><text x="930.7" y="1174.21">(0.503,0.533]</text><text x="930.7" y="1190.97">(0.533,0.57]</text><text x="930.7" y="1207.72">(0.57,0.622]</text><text x="930.7" y="1224.48">(0.622,0.708]</text><text x="930.7" y="1241.24">(0.708,0.866]</text><text x="930.7" y="1258">(0.866,4.6]</text></g><svg x="1123.7" y="745" width="278.2" height="209.2" viewBox="0 0 1993 1512.2" preserveAspectRatio="none"><g clip-path="url(#dc)"><g filter="url(#qG1)"><rect x="0" y="0" width="1993" height="1513" fill="#636363"/><g filter="url(#b30)"><path fill="#060606" d="M1000 200h101v101h-101zM-300 400h501v101h-501zM1000 400h101v101h-101zM400 700h101v101h-101zM1000 700h101v101h-101zM400 800h101v101h-101zM600 800h201v101h-201zM500 900h301v101h-301zM600 1000h101v101h-101zM600 1100h201v101h-201z"/><path fill="#222222" d="M1000 -300h1501v401h-1501zM1000 100h1501v101h-1501zM-300 200h601v101h-601zM1100 200h1401v101h-1401zM-300 300h501v101h-501zM1000 300h101v101h-101zM1100 400h101v101h-101zM1100 500h101v101h-101zM400 600h101v101h-101zM800 600h101v101h-101zM500 700h401v101h-401zM1100 700h101v101h-101zM1400 700h1101v101h-1101zM500 800h101v101h-101zM800 800h101v101h-101zM1400 800h1101v101h-1101zM400 900h101v101h-101zM800 900h101v101h-101zM-300 1000h501v101h-501zM400 1000h201v101h-201zM700 1000h101v101h-101zM900 1000h101v101h-101zM-300 1100h601v101h-601zM400 1100h201v101h-201zM800 1100h101v101h-101zM-300 1200h501v101h-501zM500 1200h301v101h-301z"/><path fill="#3e3e3e" d="M900 -300h101v401h-101zM900 100h101v101h-101zM300 200h101v101h-101zM900 200h101v101h-101zM900 300h101v101h-101zM1100 300h1401v101h-1401zM200 400h101v101h-101zM700 400h301v101h-301zM800 500h301v101h-301zM300 600h101v101h-101zM900 600h401v101h-401zM-300 700h501v101h-501zM300 700h101v101h-101zM900 700h101v101h-101zM1200 700h201v101h-201zM-300 800h501v101h-501zM300 800h101v101h-101zM900 800h201v101h-201zM-300 900h701v101h-701zM900 900h201v101h-201zM200 1000h201v101h-201zM800 1000h101v101h-101zM1000 1000h101v101h-101zM300 1100h101v101h-101zM900 1100h201v101h-201zM200 1200h301v101h-301zM800 1200h201v101h-201zM-300 1300h601v101h-601zM400 1300h401v101h-401zM500 1400h301v101h-301zM500 1500h301v401h-301z"/><path fill="#5b5b5b" d="M-300 -300h501v401h-501zM800 -300h101v401h-101zM-300 100h501v101h-501zM800 100h101v101h-101zM800 200h101v101h-101zM200 300h201v101h-201zM700 300h201v101h-201zM600 400h101v101h-101zM1200 400h1301v101h-1301zM-300 500h601v101h-601zM700 500h101v101h-101zM1200 500h1301v101h-1301zM-300 600h501v101h-501zM500 600h301v101h-301zM1300 600h1201v101h-1201zM200 700h101v101h-101zM200 800h101v101h-101zM1100 800h101v101h-101zM1100 900h101v101h-101zM1100 1000h101v101h-101zM1100 1100h201v101h-201zM1000 1200h401v101h-401zM300 1300h101v101h-101zM800 1300h501v101h-501zM-300 1400h801v101h-801zM800 1400h201v101h-201zM1100 1400h101v101h-101zM-300 1500h801v401h-801zM800 1500h201v401h-201zM1100 1500h101v401h-101z"/><path fill="#777777" d="M200 -300h301v401h-301zM600 -300h201v401h-201zM200 100h301v101h-301zM600 100h201v101h-201zM400 200h101v101h-101zM600 200h201v101h-201zM400 300h301v101h-301zM300 400h301v101h-301zM300 500h401v101h-401zM200 600h101v101h-101zM1200 800h201v101h-201zM1200 900h101v101h-101zM1200 1000h201v101h-201zM1300 1100h101v101h-101zM1300 1300h101v101h-101zM1000 1400h101v101h-101zM1200 1400h301v101h-301zM1000 1500h101v401h-101zM1200 1500h301v401h-301z"/><path fill="#939393" d="M500 -300h101v401h-101zM500 100h101v101h-101zM500 200h101v101h-101zM1400 900h1101v101h-1101zM1400 1100h101v101h-101zM1400 1200h101v101h-101zM1400 1300h201v101h-201zM1500 1400h101v101h-101zM1500 1500h101v401h-101z"/><path fill="#b0b0b0" d="M1300 900h101v101h-101zM1500 1000h1001v101h-1001zM1600 1100h901v101h-901zM1500 1200h101v101h-101zM1700 1200h801v101h-801zM1600 1300h101v101h-101zM1800 1300h701v101h-701zM1600 1400h201v101h-201zM1600 1500h201v401h-201z"/><path fill="#cccccc" d="M1400 1000h101v101h-101zM1500 1100h101v101h-101zM1700 1300h101v101h-101z"/><path fill="#e8e8e8" d="M1600 1200h101v101h-101zM1800 1400h701v101h-701zM1800 1500h701v401h-701z"/></g><g filter="url(#b20)"><ellipse cx="680" cy="920" rx="110" ry="160" fill="#0e0e0e" transform="rotate(20 680 920)"/></g><g filter="url(#b14)"><ellipse cx="480" cy="740" rx="45" ry="110" fill="#0e0e0e" transform="rotate(5 480 740)"/></g><g filter="url(#b12)"><ellipse cx="1080" cy="420" rx="50" ry="60" fill="#0e0e0e"/><ellipse cx="1030" cy="720" rx="60" ry="35" fill="#0e0e0e"/><ellipse cx="100" cy="420" rx="40" ry="50" fill="#0e0e0e"/></g><g filter="url(#b14)"><ellipse cx="1050" cy="200" rx="60" ry="70" fill="#0e0e0e"/></g><g filter="url(#b10)"><use href="#pac" fill="none" stroke="#303030" stroke-width="70" stroke-linejoin="round"/></g><g filter="url(#b18)"><path d="M1340 860C1355 880 1397 943 1430 980C1463 1017 1510 1047 1540 1080C1570 1113 1588 1148 1610 1180C1632 1212 1640 1243 1670 1270C1700 1297 1760 1313 1790 1340C1820 1367 1840 1415 1850 1430" fill="none" stroke="#b8b8b8" stroke-width="130" stroke-linecap="round" stroke-linejoin="round"/></g><g filter="url(#b8)"><path d="M1360 890C1375 908 1417 968 1450 1000C1483 1032 1532 1055 1560 1085C1588 1115 1600 1150 1620 1180C1640 1210 1650 1238 1680 1265C1710 1292 1772 1314 1800 1340C1828 1366 1842 1407 1850 1420" fill="none" stroke="#f9f9f9" stroke-width="36" stroke-linecap="round" stroke-linejoin="round"/></g><g filter="url(#b5)"><path d="M540 100L545 330" fill="none" stroke="#b8b8b8" stroke-width="10" stroke-linecap="round" stroke-linejoin="round"/><path d="M690 80C692 107 692 197 700 240C708 283 733 323 740 340" fill="none" stroke="#b8b8b8" stroke-width="10" stroke-linecap="round" stroke-linejoin="round"/></g><g filter="url(#b8)"><ellipse cx="348" cy="495" rx="22" ry="22" fill="#d4d4d4"/></g></g></g><use href="#land"/><g fill="none" stroke-linecap="round"><path d="M183 97h0M502 95h0M640 158h0M778 186h0M548 207h0M568 210h0M755 260h0M290 305h0M605 300h0M623 320h0M906 293h0M617 407h0M1043 397h0M970 468h0M348 495h0M650 541h0M1132 630h0M1283 703h0M555 740h0M1130 917h0M1132 935h0M1335 902h0M150 1017h0M475 1110h0M1383 1048h0M1503 1090h0M1555 1115h0M1015 1190h0M1042 1180h0M1128 1252h0M1582 1258h0M1620 1260h0M1575 1280h0M1688 1293h0M1736 1317h0M1660 1325h0M1393 1362h0M1725 1365h0M1720 1380h0M1733 1418h0M1788 1408h0M1855 1410h0M1785 1437h0M1797 1437h0" stroke="#f6921e" stroke-width="25.8"/><path d="M183 97h0M502 95h0M640 158h0M778 186h0M548 207h0M568 210h0M755 260h0M290 305h0M605 300h0M623 320h0M906 293h0M617 407h0M1043 397h0M970 468h0M348 495h0M650 541h0M1132 630h0M1283 703h0M555 740h0M1130 917h0M1132 935h0M1335 902h0M150 1017h0M475 1110h0M1383 1048h0M1503 1090h0M1555 1115h0M1015 1190h0M1042 1180h0M1128 1252h0M1582 1258h0M1620 1260h0M1575 1280h0M1688 1293h0M1736 1317h0M1660 1325h0M1393 1362h0M1725 1365h0M1720 1380h0M1733 1418h0M1788 1408h0M1855 1410h0M1785 1437h0M1797 1437h0" stroke="#e8472a" stroke-width="13.6"/></g></svg><rect x="1123.7" y="745" width="278.2" height="209.2" fill="none" stroke="#000" stroke-width="1.74"/><path d="M1123.95 745V953.95H1401.9" fill="none" stroke="#000" stroke-width="2.29"/><path d="M1122.9 745h-3.98M1122.9 788.98h-3.98M1122.9 831.76h-3.98M1122.9 873.47h-3.98M1122.9 914.25h-3.98M1122.9 954.2h-3.98M1171.24 955v3.98M1244.84 955v3.98M1318.44 955v3.98M1392.04 955v3.98" stroke="#222" stroke-width="1.34" fill="none"/><g font-size="12.87" fill="#4d4d4d"><text x="1115.45" y="749.62" text-anchor="end">35.0</text><text x="1115.45" y="793.61" text-anchor="end">32.5</text><text x="1115.45" y="836.38" text-anchor="end">30.0</text><text x="1115.45" y="878.09" text-anchor="end">27.5</text><text x="1115.45" y="918.87" text-anchor="end">25.0</text><text x="1115.45" y="958.82" text-anchor="end">22.5</text><text x="1171.24" y="972.39" text-anchor="middle">235</text><text x="1244.84" y="972.39" text-anchor="middle">240</text><text x="1318.44" y="972.39" text-anchor="middle">245</text><text x="1392.04" y="972.39" text-anchor="middle">250</text></g><text x="1262.8" y="994.76" font-size="16.1" text-anchor="middle" letter-spacing="0.33">Longitude<tspan dy="-7.56" dx="0.3" font-size="11.73">o</tspan></text><text transform="translate(1081.95 849.6) rotate(-90)" font-size="16.1" text-anchor="middle" letter-spacing="0.33">Latitude<tspan dy="-7.56" dx="0.3" font-size="11.73">o</tspan></text><text x="1427.5" y="770.6" font-size="16.1" fill="#000" letter-spacing="0.2">Density</text><rect x="1427.1" y="781.2" width="17.9" height="17.54" fill="#441654"/><rect x="1427.1" y="799.04" width="17.9" height="17.54" fill="#472d7b"/><rect x="1427.1" y="816.89" width="17.9" height="17.54" fill="#3b528b"/><rect x="1427.1" y="834.73" width="17.9" height="17.54" fill="#2c728e"/><rect x="1427.1" y="852.58" width="17.9" height="17.54" fill="#21918c"/><rect x="1427.1" y="870.42" width="17.9" height="17.54" fill="#28ae80"/><rect x="1427.1" y="888.27" width="17.9" height="17.54" fill="#5ec962"/><rect x="1427.1" y="906.11" width="17.9" height="17.54" fill="#addc30"/><rect x="1427.1" y="923.96" width="17.9" height="17.54" fill="#fde725"/><g font-size="13.13"><text x="1453.7" y="794.15">(0,0.000908]</text><text x="1453.7" y="811.99">(0.000908,0.00101]</text><text x="1453.7" y="829.84">(0.00101,0.00121]</text><text x="1453.7" y="847.68">(0.00121,0.00183]</text><text x="1453.7" y="865.53">(0.00183,0.00304]</text><text x="1453.7" y="883.37">(0.00304,0.00438]</text><text x="1453.7" y="901.21">(0.00438,0.0067]</text><text x="1453.7" y="919.06">(0.0067,0.0083]</text><text x="1453.7" y="936.9">(0.0083,0.043]</text></g><svg x="1119.6" y="1017.4" width="287.2" height="216.7" viewBox="0 0 1993 1512.2" preserveAspectRatio="none"><g clip-path="url(#dc)"><g filter="url(#qG2)"><rect x="0" y="0" width="1993" height="1513" fill="#767676"/><g filter="url(#b24)"><path fill="#000000" d="M-300 200h501v101h-501zM-300 300h501v101h-501zM900 700h201v101h-201zM600 900h101v101h-101zM600 1000h101v101h-101zM600 1100h101v101h-101zM600 1200h101v101h-101z"/><path fill="#0a0a0a" d="M1000 200h101v101h-101zM1000 400h101v101h-101zM400 700h101v101h-101zM400 800h101v101h-101zM500 900h101v101h-101zM500 1000h101v101h-101zM700 1000h101v101h-101zM500 1100h101v101h-101zM700 1100h101v101h-101zM700 1200h101v101h-101zM600 1300h201v101h-201z"/><path fill="#222222" d="M1000 -300h1501v401h-1501zM1000 100h1501v101h-1501zM1000 300h101v101h-101zM-300 400h501v101h-501zM400 600h101v101h-101zM800 600h101v101h-101zM1000 600h201v101h-201zM800 700h101v101h-101zM500 800h101v101h-101zM700 800h101v101h-101zM400 900h101v101h-101zM800 900h101v101h-101zM800 1000h101v101h-101zM1000 1000h101v101h-101zM800 1100h101v101h-101zM1000 1100h101v101h-101zM-300 1200h601v101h-601zM500 1200h101v101h-101zM1100 1200h101v101h-101zM500 1300h101v101h-101zM800 1300h101v101h-101zM600 1400h201v101h-201zM600 1500h201v401h-201z"/><path fill="#393939" d="M900 -300h101v401h-101zM900 100h101v101h-101zM200 200h101v101h-101zM1000 500h101v101h-101zM900 600h101v101h-101zM700 700h101v101h-101zM1400 700h1101v101h-1101zM600 800h101v101h-101zM800 800h201v101h-201zM700 900h101v101h-101zM900 900h101v101h-101zM400 1000h101v101h-101zM900 1000h101v101h-101zM300 1100h201v101h-201zM1100 1100h101v101h-101zM300 1200h101v101h-101zM1200 1200h101v101h-101zM200 1300h101v101h-101zM500 1400h101v101h-101zM800 1400h101v101h-101zM500 1500h101v401h-101zM800 1500h101v401h-101z"/><path fill="#515151" d="M800 -300h101v401h-101zM800 100h101v101h-101zM900 200h101v101h-101zM1100 200h1401v101h-1401zM200 300h101v101h-101zM700 500h201v101h-201zM1100 500h101v101h-101zM1000 800h101v101h-101zM1400 800h1101v101h-1101zM1000 900h101v101h-101zM-300 1100h601v101h-601zM800 1200h101v101h-101zM1000 1200h101v101h-101zM1300 1200h101v101h-101zM-300 1300h501v101h-501z"/><path fill="#696969" d="M800 200h101v101h-101zM900 300h101v101h-101zM700 400h301v101h-301zM-300 500h501v101h-501zM900 500h101v101h-101zM500 600h101v101h-101zM700 600h101v101h-101zM-300 700h501v101h-501zM300 700h101v101h-101zM1100 700h101v101h-101zM-300 1000h501v101h-501zM900 1100h101v101h-101zM400 1200h101v101h-101zM300 1300h201v101h-201zM200 1400h101v101h-101zM400 1400h101v101h-101zM200 1500h101v401h-101zM400 1500h101v401h-101z"/><path fill="#808080" d="M200 400h101v101h-101zM1100 400h101v101h-101zM-300 600h501v101h-501zM-300 900h501v101h-501zM900 1300h101v101h-101zM1200 1300h101v101h-101zM300 1400h101v101h-101zM300 1500h101v401h-101z"/><path fill="#989898" d="M400 -300h101v401h-101zM400 100h101v101h-101zM400 200h101v101h-101zM300 300h101v101h-101zM800 300h101v101h-101zM1100 300h1401v101h-1401zM1200 600h101v101h-101zM500 700h101v101h-101zM-300 800h501v101h-501zM1100 1000h101v101h-101zM900 1400h101v101h-101zM900 1500h101v401h-101z"/><path fill="#b0b0b0" d="M200 -300h101v401h-101zM600 -300h201v401h-201zM200 100h101v101h-101zM600 100h201v101h-201zM400 300h101v101h-101zM600 300h101v101h-101zM1300 600h1201v101h-1201zM200 700h101v101h-101zM600 700h101v101h-101zM1200 700h101v101h-101zM1300 1100h101v101h-101zM1100 1300h101v101h-101zM-300 1400h501v101h-501zM-300 1500h501v401h-501z"/><path fill="#c7c7c7" d="M-300 -300h501v401h-501zM500 -300h101v401h-101zM-300 100h501v101h-501zM500 100h101v101h-101zM600 200h101v101h-101zM700 300h101v101h-101zM600 400h101v101h-101zM600 500h101v101h-101zM1200 500h1301v101h-1301zM600 600h101v101h-101zM1300 700h101v101h-101zM200 800h201v101h-201zM200 900h101v101h-101zM1400 900h1101v101h-1101zM200 1000h201v101h-201zM1500 1000h1001v101h-1001zM1400 1200h101v101h-101zM1300 1300h101v101h-101zM1700 1300h801v101h-801zM1200 1400h101v101h-101zM1500 1400h301v101h-301zM1200 1500h101v401h-101zM1500 1500h301v401h-301z"/><path fill="#dfdfdf" d="M700 200h101v101h-101zM500 400h101v101h-101zM1200 400h1301v101h-1301zM200 500h101v101h-101zM300 900h101v101h-101zM1300 1000h101v101h-101zM1200 1100h101v101h-101zM1400 1100h101v101h-101zM1700 1200h801v101h-801zM1500 1300h201v101h-201zM1100 1400h101v101h-101zM1300 1400h201v101h-201zM1800 1400h701v101h-701zM1100 1500h101v401h-101zM1300 1500h201v401h-201zM1800 1500h701v401h-701z"/><path fill="#f7f7f7" d="M300 200h101v101h-101zM500 200h101v101h-101zM500 300h101v101h-101zM300 500h101v101h-101zM300 600h101v101h-101zM1100 800h101v101h-101zM1300 800h101v101h-101zM1100 900h101v101h-101zM1300 900h101v101h-101zM1400 1000h101v101h-101zM1600 1100h901v101h-901zM900 1200h101v101h-101zM1500 1200h201v101h-201zM1000 1300h101v101h-101zM1400 1300h101v101h-101z"/><path fill="#ffffff" d="M300 -300h101v401h-101zM300 100h101v101h-101zM300 400h201v101h-201zM400 500h201v101h-201zM200 600h101v101h-101zM1200 800h101v101h-101zM1200 900h101v101h-101zM1200 1000h101v101h-101zM1500 1100h101v101h-101zM1000 1400h101v101h-101zM1000 1500h101v401h-101z"/></g><g filter="url(#b8)"><path d="M230 640C242 647 275 673 300 680C325 687 358 687 380 680C402 673 427 652 430 640C433 628 413 612 400 610C387 608 358 627 350 630" fill="none" stroke="#f6f6f6" stroke-width="40" stroke-linecap="round" stroke-linejoin="round"/></g><g filter="url(#b14)"><path d="M330 450C350 455 412 462 450 480C488 498 527 540 560 560C593 580 635 593 650 600" fill="none" stroke="#f6f6f6" stroke-width="70" stroke-linecap="round" stroke-linejoin="round"/></g><g filter="url(#b8)"><path d="M560 780C570 768 593 725 620 710C647 695 690 695 720 690C750 685 787 682 800 680" fill="none" stroke="#e4e4e4" stroke-width="26" stroke-linecap="round" stroke-linejoin="round"/></g><g filter="url(#b10)"><path d="M330 100L340 200" fill="none" stroke="#f6f6f6" stroke-width="50" stroke-linecap="round" stroke-linejoin="round"/></g><g filter="url(#b8)"><path d="M870 1260C883 1265 920 1287 950 1290C980 1293 1033 1282 1050 1280" fill="none" stroke="#f6f6f6" stroke-width="22" stroke-linecap="round" stroke-linejoin="round"/><path d="M980 1180L960 1250" fill="none" stroke="#e4e4e4" stroke-width="20" stroke-linecap="round" stroke-linejoin="round"/></g></g></g><use href="#land"/></svg><rect x="1119.6" y="1017.4" width="287.2" height="216.7" fill="none" stroke="#000" stroke-width="1.6"/><path d="M1119.83 1017.4V1233.87H1406.8" fill="none" stroke="#000" stroke-width="2.1"/><path d="M1118.87 1017.4h-3.66M1118.87 1062.96h-3.66M1118.87 1107.27h-3.66M1118.87 1150.48h-3.66M1118.87 1192.71h-3.66M1118.87 1234.1h-3.66M1168.68 1234.83v3.66M1244.66 1234.83v3.66M1320.64 1234.83v3.66M1396.62 1234.83v3.66" stroke="#222" stroke-width="1.23" fill="none"/><g font-size="11.84" fill="#4d4d4d"><text x="1112.01" y="1021.65" text-anchor="end">35.0</text><text x="1112.01" y="1067.21" text-anchor="end">32.5</text><text x="1112.01" y="1111.52" text-anchor="end">30.0</text><text x="1112.01" y="1154.73" text-anchor="end">27.5</text><text x="1112.01" y="1196.96" text-anchor="end">25.0</text><text x="1112.01" y="1238.35" text-anchor="end">22.5</text><text x="1168.68" y="1250.83" text-anchor="middle">235</text><text x="1244.66" y="1250.83" text-anchor="middle">240</text><text x="1320.64" y="1250.83" text-anchor="middle">245</text><text x="1396.62" y="1250.83" text-anchor="middle">250</text></g><text x="1263.2" y="1271.39" font-size="14.81" text-anchor="middle" letter-spacing="0.3">Longitude<tspan dy="-6.95" dx="0.27" font-size="10.79">o</tspan></text><text transform="translate(1081.21 1125.75) rotate(-90)" font-size="14.81" text-anchor="middle" letter-spacing="0.3">Latitude<tspan dy="-6.95" dx="0.27" font-size="10.79">o</tspan></text><text x="1430.77" y="1011.8" font-size="14.81" fill="#000" letter-spacing="0.18">cv</text><rect x="1430.4" y="1022.1" width="16" height="16.11" fill="#441654"/><rect x="1430.4" y="1038.51" width="16" height="16.11" fill="#48246e"/><rect x="1430.4" y="1054.91" width="16" height="16.11" fill="#453581"/><rect x="1430.4" y="1071.32" width="16" height="16.11" fill="#3d4d8a"/><rect x="1430.4" y="1087.73" width="16" height="16.11" fill="#34618d"/><rect x="1430.4" y="1104.14" width="16" height="16.11" fill="#2b748e"/><rect x="1430.4" y="1120.54" width="16" height="16.11" fill="#24878e"/><rect x="1430.4" y="1136.95" width="16" height="16.11" fill="#1f998a"/><rect x="1430.4" y="1153.36" width="16" height="16.11" fill="#25ac82"/><rect x="1430.4" y="1169.76" width="16" height="16.11" fill="#40bd72"/><rect x="1430.4" y="1186.17" width="16" height="16.11" fill="#67cc5c"/><rect x="1430.4" y="1202.58" width="16" height="16.11" fill="#98d83e"/><rect x="1430.4" y="1218.99" width="16" height="16.11" fill="#cde11d"/><rect x="1430.4" y="1235.39" width="16" height="16.11" fill="#fde725"/><g font-size="12.07"><text x="1454.5" y="1034">(0,0.827]</text><text x="1454.5" y="1050.4">(0.827,0.895]</text><text x="1454.5" y="1066.81">(0.895,0.958]</text><text x="1454.5" y="1083.22">(0.958,1.03]</text><text x="1454.5" y="1099.63">(1.03,1.11]</text><text x="1454.5" y="1116.03">(1.11,1.2]</text><text x="1454.5" y="1132.44">(1.2,1.35]</text><text x="1454.5" y="1148.85">(1.35,1.56]</text><text x="1454.5" y="1165.25">(1.56,1.83]</text><text x="1454.5" y="1181.66">(1.83,2.21]</text><text x="1454.5" y="1198.07">(2.21,2.68]</text><text x="1454.5" y="1214.48">(2.68,3.34]</text><text x="1454.5" y="1230.88">(3.34,4.73]</text><text x="1454.5" y="1247.29">(4.73,37.4]</text></g><svg x="1656.5" y="735.3" width="270.9" height="204.3" viewBox="0 0 1993 1512.2" preserveAspectRatio="none"><g clip-path="url(#dc)"><g filter="url(#qH1)"><rect x="0" y="0" width="1993" height="1513" fill="#636363"/><g filter="url(#b40)"><path fill="#0b0b0b" d="M-300 900h501v101h-501zM-300 1000h601v101h-601zM-300 1100h601v101h-601zM-300 1200h701v101h-701zM-300 1300h901v101h-901zM-300 1400h1001v101h-1001zM-300 1500h1001v401h-1001z"/><path fill="#282828" d="M-300 600h501v101h-501zM-300 700h601v101h-601zM-300 800h801v101h-801zM200 900h301v101h-301zM300 1000h301v101h-301zM300 1100h601v101h-601zM400 1200h501v101h-501zM600 1300h301v101h-301zM700 1400h201v101h-201zM700 1500h201v401h-201z"/><path fill="#444444" d="M-300 -300h501v401h-501zM-300 100h501v101h-501zM-300 200h701v101h-701zM-300 300h601v101h-601zM-300 400h601v101h-601zM-300 500h701v101h-701zM200 600h301v101h-301zM300 700h401v101h-401zM500 800h301v101h-301zM500 900h401v101h-401zM600 1000h401v101h-401zM900 1100h201v101h-201zM900 1200h201v101h-201zM900 1300h201v101h-201zM900 1400h101v101h-101zM900 1500h101v401h-101z"/><path fill="#606060" d="M200 -300h301v401h-301zM200 100h301v101h-301zM400 200h201v101h-201zM300 300h301v101h-301zM300 400h401v101h-401zM400 500h501v101h-501zM500 600h501v101h-501zM700 700h401v101h-401zM800 800h401v101h-401zM900 900h401v101h-401zM1000 1000h301v101h-301zM1100 1100h201v101h-201zM1100 1200h101v101h-101zM1100 1300h301v101h-301zM1000 1400h401v101h-401zM1000 1500h401v401h-401z"/><path fill="#7d7d7d" d="M500 -300h201v401h-201zM500 100h201v101h-201zM600 200h201v101h-201zM600 300h301v101h-301zM700 400h301v101h-301zM1100 400h101v101h-101zM900 500h301v101h-301zM1000 600h201v101h-201zM1100 700h201v101h-201zM1200 800h101v101h-101zM1300 900h101v101h-101zM1300 1000h201v101h-201zM1300 1100h201v101h-201zM1200 1200h301v101h-301zM1400 1300h201v101h-201zM1400 1400h301v101h-301zM1400 1500h301v401h-301z"/><path fill="#999999" d="M700 -300h101v401h-101zM900 -300h1601v401h-1601zM700 100h101v101h-101zM900 100h1601v101h-1601zM800 200h101v101h-101zM900 300h1601v101h-1601zM1000 400h101v101h-101zM1200 600h101v101h-101zM1400 900h1101v101h-1101zM1500 1200h101v101h-101zM1600 1300h101v101h-101zM1700 1400h101v101h-101zM1700 1500h101v401h-101z"/><path fill="#b5b5b5" d="M800 -300h101v401h-101zM800 100h101v101h-101zM900 200h1601v101h-1601zM1200 500h1301v101h-1301zM1300 600h1201v101h-1201zM1300 700h1201v101h-1201zM1300 800h1201v101h-1201z"/><path fill="#d2d2d2" d="M1200 400h1301v101h-1301zM1500 1000h1001v101h-1001zM1500 1100h1001v101h-1001zM1600 1200h901v101h-901zM1700 1300h801v101h-801zM1800 1400h701v101h-701zM1800 1500h701v401h-701z"/></g><g filter="url(#b18)"><use href="#pac" fill="none" stroke="#8e8e8e" stroke-width="170" stroke-linejoin="round"/></g><g filter="url(#b10)"><use href="#pac" fill="none" stroke="#b8b8b8" stroke-width="70" stroke-linejoin="round"/></g><g filter="url(#b6)"><use href="#pac" fill="none" stroke="#e3e3e3" stroke-width="30" stroke-linejoin="round"/></g><g filter="url(#b8)"><ellipse cx="950" cy="300" rx="22" ry="22" fill="#f1f1f1"/></g><g filter="url(#b12)"><ellipse cx="930" cy="170" rx="70" ry="30" fill="#d4d4d4" transform="rotate(30 930 170)"/><ellipse cx="1410" cy="800" rx="60" ry="70" fill="#d4d4d4" transform="rotate(-20 1410 800)"/></g><g filter="url(#b14)"><ellipse cx="1590" cy="1120" rx="55" ry="100" fill="#f1f1f1" transform="rotate(-30 1590 1120)"/></g><g filter="url(#b10)"><ellipse cx="1740" cy="1340" rx="50" ry="25" fill="#f1f1f1" transform="rotate(35 1740 1340)"/></g><g filter="url(#b8)"><ellipse cx="1310" cy="1225" rx="25" ry="14" fill="#b8b8b8" transform="rotate(-40 1310 1225)"/></g></g></g><use href="#land"/><g fill="#fff"><ellipse cx="1050" cy="740" rx="6" ry="18"/><rect x="1365" y="850" width="25" height="8"/></g><g fill="none" stroke-linecap="round"><path d="M133 85h0M240 137h0M368 133h0M218 228h0M422 72h0M465 78h0M485 103h0M515 97h0M525 62h0M545 90h0M565 78h0M585 67h0M517 190h0M645 162h0M707 147h0M710 173h0M780 65h0M763 97h0M825 98h0M810 125h0M840 117h0M860 152h0M905 152h0M965 125h0M1018 135h0M1025 155h0M838 200h0M790 225h0M780 238h0M922 210h0M945 215h0M955 230h0M968 240h0M975 205h0M990 215h0M1015 242h0M1075 188h0M1118 207h0M1060 242h0M1090 232h0M1130 262h0M1150 270h0M1145 295h0M1090 298h0M985 260h0M955 272h0M920 268h0M890 275h0M865 290h0M845 298h0M825 302h0M760 283h0M750 302h0M735 303h0M715 302h0M690 300h0M605 313h0M400 305h0M347 307h0M335 308h0M320 308h0M783 320h0M805 365h0M880 337h0M900 338h0M915 340h0M955 343h0M990 322h0M992 345h0M1030 335h0M1098 385h0M1185 408h0M850 393h0M822 402h0M808 405h0M950 412h0M775 445h0M1090 458h0M1105 475h0M868 505h0M1215 505h0M1230 492h0M1240 520h0M537 575h0M965 555h0M975 560h0M1165 572h0M1242 578h0M1283 588h0M1297 597h0M1300 620h0M1300 640h0M1300 660h0M1300 680h0M1067 708h0M745 745h0M1010 810h0M1182 835h0M1258 822h0M1363 772h0M1415 783h0M1340 800h0M1310 845h0M1325 870h0M1340 860h0M1355 885h0M1375 908h0M1432 938h0M1385 1037h0M1325 1170h0M1545 1118h0M1580 1195h0M1620 1210h0M1620 1225h0M1467 1245h0M1635 1275h0M1670 1260h0M1510 1322h0M1550 1310h0M1565 1305h0M1575 1298h0M1540 1360h0M1598 1373h0M1335 1387h0M1558 1407h0M1660 1365h0M1658 1380h0M1655 1415h0M1655 1437h0M1720 1388h0M1750 1370h0M1850 1432h0" stroke="#f6921e" stroke-width="26.5"/><path d="M133 85h0M240 137h0M368 133h0M218 228h0M422 72h0M465 78h0M485 103h0M515 97h0M525 62h0M545 90h0M565 78h0M585 67h0M517 190h0M645 162h0M707 147h0M710 173h0M780 65h0M763 97h0M825 98h0M810 125h0M840 117h0M860 152h0M905 152h0M965 125h0M1018 135h0M1025 155h0M838 200h0M790 225h0M780 238h0M922 210h0M945 215h0M955 230h0M968 240h0M975 205h0M990 215h0M1015 242h0M1075 188h0M1118 207h0M1060 242h0M1090 232h0M1130 262h0M1150 270h0M1145 295h0M1090 298h0M985 260h0M955 272h0M920 268h0M890 275h0M865 290h0M845 298h0M825 302h0M760 283h0M750 302h0M735 303h0M715 302h0M690 300h0M605 313h0M400 305h0M347 307h0M335 308h0M320 308h0M783 320h0M805 365h0M880 337h0M900 338h0M915 340h0M955 343h0M990 322h0M992 345h0M1030 335h0M1098 385h0M1185 408h0M850 393h0M822 402h0M808 405h0M950 412h0M775 445h0M1090 458h0M1105 475h0M868 505h0M1215 505h0M1230 492h0M1240 520h0M537 575h0M965 555h0M975 560h0M1165 572h0M1242 578h0M1283 588h0M1297 597h0M1300 620h0M1300 640h0M1300 660h0M1300 680h0M1067 708h0M745 745h0M1010 810h0M1182 835h0M1258 822h0M1363 772h0M1415 783h0M1340 800h0M1310 845h0M1325 870h0M1340 860h0M1355 885h0M1375 908h0M1432 938h0M1385 1037h0M1325 1170h0M1545 1118h0M1580 1195h0M1620 1210h0M1620 1225h0M1467 1245h0M1635 1275h0M1670 1260h0M1510 1322h0M1550 1310h0M1565 1305h0M1575 1298h0M1540 1360h0M1598 1373h0M1335 1387h0M1558 1407h0M1660 1365h0M1658 1380h0M1655 1415h0M1655 1437h0M1720 1388h0M1750 1370h0M1850 1432h0" stroke="#e8472a" stroke-width="14"/></g></svg><rect x="1656.5" y="735.3" width="270.9" height="204.3" fill="none" stroke="#000" stroke-width="1.74"/><path d="M1656.75 735.3V939.35H1927.4" fill="none" stroke="#000" stroke-width="2.29"/><path d="M1655.7 735.3h-3.99M1655.7 778.25h-3.99M1655.7 820.03h-3.99M1655.7 860.76h-3.99M1655.7 900.58h-3.99M1655.7 939.6h-3.99M1702.8 940.4v3.99M1774.46 940.4v3.99M1846.13 940.4v3.99M1917.8 940.4v3.99" stroke="#222" stroke-width="1.35" fill="none"/><g font-size="12.91" fill="#4d4d4d"><text x="1648.23" y="739.93" text-anchor="end">35.0</text><text x="1648.23" y="782.89" text-anchor="end">32.5</text><text x="1648.23" y="824.66" text-anchor="end">30.0</text><text x="1648.23" y="865.4" text-anchor="end">27.5</text><text x="1648.23" y="905.22" text-anchor="end">25.0</text><text x="1648.23" y="944.23" text-anchor="end">22.5</text><text x="1702.8" y="957.84" text-anchor="middle">235</text><text x="1774.46" y="957.84" text-anchor="middle">240</text><text x="1846.13" y="957.84" text-anchor="middle">245</text><text x="1917.8" y="957.84" text-anchor="middle">250</text></g><text x="1791.95" y="980.06" font-size="16.14" text-anchor="middle" letter-spacing="0.33">Longitude<tspan dy="-7.57" dx="0.3" font-size="11.76">o</tspan></text><text transform="translate(1614.64 837.45) rotate(-90)" font-size="16.14" text-anchor="middle" letter-spacing="0.33">Latitude<tspan dy="-7.57" dx="0.3" font-size="11.76">o</tspan></text><text x="1953.3" y="758.2" font-size="16.14" fill="#000" letter-spacing="0.2">Density</text><rect x="1952.9" y="769.2" width="17.9" height="17.59" fill="#441654"/><rect x="1952.9" y="787.09" width="17.9" height="17.59" fill="#472d7b"/><rect x="1952.9" y="804.98" width="17.9" height="17.59" fill="#3b528b"/><rect x="1952.9" y="822.87" width="17.9" height="17.59" fill="#2c728e"/><rect x="1952.9" y="840.76" width="17.9" height="17.59" fill="#21918c"/><rect x="1952.9" y="858.64" width="17.9" height="17.59" fill="#28ae80"/><rect x="1952.9" y="876.53" width="17.9" height="17.59" fill="#5ec962"/><rect x="1952.9" y="894.42" width="17.9" height="17.59" fill="#addc30"/><rect x="1952.9" y="912.31" width="17.9" height="17.59" fill="#fde725"/><g font-size="13.16"><text x="1979.5" y="782.18">(0,0.000396]</text><text x="1979.5" y="800.07">(0.000396,0.000633]</text><text x="1979.5" y="817.96">(0.000633,0.00105]</text><text x="1979.5" y="835.85">(0.00105,0.00189]</text><text x="1979.5" y="853.74">(0.00189,0.00507]</text><text x="1979.5" y="871.62">(0.00507,0.00701]</text><text x="1979.5" y="889.51">(0.00701,0.00859]</text><text x="1979.5" y="907.4">(0.00859,0.00937]</text><text x="1979.5" y="925.29">(0.00937,0.17]</text></g><svg x="1651.3" y="1006" width="287" height="216" viewBox="0 0 1993 1512.2" preserveAspectRatio="none"><g clip-path="url(#dc)"><g filter="url(#qH2)"><rect x="0" y="0" width="1993" height="1513" fill="#767676"/><g filter="url(#b26)"><path fill="#000000" d="M900 -300h101v401h-101zM900 100h101v101h-101z"/><path fill="#000000" d="M800 -300h101v401h-101zM1000 -300h1501v401h-1501zM800 100h101v101h-101zM1000 100h1501v101h-1501zM900 200h101v101h-101zM700 1200h201v101h-201zM700 1300h201v101h-201zM800 1400h101v101h-101zM800 1500h101v401h-101z"/><path fill="#0c0c0c" d="M-300 200h501v101h-501zM800 200h101v101h-101zM1000 200h101v101h-101zM1000 400h101v101h-101zM1000 500h101v101h-101zM900 1200h101v101h-101zM700 1400h101v101h-101zM700 1500h101v401h-101z"/><path fill="#242424" d="M-300 -300h501v401h-501zM-300 100h501v101h-501zM200 200h101v101h-101zM1100 200h1401v101h-1401zM800 300h1701v101h-1701zM800 400h201v101h-201zM1100 400h101v101h-101zM1100 500h101v101h-101zM1000 600h201v101h-201zM1400 800h1101v101h-1101zM600 900h101v101h-101zM800 1100h101v101h-101zM600 1200h101v101h-101zM900 1300h101v101h-101zM600 1400h101v101h-101zM600 1500h101v401h-101z"/><path fill="#3b3b3b" d="M700 300h101v101h-101zM800 500h201v101h-201zM1000 700h201v101h-201zM1400 700h1101v101h-1101zM1000 800h201v101h-201zM700 1100h101v101h-101zM1000 1200h101v101h-101zM600 1300h101v101h-101zM400 1400h101v101h-101zM900 1400h101v101h-101zM400 1500h101v401h-101zM900 1500h101v401h-101z"/><path fill="#535353" d="M-300 300h601v101h-601zM700 400h101v101h-101zM700 500h101v101h-101zM1200 600h1301v101h-1301zM1200 700h101v101h-101zM600 800h201v101h-201zM900 800h101v101h-101zM700 900h101v101h-101zM1000 900h101v101h-101zM1000 1000h201v101h-201zM600 1100h101v101h-101zM1100 1100h201v101h-201zM1100 1200h201v101h-201zM300 1400h101v101h-101zM300 1500h101v401h-101z"/><path fill="#6b6b6b" d="M700 200h101v101h-101zM200 400h101v101h-101zM1200 400h1301v101h-1301zM400 500h201v101h-201zM1200 500h1301v101h-1301zM900 600h101v101h-101zM900 700h101v101h-101zM800 900h201v101h-201zM1100 900h101v101h-101zM600 1000h201v101h-201zM900 1000h101v101h-101zM1200 1000h101v101h-101zM900 1100h201v101h-201zM1000 1300h101v101h-101zM200 1400h101v101h-101zM200 1500h101v401h-101z"/><path fill="#828282" d="M200 -300h101v401h-101zM200 100h101v101h-101zM300 300h101v101h-101zM300 400h101v101h-101zM600 500h101v101h-101zM400 600h201v101h-201zM800 600h101v101h-101zM500 700h301v101h-301zM1300 700h101v101h-101zM500 800h101v101h-101zM800 800h101v101h-101zM1200 800h101v101h-101zM500 900h101v101h-101zM800 1000h101v101h-101zM1300 1200h101v101h-101zM1100 1300h101v101h-101zM500 1400h101v101h-101zM500 1500h101v401h-101z"/><path fill="#9a9a9a" d="M400 300h101v101h-101zM-300 400h501v101h-501zM400 400h101v101h-101zM300 600h101v101h-101zM600 600h101v101h-101zM400 700h101v101h-101zM800 700h101v101h-101zM400 800h101v101h-101zM1200 900h101v101h-101zM500 1000h101v101h-101zM500 1100h101v101h-101zM1300 1100h101v101h-101zM500 1300h101v101h-101zM1200 1300h101v101h-101zM-300 1400h501v101h-501zM-300 1500h501v401h-501z"/><path fill="#b2b2b2" d="M500 -300h201v401h-201zM500 100h201v101h-201zM300 200h101v101h-101zM500 400h101v101h-101zM200 500h201v101h-201zM300 700h101v101h-101zM300 800h101v101h-101zM300 900h201v101h-201zM400 1000h101v101h-101zM500 1200h101v101h-101z"/><path fill="#c9c9c9" d="M400 -300h101v401h-101zM700 -300h101v401h-101zM400 100h101v101h-101zM700 100h101v101h-101zM400 200h101v101h-101zM600 200h101v101h-101zM500 300h201v101h-201zM-300 500h501v101h-501zM200 600h101v101h-101zM700 600h101v101h-101zM200 700h101v101h-101zM200 800h101v101h-101zM200 900h101v101h-101zM300 1000h101v101h-101zM300 1100h201v101h-201zM1600 1100h901v101h-901zM300 1200h101v101h-101zM1700 1200h801v101h-801zM400 1300h101v101h-101zM1300 1300h101v101h-101zM1000 1400h201v101h-201zM1000 1500h201v401h-201z"/><path fill="#e1e1e1" d="M300 -300h101v401h-101zM300 100h101v101h-101zM500 200h101v101h-101zM600 400h101v101h-101zM-300 600h501v101h-501zM-300 800h501v101h-501zM1300 800h101v101h-101zM-300 900h501v101h-501zM1300 900h101v101h-101zM-300 1000h601v101h-601zM1300 1000h101v101h-101zM200 1100h101v101h-101zM200 1200h101v101h-101zM400 1200h101v101h-101zM1400 1200h101v101h-101zM200 1300h201v101h-201zM1400 1300h101v101h-101zM1700 1300h101v101h-101zM1200 1400h101v101h-101zM1200 1500h101v401h-101z"/><path fill="#f9f9f9" d="M-300 700h501v101h-501zM1400 900h1101v101h-1101zM1500 1000h1001v101h-1001zM-300 1100h501v101h-501zM-300 1200h501v101h-501zM1600 1200h101v101h-101zM-300 1300h501v101h-501zM1500 1300h201v101h-201zM1800 1300h701v101h-701zM1300 1400h501v101h-501zM1300 1500h501v401h-501z"/><path fill="#ffffff" d="M1400 1000h101v101h-101zM1400 1100h201v101h-201zM1500 1200h101v101h-101zM1800 1400h701v101h-701zM1800 1500h701v401h-701z"/></g><g filter="url(#b6)"><path d="M715 710C721 700 736 667 750 650C764 633 783 620 800 610C817 600 842 593 850 590" fill="none" stroke="#f6f6f6" stroke-width="22" stroke-linecap="round" stroke-linejoin="round"/><path d="M920 560C922 575 933 618 930 650C927 682 913 720 900 750C887 780 866 810 850 830C834 850 812 863 805 870" fill="none" stroke="#f6f6f6" stroke-width="22" stroke-linecap="round" stroke-linejoin="round"/><path d="M760 650C770 650 803 653 820 650C837 647 853 633 860 630" fill="none" stroke="#e4e4e4" stroke-width="16" stroke-linecap="round" stroke-linejoin="round"/></g><g filter="url(#b5)"><path d="M745 475L765 440" fill="none" stroke="#f6f6f6" stroke-width="16" stroke-linecap="round" stroke-linejoin="round"/></g><g filter="url(#b6)"><path d="M630 1160C642 1161 678 1165 700 1165C722 1165 750 1161 760 1160" fill="none" stroke="#e4e4e4" stroke-width="16" stroke-linecap="round" stroke-linejoin="round"/></g><g filter="url(#b30)"><ellipse cx="900" cy="180" rx="110" ry="130" fill="#090909" opacity="0.8"/></g></g></g><use href="#land"/><g fill="#fff"><ellipse cx="1048" cy="738" rx="6" ry="16"/><rect x="825" y="118" width="80" height="9"/><rect x="915" y="212" width="20" height="8"/><rect x="1020" y="200" width="22" height="10"/></g></svg><rect x="1651.3" y="1006" width="287" height="216" fill="none" stroke="#000" stroke-width="1.6"/><path d="M1651.53 1006V1221.77H1938.3" fill="none" stroke="#000" stroke-width="2.11"/><path d="M1650.57 1006h-3.66M1650.57 1051.41h-3.66M1650.57 1095.58h-3.66M1650.57 1138.65h-3.66M1650.57 1180.75h-3.66M1650.57 1222h-3.66M1700.35 1222.73v3.66M1776.27 1222.73v3.66M1852.2 1222.73v3.66M1928.13 1222.73v3.66" stroke="#222" stroke-width="1.24" fill="none"/><g font-size="11.85" fill="#4d4d4d"><text x="1643.7" y="1010.26" text-anchor="end">35.0</text><text x="1643.7" y="1055.67" text-anchor="end">32.5</text><text x="1643.7" y="1099.84" text-anchor="end">30.0</text><text x="1643.7" y="1142.9" text-anchor="end">27.5</text><text x="1643.7" y="1185" text-anchor="end">25.0</text><text x="1643.7" y="1226.26" text-anchor="end">22.5</text><text x="1700.35" y="1238.75" text-anchor="middle">235</text><text x="1776.27" y="1238.75" text-anchor="middle">240</text><text x="1852.2" y="1238.75" text-anchor="middle">245</text><text x="1928.13" y="1238.75" text-anchor="middle">250</text></g><text x="1794.8" y="1258.98" font-size="14.83" text-anchor="middle" letter-spacing="0.3">Longitude<tspan dy="-6.96" dx="0.27" font-size="10.8">o</tspan></text><text transform="translate(1612.86 1114) rotate(-90)" font-size="14.83" text-anchor="middle" letter-spacing="0.3">Latitude<tspan dy="-6.96" dx="0.27" font-size="10.8">o</tspan></text><text x="1961.97" y="1000.2" font-size="14.83" fill="#000" letter-spacing="0.18">cv</text><rect x="1961.6" y="1010.2" width="16.2" height="16.13" fill="#441654"/><rect x="1961.6" y="1026.63" width="16.2" height="16.13" fill="#48246e"/><rect x="1961.6" y="1043.06" width="16.2" height="16.13" fill="#453581"/><rect x="1961.6" y="1059.49" width="16.2" height="16.13" fill="#3d4d8a"/><rect x="1961.6" y="1075.91" width="16.2" height="16.13" fill="#34618d"/><rect x="1961.6" y="1092.34" width="16.2" height="16.13" fill="#2b748e"/><rect x="1961.6" y="1108.77" width="16.2" height="16.13" fill="#24878e"/><rect x="1961.6" y="1125.2" width="16.2" height="16.13" fill="#1f998a"/><rect x="1961.6" y="1141.63" width="16.2" height="16.13" fill="#25ac82"/><rect x="1961.6" y="1158.06" width="16.2" height="16.13" fill="#40bd72"/><rect x="1961.6" y="1174.49" width="16.2" height="16.13" fill="#67cc5c"/><rect x="1961.6" y="1190.91" width="16.2" height="16.13" fill="#98d83e"/><rect x="1961.6" y="1207.34" width="16.2" height="16.13" fill="#cde11d"/><rect x="1961.6" y="1223.77" width="16.2" height="16.13" fill="#fde725"/><g font-size="12.09"><text x="1986" y="1022.11">(0,0.746]</text><text x="1986" y="1038.54">(0.746,0.951]</text><text x="1986" y="1054.97">(0.951,1.1]</text><text x="1986" y="1071.4">(1.1,1.23]</text><text x="1986" y="1087.83">(1.23,1.34]</text><text x="1986" y="1104.26">(1.34,1.43]</text><text x="1986" y="1120.68">(1.43,1.52]</text><text x="1986" y="1137.11">(1.52,1.61]</text><text x="1986" y="1153.54">(1.61,1.69]</text><text x="1986" y="1169.97">(1.69,1.77]</text><text x="1986" y="1186.4">(1.77,1.86]</text><text x="1986" y="1202.83">(1.86,1.95]</text><text x="1986" y="1219.26">(1.95,2.1]</text><text x="1986" y="1235.68">(2.1,4.18]</text></g><svg x="60.4" y="1425" width="272.9" height="204.9" viewBox="0 0 1993 1512.2" preserveAspectRatio="none"><g clip-path="url(#dc)"><g filter="url(#qI1)"><rect x="0" y="0" width="1993" height="1513" fill="#636363"/><g filter="url(#b10)"><path d="M200 0C498 -25 1700 -150 2000 0C2300 150 2103 750 2000 900C1897 1050 1493 913 1380 900C1267 887 1337 848 1320 820C1303 792 1300 755 1280 730C1260 705 1238 688 1200 670C1162 652 1100 632 1050 620C1000 608 958 605 900 600C842 595 753 597 700 590C647 583 610 578 580 560C550 542 530 507 520 480C510 453 530 432 520 400C510 368 493 322 460 290C427 258 362 233 320 210C278 187 230 185 210 150C190 115 -98 25 200 0Z" fill="#808080"/><path d="M380 0C647 -13 1730 -103 2000 0C2270 103 2113 517 2000 620C1887 723 1445 637 1320 620C1195 603 1278 545 1250 520C1222 495 1192 483 1150 470C1108 457 1042 442 1000 440C958 438 925 470 900 460C875 450 875 405 850 380C825 355 783 330 750 310C717 290 682 278 650 260C618 242 593 222 560 200C527 178 477 150 450 130C423 110 412 102 400 80C388 58 113 13 380 0Z" fill="#9c9c9c"/><path d="M620 0C847 -17 1770 -75 2000 0C2230 75 2128 375 2000 450C1872 525 1372 455 1230 450C1088 445 1180 428 1150 420C1120 412 1083 410 1050 400C1017 390 983 372 950 360C917 348 882 343 850 330C818 317 788 302 760 280C732 258 700 230 680 200C660 170 650 133 640 100C630 67 393 17 620 0Z" fill="#b8b8b8"/><path d="M700 0C738 -20 900 -17 950 0C1000 17 992 58 1000 100C1008 142 1008 213 1000 250C992 287 975 312 950 320C925 328 878 315 850 300C822 285 802 260 780 230C758 200 733 158 720 120C707 82 662 20 700 0Z" fill="#d4d4d4"/><path d="M730 40C748 22 863 22 900 40C937 58 940 120 950 150C960 180 968 203 960 220C952 237 920 250 900 250C880 250 858 237 840 220C822 203 808 180 790 150C772 120 712 58 730 40Z" fill="#f1f1f1"/></g><g filter="url(#b12)"><ellipse cx="1080" cy="230" rx="55" ry="90" fill="#808080" transform="rotate(-20 1080 230)"/></g><g filter="url(#b10)"><path d="M0 270C33 58 150 300 200 330C250 360 287 410 300 450C313 490 263 538 280 570C297 602 347 622 400 640C453 658 560 660 600 680C640 700 623 757 640 760C657 763 670 712 700 700C730 688 795 673 820 690C845 707 837 765 850 800C863 835 867 875 900 900C933 925 1000 925 1050 950C1100 975 1167 1008 1200 1050C1233 1092 1225 1163 1250 1200C1275 1237 1308 1263 1350 1270C1392 1277 1458 1240 1500 1240C1542 1240 1567 1260 1600 1270C1633 1280 1667 1282 1700 1300C1733 1318 1765 1353 1800 1380C1835 1407 1892 1423 1910 1460C1928 1497 2228 1577 1910 1600C1592 1623 318 1822 0 1600C-318 1378 -33 482 0 270Z" fill="#474747"/><path d="M0 480C28 307 137 520 170 560C203 600 178 680 200 720C222 760 253 785 300 800C347 815 447 793 480 810C513 827 498 868 500 900C502 932 473 970 490 1000C507 1030 548 1067 600 1080C652 1093 753 1085 800 1080C847 1075 860 1038 880 1050C900 1062 908 1117 920 1150C932 1183 953 1217 950 1250C947 1283 900 1315 900 1350C900 1385 942 1418 950 1460C958 1502 1108 1577 950 1600C792 1623 158 1787 0 1600C-158 1413 -28 653 0 480Z" fill="#2a2a2a"/><path d="M0 910C25 797 117 905 150 920C183 935 195 962 200 1000C205 1038 155 1125 180 1150C205 1175 297 1142 350 1150C403 1158 450 1178 500 1200C550 1222 603 1263 650 1280C697 1297 753 1285 780 1300C807 1315 810 1343 810 1370C810 1397 785 1422 780 1460C775 1498 910 1577 780 1600C650 1623 130 1715 0 1600C-130 1485 -25 1023 0 910Z" fill="#0e0e0e"/></g></g></g><use href="#land"/><g fill="#fff"><ellipse cx="1052" cy="725" rx="8" ry="18"/><rect x="1360" y="820" width="25" height="8"/><rect x="1395" y="878" width="30" height="7"/><rect x="840" y="122" width="60" height="8"/></g><g fill="none" stroke-linecap="round"><path d="M861.9 183.3h0M881.9 244.2h0M914.8 203h0M812.4 117.7h0M889.9 283.6h0M844.4 276.5h0M908.3 271.4h0M852.8 111.9h0M818.7 142.5h0M843.3 212.9h0M887.3 313.8h0M778.4 224.9h0M852.4 189.5h0M771.9 228.8h0M915.2 327.7h0M812.1 242.8h0M908.3 237.6h0M888.5 202.8h0M935.9 172.2h0M855.4 143.4h0M857.7 171.2h0M937.7 214.3h0M916.1 152.1h0M922.3 196.3h0M848.2 183.2h0M949.2 182.3h0M977 241.6h0M805.9 187.2h0M838 125.2h0M779 229h0M859.3 266h0M928.1 185.8h0M917.4 282.9h0M953.7 213.6h0M781.8 102.1h0M876.3 133.3h0M860.5 229.8h0M845.4 133.3h0M955.6 226.1h0M875.2 224.3h0M901.4 225.5h0M826.1 271.2h0M913.9 203.4h0M867.8 249.2h0M920.5 246.2h0M891.3 243.3h0M909.2 191.7h0M863.5 223.9h0M833.4 285.7h0M802.3 145.3h0M347 90h0M432 70h0M462 82h0M522 80h0M522 97h0M423 148h0M588 156h0M673 175h0M575 238h0M570 265h0M572 288h0M412 303h0M437 303h0M800 365h0M798 413h0M900 390h0M958 410h0M1032 420h0M1025 347h0M1048 350h0M1005 135h0M1025 135h0M1010 155h0M1030 155h0M975 155h0M1078 187h0M1100 198h0M1120 225h0M1060 235h0M1115 268h0M1157 270h0M1148 292h0M1058 288h0M1180 425h0M1208 440h0M1185 460h0M1235 490h0M1365 748h0M1333 785h0M1437 985h0M1460 973h0M1703 1265h0" stroke="#f6921e" stroke-width="26.3"/><path d="M861.9 183.3h0M881.9 244.2h0M914.8 203h0M812.4 117.7h0M889.9 283.6h0M844.4 276.5h0M908.3 271.4h0M852.8 111.9h0M818.7 142.5h0M843.3 212.9h0M887.3 313.8h0M778.4 224.9h0M852.4 189.5h0M771.9 228.8h0M915.2 327.7h0M812.1 242.8h0M908.3 237.6h0M888.5 202.8h0M935.9 172.2h0M855.4 143.4h0M857.7 171.2h0M937.7 214.3h0M916.1 152.1h0M922.3 196.3h0M848.2 183.2h0M949.2 182.3h0M977 241.6h0M805.9 187.2h0M838 125.2h0M779 229h0M859.3 266h0M928.1 185.8h0M917.4 282.9h0M953.7 213.6h0M781.8 102.1h0M876.3 133.3h0M860.5 229.8h0M845.4 133.3h0M955.6 226.1h0M875.2 224.3h0M901.4 225.5h0M826.1 271.2h0M913.9 203.4h0M867.8 249.2h0M920.5 246.2h0M891.3 243.3h0M909.2 191.7h0M863.5 223.9h0M833.4 285.7h0M802.3 145.3h0M347 90h0M432 70h0M462 82h0M522 80h0M522 97h0M423 148h0M588 156h0M673 175h0M575 238h0M570 265h0M572 288h0M412 303h0M437 303h0M800 365h0M798 413h0M900 390h0M958 410h0M1032 420h0M1025 347h0M1048 350h0M1005 135h0M1025 135h0M1010 155h0M1030 155h0M975 155h0M1078 187h0M1100 198h0M1120 225h0M1060 235h0M1115 268h0M1157 270h0M1148 292h0M1058 288h0M1180 425h0M1208 440h0M1185 460h0M1235 490h0M1365 748h0M1333 785h0M1437 985h0M1460 973h0M1703 1265h0" stroke="#e8472a" stroke-width="13.9"/></g></svg><rect x="60.4" y="1425" width="272.9" height="204.9" fill="none" stroke="#000" stroke-width="1.74"/><path d="M60.65 1425V1629.65H333.3" fill="none" stroke="#000" stroke-width="2.28"/><path d="M59.61 1425h-3.97M59.61 1468.08h-3.97M59.61 1509.98h-3.97M59.61 1550.83h-3.97M59.61 1590.77h-3.97M59.61 1629.9h-3.97M107.04 1630.69v3.97M179.23 1630.69v3.97M251.43 1630.69v3.97M323.63 1630.69v3.97" stroke="#222" stroke-width="1.34" fill="none"/><g font-size="12.86" fill="#4d4d4d"><text x="52.16" y="1429.62" text-anchor="end">35.0</text><text x="52.16" y="1472.7" text-anchor="end">32.5</text><text x="52.16" y="1514.59" text-anchor="end">30.0</text><text x="52.16" y="1555.45" text-anchor="end">27.5</text><text x="52.16" y="1595.39" text-anchor="end">25.0</text><text x="52.16" y="1634.52" text-anchor="end">22.5</text><text x="107.04" y="1648.07" text-anchor="middle">235</text><text x="179.23" y="1648.07" text-anchor="middle">240</text><text x="251.43" y="1648.07" text-anchor="middle">245</text><text x="323.63" y="1648.07" text-anchor="middle">250</text></g><text x="196.85" y="1670.01" font-size="16.08" text-anchor="middle" letter-spacing="0.33">Longitude<tspan dy="-7.55" dx="0.3" font-size="11.72">o</tspan></text><text transform="translate(18.7 1527.45) rotate(-90)" font-size="16.08" text-anchor="middle" letter-spacing="0.33">Latitude<tspan dy="-7.55" dx="0.3" font-size="11.72">o</tspan></text><text x="358.6" y="1449" font-size="16.08" fill="#000" letter-spacing="0.2">Density</text><rect x="358.2" y="1459.3" width="17.9" height="17.52" fill="#441654"/><rect x="358.2" y="1477.12" width="17.9" height="17.52" fill="#472d7b"/><rect x="358.2" y="1494.94" width="17.9" height="17.52" fill="#3b528b"/><rect x="358.2" y="1512.77" width="17.9" height="17.52" fill="#2c728e"/><rect x="358.2" y="1530.59" width="17.9" height="17.52" fill="#21918c"/><rect x="358.2" y="1548.41" width="17.9" height="17.52" fill="#28ae80"/><rect x="358.2" y="1566.23" width="17.9" height="17.52" fill="#5ec962"/><rect x="358.2" y="1584.06" width="17.9" height="17.52" fill="#addc30"/><rect x="358.2" y="1601.88" width="17.9" height="17.52" fill="#fde725"/><g font-size="13.11"><text x="384.7" y="1472.23">(0,1.84e-05]</text><text x="384.7" y="1490.05">(1.84e-05,5.39e-05]</text><text x="384.7" y="1507.88">(5.39e-05,0.000131]</text><text x="384.7" y="1525.7">(0.000131,0.00045]</text><text x="384.7" y="1543.52">(0.00045,0.0019]</text><text x="384.7" y="1561.34">(0.0019,0.00352]</text><text x="384.7" y="1579.16">(0.00352,0.00781]</text><text x="384.7" y="1596.99">(0.00781,0.0129]</text><text x="384.7" y="1614.81">(0.0129,0.07]</text></g><svg x="56.1" y="1694.5" width="288.5" height="215.7" viewBox="0 0 1993 1512.2" preserveAspectRatio="none"><g clip-path="url(#dc)"><g filter="url(#qI2)"><rect x="0" y="0" width="1993" height="1513" fill="#767676"/><g filter="url(#b24)"><path fill="#000000" d="M200 400h101v101h-101zM500 400h101v101h-101zM300 800h101v101h-101zM600 900h101v101h-101z"/><path fill="#000000" d="M500 -300h101v401h-101zM500 100h101v101h-101zM300 200h101v101h-101zM900 300h101v101h-101zM-300 400h501v101h-501zM1100 500h101v101h-101zM1000 700h101v101h-101zM500 800h101v101h-101zM500 900h101v101h-101zM1000 900h201v101h-201zM300 1100h101v101h-101zM700 1200h101v101h-101zM200 1300h101v101h-101z"/><path fill="#0f0f0f" d="M200 200h101v101h-101zM-300 300h501v101h-501zM300 400h201v101h-201zM-300 700h501v101h-501zM400 1000h201v101h-201zM-300 1100h501v101h-501zM400 1100h101v101h-101zM-300 1200h601v101h-601zM-300 1300h501v101h-501z"/><path fill="#272727" d="M600 500h101v101h-101zM500 600h101v101h-101zM1000 600h101v101h-101zM200 700h201v101h-201zM-300 800h501v101h-501zM600 800h101v101h-101zM1200 900h101v101h-101zM1300 1100h101v101h-101zM300 1200h201v101h-201zM1300 1200h101v101h-101zM300 1300h101v101h-101zM200 1400h101v101h-101zM200 1500h101v401h-101z"/><path fill="#3f3f3f" d="M600 -300h101v401h-101zM600 100h101v101h-101zM500 200h101v101h-101zM500 300h101v101h-101zM900 400h101v101h-101zM700 500h101v101h-101zM900 600h101v101h-101zM500 700h101v101h-101zM700 700h101v101h-101zM1300 700h101v101h-101zM200 800h101v101h-101zM400 800h101v101h-101zM1400 800h1101v101h-1101zM400 900h101v101h-101zM-300 1000h501v101h-501zM600 1000h101v101h-101zM1200 1000h101v101h-101zM200 1100h101v101h-101zM400 1300h101v101h-101zM-300 1400h501v101h-501zM300 1400h101v101h-101zM-300 1500h501v401h-501zM300 1500h101v401h-101z"/><path fill="#575757" d="M600 200h301v101h-301zM1100 200h1401v101h-1401zM800 300h101v101h-101zM1100 300h1401v101h-1401zM400 500h201v101h-201zM800 500h101v101h-101zM600 600h101v101h-101zM1200 600h101v101h-101zM400 700h101v101h-101zM1300 800h101v101h-101zM1100 1000h101v101h-101zM1300 1000h101v101h-101zM700 1100h101v101h-101zM700 1300h101v101h-101z"/><path fill="#6e6e6e" d="M700 -300h101v401h-101zM700 100h101v101h-101zM400 200h101v101h-101zM1000 200h101v101h-101zM200 300h201v101h-201zM800 400h101v101h-101zM1100 400h101v101h-101zM900 500h101v101h-101zM400 600h101v101h-101zM700 600h101v101h-101zM1300 600h1201v101h-1201zM1400 700h1101v101h-1101zM1100 800h101v101h-101zM-300 900h501v101h-501zM300 1000h101v101h-101zM800 1000h101v101h-101zM500 1100h101v101h-101zM500 1200h101v101h-101zM500 1300h201v101h-201zM500 1400h101v101h-101zM500 1500h101v401h-101z"/><path fill="#868686" d="M400 300h101v101h-101zM1100 600h101v101h-101zM1000 800h101v101h-101zM1200 800h101v101h-101zM700 1000h101v101h-101zM600 1100h101v101h-101zM800 1100h101v101h-101zM600 1200h101v101h-101z"/><path fill="#9e9e9e" d="M400 -300h101v401h-101zM1000 -300h1501v401h-1501zM400 100h101v101h-101zM1000 100h1501v101h-1501zM-300 200h501v101h-501zM-300 500h501v101h-501zM1000 500h101v101h-101zM-300 600h501v101h-501zM800 600h101v101h-101zM1200 700h101v101h-101zM200 900h101v101h-101zM700 900h101v101h-101zM200 1000h101v101h-101zM1400 1100h101v101h-101zM1300 1300h101v101h-101zM400 1400h101v101h-101zM600 1400h101v101h-101zM400 1500h101v401h-101zM600 1500h101v401h-101z"/><path fill="#b5b5b5" d="M1000 300h101v101h-101zM600 400h101v101h-101zM800 700h201v101h-201zM1100 700h101v101h-101zM300 900h101v101h-101zM1300 900h101v101h-101zM1200 1100h101v101h-101zM1400 1200h101v101h-101zM1600 1300h101v101h-101zM1500 1400h101v101h-101zM1500 1500h101v401h-101z"/><path fill="#cdcdcd" d="M900 -300h101v401h-101zM900 100h101v101h-101zM600 300h201v101h-201zM700 400h101v101h-101zM1000 400h101v101h-101zM200 500h101v101h-101zM1200 500h1301v101h-1301zM800 800h101v101h-101zM900 1100h101v101h-101zM1100 1100h101v101h-101zM700 1400h101v101h-101zM1400 1400h101v101h-101zM1600 1400h101v101h-101zM700 1500h101v401h-101zM1400 1500h101v401h-101zM1600 1500h101v401h-101z"/><path fill="#e5e5e5" d="M-300 -300h501v401h-501zM300 -300h101v401h-101zM-300 100h501v101h-501zM300 100h101v101h-101zM900 200h101v101h-101zM300 500h101v101h-101zM200 600h201v101h-201zM700 800h101v101h-101zM900 800h101v101h-101zM900 1000h101v101h-101zM1500 1000h1001v101h-1001zM900 1200h101v101h-101zM1100 1200h201v101h-201zM1500 1200h101v101h-101zM1000 1300h101v101h-101zM1400 1300h201v101h-201z"/><path fill="#fcfcfc" d="M1200 400h1301v101h-1301zM800 900h101v101h-101zM1000 1000h101v101h-101zM1400 1000h101v101h-101zM1000 1100h101v101h-101zM1500 1100h101v101h-101zM800 1200h101v101h-101zM1000 1200h101v101h-101zM1600 1200h101v101h-101zM1700 1300h101v101h-101zM800 1400h201v101h-201zM1300 1400h101v101h-101zM1700 1400h101v101h-101zM800 1500h201v401h-201zM1300 1500h101v401h-101zM1700 1500h101v401h-101z"/><path fill="#ffffff" d="M200 -300h101v401h-101zM800 -300h101v401h-101zM200 100h101v101h-101zM800 100h101v101h-101zM600 700h101v101h-101zM900 900h101v101h-101zM1400 900h1101v101h-1101zM1600 1100h901v101h-901zM1700 1200h801v101h-801zM800 1300h201v101h-201zM1100 1300h201v101h-201zM1800 1300h701v101h-701zM1000 1400h301v101h-301zM1800 1400h701v101h-701zM1000 1500h301v401h-301zM1800 1500h701v401h-701z"/></g><g filter="url(#b12)"><ellipse cx="660" cy="770" rx="70" ry="50" fill="#f6f6f6" transform="rotate(35 660 770)"/></g><g filter="url(#b14)"><ellipse cx="300" cy="470" rx="90" ry="60" fill="#090909"/><ellipse cx="650" cy="930" rx="60" ry="80" fill="#090909" transform="rotate(-30 650 930)"/></g><g filter="url(#b8)"><use href="#pac" fill="none" stroke="#e4e4e4" stroke-width="50" stroke-linejoin="round" opacity="0.8"/></g></g></g><use href="#land"/><g fill="#fff"><ellipse cx="1048" cy="735" rx="6" ry="16"/><rect x="825" y="122" width="80" height="9"/><rect x="1360" y="815" width="10" height="30"/><rect x="140" y="1195" width="12" height="14"/><rect x="212" y="1272" width="16" height="10"/></g></svg><rect x="56.1" y="1694.5" width="288.5" height="215.7" fill="none" stroke="#000" stroke-width="1.6"/><path d="M56.33 1694.5V1909.97H344.6" fill="none" stroke="#000" stroke-width="2.11"/><path d="M55.37 1694.5h-3.66M55.37 1739.85h-3.66M55.37 1783.96h-3.66M55.37 1826.96h-3.66M55.37 1869.01h-3.66M55.37 1910.2h-3.66M105.4 1910.93v3.66M181.73 1910.93v3.66M258.05 1910.93v3.66M334.37 1910.93v3.66" stroke="#222" stroke-width="1.24" fill="none"/><g font-size="11.85" fill="#4d4d4d"><text x="48.5" y="1698.76" text-anchor="end">35.0</text><text x="48.5" y="1744.11" text-anchor="end">32.5</text><text x="48.5" y="1788.21" text-anchor="end">30.0</text><text x="48.5" y="1831.22" text-anchor="end">27.5</text><text x="48.5" y="1873.26" text-anchor="end">25.0</text><text x="48.5" y="1914.46" text-anchor="end">22.5</text><text x="105.4" y="1926.95" text-anchor="middle">235</text><text x="181.73" y="1926.95" text-anchor="middle">240</text><text x="258.05" y="1926.95" text-anchor="middle">245</text><text x="334.37" y="1926.95" text-anchor="middle">250</text></g><text x="200.35" y="1947.18" font-size="14.83" text-anchor="middle" letter-spacing="0.3">Longitude<tspan dy="-6.96" dx="0.27" font-size="10.8">o</tspan></text><text transform="translate(17.66 1802.35) rotate(-90)" font-size="14.83" text-anchor="middle" letter-spacing="0.3">Latitude<tspan dy="-6.96" dx="0.27" font-size="10.8">o</tspan></text><text x="367.47" y="1688.7" font-size="14.83" fill="#000" letter-spacing="0.18">cv</text><rect x="367.1" y="1698.7" width="16.8" height="16.13" fill="#441654"/><rect x="367.1" y="1715.13" width="16.8" height="16.13" fill="#48246e"/><rect x="367.1" y="1731.56" width="16.8" height="16.13" fill="#453581"/><rect x="367.1" y="1747.99" width="16.8" height="16.13" fill="#3d4d8a"/><rect x="367.1" y="1764.41" width="16.8" height="16.13" fill="#34618d"/><rect x="367.1" y="1780.84" width="16.8" height="16.13" fill="#2b748e"/><rect x="367.1" y="1797.27" width="16.8" height="16.13" fill="#24878e"/><rect x="367.1" y="1813.7" width="16.8" height="16.13" fill="#1f998a"/><rect x="367.1" y="1830.13" width="16.8" height="16.13" fill="#25ac82"/><rect x="367.1" y="1846.56" width="16.8" height="16.13" fill="#40bd72"/><rect x="367.1" y="1862.99" width="16.8" height="16.13" fill="#67cc5c"/><rect x="367.1" y="1879.41" width="16.8" height="16.13" fill="#98d83e"/><rect x="367.1" y="1895.84" width="16.8" height="16.13" fill="#cde11d"/><rect x="367.1" y="1912.27" width="16.8" height="16.13" fill="#fde725"/><g font-size="12.09"><text x="391.5" y="1710.61">(0,0.943]</text><text x="391.5" y="1727.04">(0.943,0.978]</text><text x="391.5" y="1743.47">(0.978,1.01]</text><text x="391.5" y="1759.9">(1.01,1.03]</text><text x="391.5" y="1776.33">(1.03,1.06]</text><text x="391.5" y="1792.76">(1.06,1.08]</text><text x="391.5" y="1809.18">(1.08,1.11]</text><text x="391.5" y="1825.61">(1.11,1.14]</text><text x="391.5" y="1842.04">(1.14,1.18]</text><text x="391.5" y="1858.47">(1.18,1.23]</text><text x="391.5" y="1874.9">(1.23,1.29]</text><text x="391.5" y="1891.33">(1.29,1.37]</text><text x="391.5" y="1907.76">(1.37,1.52]</text><text x="391.5" y="1924.18">(1.52,12.5]</text></g><svg x="592.3" y="1424.2" width="272.9" height="204.8" viewBox="0 0 1993 1512.2" preserveAspectRatio="none"><g clip-path="url(#dc)"><g filter="url(#qJ1)"><rect x="0" y="0" width="1993" height="1513" fill="#636363"/><g filter="url(#b12)"><path d="M0 0C93 -83 460 -25 560 0C660 25 587 100 600 150C613 200 640 258 640 300C640 342 632 375 600 400C568 425 500 437 450 450C400 463 350 477 300 480C250 483 186 467 150 470C114 473 109 495 84 500C59 505 14 583 0 500C-14 417 -93 83 0 0Z" fill="#474747"/></g><g filter="url(#b30)"><path d="M100 100C140 72 288 63 330 80C372 97 355 163 350 200C345 237 333 283 300 300C267 317 185 308 150 300C115 292 98 283 90 250C82 217 60 128 100 100Z" fill="#393939" opacity="0.8"/></g><g filter="url(#b12)"><path d="M640 0C860 -33 1773 -167 2000 0C2227 167 2100 833 2000 1000C1900 1167 1512 1017 1400 1000C1288 983 1363 912 1330 900C1297 888 1247 917 1200 930C1153 943 1100 977 1050 980C1000 983 938 972 900 950C862 928 837 892 820 850C803 808 795 742 800 700C805 658 833 637 850 600C867 563 900 513 900 480C900 447 873 425 850 400C827 375 788 363 760 330C732 297 700 255 680 200C660 145 420 33 640 0Z" fill="#808080"/><path d="M0 880C25 763 100 880 150 900C200 920 250 970 300 1000C350 1030 400 1055 450 1080C500 1105 542 1130 600 1150C658 1170 733 1195 800 1200C867 1205 933 1188 1000 1180C1067 1172 1142 1147 1200 1150C1258 1153 1308 1200 1350 1200C1392 1200 1442 1175 1450 1150C1458 1125 1417 1083 1400 1050C1383 1017 1347 958 1350 950C1353 942 1387 967 1420 1000C1453 1033 1512 1103 1550 1150C1588 1197 1617 1238 1650 1280C1683 1322 1725 1370 1750 1400C1775 1430 1792 1427 1800 1460C1808 1493 2100 1577 1800 1600C1500 1623 300 1720 0 1600C-300 1480 -25 997 0 880Z" fill="#474747"/><path d="M0 1000C25 905 100 1008 150 1030C200 1052 250 1098 300 1130C350 1162 400 1198 450 1220C500 1242 542 1248 600 1260C658 1272 733 1293 800 1290C867 1287 933 1247 1000 1240C1067 1233 1133 1247 1200 1250C1267 1253 1350 1263 1400 1260C1450 1257 1467 1223 1500 1230C1533 1237 1567 1272 1600 1300C1633 1328 1675 1373 1700 1400C1725 1427 1742 1427 1750 1460C1758 1493 2042 1577 1750 1600C1458 1623 292 1700 0 1600C-292 1500 -25 1095 0 1000Z" fill="#2a2a2a"/><path d="M0 1150C33 1075 133 1138 200 1150C267 1162 342 1195 400 1220C458 1245 500 1272 550 1300C600 1328 658 1367 700 1390C742 1413 750 1435 800 1440C850 1445 933 1427 1000 1420C1067 1413 1133 1400 1200 1400C1267 1400 1350 1428 1400 1420C1450 1412 1467 1373 1500 1350C1533 1327 1567 1288 1600 1280C1633 1272 1667 1288 1700 1300C1733 1312 1767 1330 1800 1350C1833 1370 1882 1378 1900 1420C1918 1462 2227 1570 1910 1600C1593 1630 318 1675 0 1600C-318 1525 -33 1225 0 1150Z" fill="#0e0e0e"/></g><g filter="url(#b14)"><path d="M1400 950C1417 963 1467 1005 1500 1030C1533 1055 1570 1075 1600 1100C1630 1125 1663 1153 1680 1180C1697 1207 1697 1247 1700 1260" fill="none" stroke="#808080" stroke-width="150" stroke-linecap="round" stroke-linejoin="round"/></g><g filter="url(#b10)"><path d="M1690 1280C1697 1290 1717 1320 1730 1340C1743 1360 1763 1390 1770 1400" fill="none" stroke="#636363" stroke-width="50" stroke-linecap="round" stroke-linejoin="round"/></g><g filter="url(#b12)"><path d="M760 0C963 -17 1793 -117 2000 0C2207 117 2112 583 2000 700C1888 817 1450 713 1330 700C1210 687 1302 643 1280 620C1258 597 1230 577 1200 560C1170 543 1133 533 1100 520C1067 507 1027 500 1000 480C973 460 960 430 940 400C920 370 900 333 880 300C860 267 837 233 820 200C803 167 790 133 780 100C770 67 557 17 760 0Z" fill="#9c9c9c"/><path d="M780 63C805 54 897 48 950 63C1003 78 1065 119 1100 150C1135 181 1147 217 1160 250C1173 283 1190 335 1180 350C1170 365 1122 348 1100 340C1078 332 1067 302 1050 300C1033 298 1017 330 1000 330C983 330 967 317 950 300C933 283 917 252 900 230C883 208 867 188 850 170C833 152 812 138 800 120C788 102 755 72 780 63Z" fill="#c6c6c6"/></g><g filter="url(#b6)"><path d="M780 70C800 72 855 67 900 80C945 93 1008 123 1050 150C1092 177 1125 198 1150 240C1175 282 1180 347 1200 400C1220 453 1248 517 1270 560C1292 603 1308 637 1330 660C1352 683 1388 693 1400 700" fill="none" stroke="#f1f1f1" stroke-width="26" stroke-linecap="round" stroke-linejoin="round"/></g><g filter="url(#b14)"><ellipse cx="1400" cy="790" rx="75" ry="85" fill="#d4d4d4" transform="rotate(-20 1400 790)"/></g></g></g><use href="#land"/><g fill="#fff"><ellipse cx="1048" cy="728" rx="7" ry="18"/><rect x="1365" y="815" width="10" height="25"/><rect x="1470" y="880" width="25" height="7"/></g><g fill="none" stroke-linecap="round"><path d="M783.9 63.7h0M797.8 67.9h0M814.9 72.1h0M827.1 80.9h0M844.5 98.9h0M857.8 95.8h0M874.1 97.7h0M891.7 107h0M1155.1 281.9h0M1153.4 295.7h0M1152.5 301.6h0M1153.3 313.8h0M1151.9 325h0M1149.1 340.6h0M1128.4 377h0M1142.7 386.5h0M1163.1 396.7h0M1164.5 406h0M1172.3 422.5h0M1182.2 441.6h0M1173.4 466.7h0M1336.9 707.9h0M1345.6 711.6h0M1387.3 766.2h0M1399.3 767.6h0M1405 779.8h0M1413.1 783.4h0M1421.4 799.2h0M1426.2 809.7h0M1430 822.4h0M1433.6 829.2h0M1440.5 849.9h0M810 125h0M862 148h0M928 187h0M1015 195h0M1022 238h0M912 273h0M1047 311h0M562 272h0M787 421h0M898 370h0M942 370h0M1040 392h0M1010 417h0M1263 545h0M1298 587h0M1378 860h0M1263 800h0M1092 731h0" stroke="#f6921e" stroke-width="26.3"/><path d="M783.9 63.7h0M797.8 67.9h0M814.9 72.1h0M827.1 80.9h0M844.5 98.9h0M857.8 95.8h0M874.1 97.7h0M891.7 107h0M1155.1 281.9h0M1153.4 295.7h0M1152.5 301.6h0M1153.3 313.8h0M1151.9 325h0M1149.1 340.6h0M1128.4 377h0M1142.7 386.5h0M1163.1 396.7h0M1164.5 406h0M1172.3 422.5h0M1182.2 441.6h0M1173.4 466.7h0M1336.9 707.9h0M1345.6 711.6h0M1387.3 766.2h0M1399.3 767.6h0M1405 779.8h0M1413.1 783.4h0M1421.4 799.2h0M1426.2 809.7h0M1430 822.4h0M1433.6 829.2h0M1440.5 849.9h0M810 125h0M862 148h0M928 187h0M1015 195h0M1022 238h0M912 273h0M1047 311h0M562 272h0M787 421h0M898 370h0M942 370h0M1040 392h0M1010 417h0M1263 545h0M1298 587h0M1378 860h0M1263 800h0M1092 731h0" stroke="#e8472a" stroke-width="13.9"/></g></svg><rect x="592.3" y="1424.2" width="272.9" height="204.8" fill="none" stroke="#000" stroke-width="1.74"/><path d="M592.55 1424.2V1628.75H865.2" fill="none" stroke="#000" stroke-width="2.28"/><path d="M591.51 1424.2h-3.97M591.51 1467.26h-3.97M591.51 1509.14h-3.97M591.51 1549.97h-3.97M591.51 1589.89h-3.97M591.51 1629h-3.97M638.94 1629.79v3.97M711.13 1629.79v3.97M783.33 1629.79v3.97M855.53 1629.79v3.97" stroke="#222" stroke-width="1.34" fill="none"/><g font-size="12.86" fill="#4d4d4d"><text x="584.06" y="1428.82" text-anchor="end">35.0</text><text x="584.06" y="1471.88" text-anchor="end">32.5</text><text x="584.06" y="1513.75" text-anchor="end">30.0</text><text x="584.06" y="1554.59" text-anchor="end">27.5</text><text x="584.06" y="1594.5" text-anchor="end">25.0</text><text x="584.06" y="1633.62" text-anchor="end">22.5</text><text x="638.94" y="1647.17" text-anchor="middle">235</text><text x="711.13" y="1647.17" text-anchor="middle">240</text><text x="783.33" y="1647.17" text-anchor="middle">245</text><text x="855.53" y="1647.17" text-anchor="middle">250</text></g><text x="728.75" y="1669.11" font-size="16.08" text-anchor="middle" letter-spacing="0.33">Longitude<tspan dy="-7.55" dx="0.3" font-size="11.72">o</tspan></text><text transform="translate(550.6 1526.6) rotate(-90)" font-size="16.08" text-anchor="middle" letter-spacing="0.33">Latitude<tspan dy="-7.55" dx="0.3" font-size="11.72">o</tspan></text><text x="890.5" y="1447.9" font-size="16.08" fill="#000" letter-spacing="0.2">Density</text><rect x="890.1" y="1458.5" width="17.9" height="17.52" fill="#441654"/><rect x="890.1" y="1476.32" width="17.9" height="17.52" fill="#472d7b"/><rect x="890.1" y="1494.14" width="17.9" height="17.52" fill="#3b528b"/><rect x="890.1" y="1511.97" width="17.9" height="17.52" fill="#2c728e"/><rect x="890.1" y="1529.79" width="17.9" height="17.52" fill="#21918c"/><rect x="890.1" y="1547.61" width="17.9" height="17.52" fill="#28ae80"/><rect x="890.1" y="1565.43" width="17.9" height="17.52" fill="#5ec962"/><rect x="890.1" y="1583.26" width="17.9" height="17.52" fill="#addc30"/><rect x="890.1" y="1601.08" width="17.9" height="17.52" fill="#fde725"/><g font-size="13.11"><text x="916.6" y="1471.43">(0,6.99e-06]</text><text x="916.6" y="1489.25">(6.99e-06,2.04e-05]</text><text x="916.6" y="1507.08">(2.04e-05,4.14e-05]</text><text x="916.6" y="1524.9">(4.14e-05,6.97e-05]</text><text x="916.6" y="1542.72">(6.97e-05,0.000368]</text><text x="916.6" y="1560.54">(0.000368,0.00123]</text><text x="916.6" y="1578.36">(0.00123,0.00255]</text><text x="916.6" y="1596.19">(0.00255,0.00336]</text><text x="916.6" y="1614.01">(0.00336,0.0094]</text></g><svg x="587.2" y="1694.5" width="288.3" height="215.7" viewBox="0 0 1993 1512.2" preserveAspectRatio="none"><g clip-path="url(#dc)"><g filter="url(#qJ2)"><rect x="0" y="0" width="1993" height="1513" fill="#767676"/><g filter="url(#b28)"><path fill="#000000" d="M900 -300h1601v401h-1601zM900 100h1601v101h-1601zM900 200h1601v101h-1601zM900 300h1601v101h-1601zM1000 400h1501v101h-1501zM1100 500h1401v101h-1401zM1200 600h1301v101h-1301z"/><path fill="#0f0f0f" d="M900 400h101v101h-101zM1000 500h101v101h-101zM1000 600h201v101h-201zM1000 700h401v101h-401z"/><path fill="#242424" d="M800 200h101v101h-101zM800 300h101v101h-101zM800 400h101v101h-101zM900 500h101v101h-101zM900 600h101v101h-101zM900 700h101v101h-101zM800 800h401v101h-401zM900 900h201v101h-201zM1000 1000h101v101h-101z"/><path fill="#383838" d="M700 -300h101v401h-101zM700 100h101v101h-101zM700 200h101v101h-101zM700 300h101v101h-101zM700 400h101v101h-101zM800 500h101v101h-101zM800 600h101v101h-101zM700 700h201v101h-201zM600 800h201v101h-201zM1200 800h101v101h-101zM700 900h201v101h-201zM1100 900h101v101h-101zM900 1000h101v101h-101z"/><path fill="#4c4c4c" d="M800 -300h101v401h-101zM800 100h101v101h-101zM700 500h101v101h-101zM700 600h101v101h-101zM400 700h301v101h-301zM500 800h101v101h-101zM600 900h101v101h-101zM800 1000h101v101h-101zM1100 1000h101v101h-101z"/><path fill="#616161" d="M-300 300h501v101h-501zM600 300h101v101h-101zM-300 400h501v101h-501zM-300 500h501v101h-501zM-300 600h501v101h-501zM300 600h101v101h-101zM200 700h201v101h-201zM1400 700h1101v101h-1101zM300 800h201v101h-201zM1300 800h101v101h-101zM500 900h101v101h-101zM1200 900h101v101h-101zM600 1000h201v101h-201zM900 1100h301v101h-301z"/><path fill="#757575" d="M200 400h101v101h-101zM600 400h101v101h-101zM200 600h101v101h-101zM400 600h101v101h-101zM-300 700h501v101h-501zM200 800h101v101h-101zM1400 800h1101v101h-1101zM400 900h101v101h-101zM500 1000h101v101h-101zM1200 1000h101v101h-101zM700 1100h201v101h-201z"/><path fill="#8a8a8a" d="M600 -300h101v401h-101zM600 100h101v101h-101zM600 200h101v101h-101zM-300 800h501v101h-501zM600 1100h101v101h-101zM1200 1100h101v101h-101zM800 1200h501v101h-501z"/><path fill="#9e9e9e" d="M-300 200h501v101h-501zM500 200h101v101h-101zM200 300h101v101h-101zM300 400h101v101h-101zM300 500h101v101h-101zM200 900h101v101h-101zM400 1000h101v101h-101zM500 1100h101v101h-101zM700 1200h101v101h-101z"/><path fill="#b3b3b3" d="M-300 -300h501v401h-501zM300 -300h101v401h-101zM-300 100h501v101h-501zM300 100h101v101h-101zM200 200h101v101h-101zM-300 900h501v101h-501zM1300 900h101v101h-101zM300 1000h101v101h-101zM400 1100h101v101h-101zM600 1200h101v101h-101zM1300 1200h101v101h-101zM800 1300h501v101h-501z"/><path fill="#c7c7c7" d="M400 200h101v101h-101zM300 300h101v101h-101zM200 500h101v101h-101zM500 600h101v101h-101zM300 900h101v101h-101zM200 1000h101v101h-101zM1300 1000h101v101h-101zM300 1100h101v101h-101zM1300 1100h101v101h-101zM500 1200h101v101h-101zM600 1300h201v101h-201zM1300 1300h101v101h-101zM800 1400h201v101h-201zM800 1500h201v401h-201z"/><path fill="#dbdbdb" d="M500 300h101v101h-101zM400 400h101v101h-101zM400 500h101v101h-101zM600 500h101v101h-101zM600 600h101v101h-101zM1400 900h1101v101h-1101zM-300 1000h501v101h-501zM-300 1100h601v101h-601zM1400 1100h101v101h-101zM300 1200h201v101h-201zM1400 1200h101v101h-101zM500 1300h101v101h-101zM600 1400h201v101h-201zM1000 1400h401v101h-401zM600 1500h201v401h-201zM1000 1500h401v401h-401z"/><path fill="#f0f0f0" d="M500 -300h101v401h-101zM500 100h101v101h-101zM300 200h101v101h-101zM400 300h101v101h-101zM500 400h101v101h-101zM1400 1000h101v101h-101zM1500 1100h101v101h-101zM200 1200h101v101h-101zM1500 1200h101v101h-101zM300 1300h201v101h-201zM1400 1300h201v101h-201zM500 1400h101v101h-101zM1400 1400h101v101h-101zM500 1500h101v401h-101zM1400 1500h101v401h-101z"/><path fill="#ffffff" d="M200 -300h101v401h-101zM400 -300h101v401h-101zM200 100h101v101h-101zM400 100h101v101h-101zM500 500h101v101h-101zM1500 1000h1001v101h-1001zM1600 1100h901v101h-901zM-300 1200h501v101h-501zM1600 1200h901v101h-901zM-300 1300h601v101h-601zM1600 1300h901v101h-901zM-300 1400h801v101h-801zM1500 1400h1001v101h-1001zM-300 1500h801v401h-801zM1500 1500h1001v401h-1001z"/></g><g filter="url(#b10)"><path d="M240 120C243 133 243 179 260 200C277 221 310 243 340 245C370 247 417 229 440 210C463 191 473 143 480 130" fill="none" stroke="#f6f6f6" stroke-width="50" stroke-linecap="round" stroke-linejoin="round"/><ellipse cx="480" cy="335" rx="55" ry="45" fill="#f6f6f6"/></g><g filter="url(#b14)"><path d="M500 380C510 397 540 450 560 480C580 510 602 537 620 560C638 583 662 610 670 620" fill="none" stroke="#f6f6f6" stroke-width="80" stroke-linecap="round" stroke-linejoin="round" opacity="0.9"/></g><g filter="url(#b10)"><path d="M240 570C250 557 277 512 300 490C323 468 353 448 380 440C407 432 447 440 460 440" fill="none" stroke="#e4e4e4" stroke-width="40" stroke-linecap="round" stroke-linejoin="round"/></g><g filter="url(#b6)"><path d="M370 890C370 902 370 939 368 960C366 981 361 1006 360 1015" fill="none" stroke="#d1d1d1" stroke-width="18" stroke-linecap="round" stroke-linejoin="round"/></g><g filter="url(#b35)"><ellipse cx="1050" cy="350" rx="180" ry="330" fill="#090909" transform="rotate(-28 1050 350)" opacity="0.9"/></g></g></g><use href="#land"/><g fill="#fff"><ellipse cx="1048" cy="735" rx="6" ry="16"/><rect x="825" y="120" width="80" height="9"/><rect x="915" y="212" width="20" height="8"/><rect x="965" y="185" width="10" height="10"/><rect x="1020" y="250" width="22" height="8" transform="rotate(45 1030 252)"/><rect x="1365" y="810" width="10" height="30"/></g></svg><rect x="587.2" y="1694.5" width="288.3" height="215.7" fill="none" stroke="#000" stroke-width="1.6"/><path d="M587.43 1694.5V1909.97H875.5" fill="none" stroke="#000" stroke-width="2.11"/><path d="M586.47 1694.5h-3.66M586.47 1739.85h-3.66M586.47 1783.96h-3.66M586.47 1826.96h-3.66M586.47 1869.01h-3.66M586.47 1910.2h-3.66M636.47 1910.93v3.66M712.74 1910.93v3.66M789.01 1910.93v3.66M865.28 1910.93v3.66" stroke="#222" stroke-width="1.24" fill="none"/><g font-size="11.85" fill="#4d4d4d"><text x="579.6" y="1698.76" text-anchor="end">35.0</text><text x="579.6" y="1744.11" text-anchor="end">32.5</text><text x="579.6" y="1788.21" text-anchor="end">30.0</text><text x="579.6" y="1831.22" text-anchor="end">27.5</text><text x="579.6" y="1873.26" text-anchor="end">25.0</text><text x="579.6" y="1914.46" text-anchor="end">22.5</text><text x="636.47" y="1926.95" text-anchor="middle">235</text><text x="712.74" y="1926.95" text-anchor="middle">240</text><text x="789.01" y="1926.95" text-anchor="middle">245</text><text x="865.28" y="1926.95" text-anchor="middle">250</text></g><text x="731.35" y="1947.18" font-size="14.83" text-anchor="middle" letter-spacing="0.3">Longitude<tspan dy="-6.96" dx="0.27" font-size="10.8">o</tspan></text><text transform="translate(548.76 1802.35) rotate(-90)" font-size="14.83" text-anchor="middle" letter-spacing="0.3">Latitude<tspan dy="-6.96" dx="0.27" font-size="10.8">o</tspan></text><text x="899.17" y="1688.7" font-size="14.83" fill="#000" letter-spacing="0.18">cv</text><rect x="898.8" y="1698.7" width="16.5" height="16.13" fill="#441654"/><rect x="898.8" y="1715.13" width="16.5" height="16.13" fill="#48246e"/><rect x="898.8" y="1731.56" width="16.5" height="16.13" fill="#453581"/><rect x="898.8" y="1747.99" width="16.5" height="16.13" fill="#3d4d8a"/><rect x="898.8" y="1764.41" width="16.5" height="16.13" fill="#34618d"/><rect x="898.8" y="1780.84" width="16.5" height="16.13" fill="#2b748e"/><rect x="898.8" y="1797.27" width="16.5" height="16.13" fill="#24878e"/><rect x="898.8" y="1813.7" width="16.5" height="16.13" fill="#1f998a"/><rect x="898.8" y="1830.13" width="16.5" height="16.13" fill="#25ac82"/><rect x="898.8" y="1846.56" width="16.5" height="16.13" fill="#40bd72"/><rect x="898.8" y="1862.99" width="16.5" height="16.13" fill="#67cc5c"/><rect x="898.8" y="1879.41" width="16.5" height="16.13" fill="#98d83e"/><rect x="898.8" y="1895.84" width="16.5" height="16.13" fill="#cde11d"/><rect x="898.8" y="1912.27" width="16.5" height="16.13" fill="#fde725"/><g font-size="12.09"><text x="923.1" y="1710.61">(0,0.507]</text><text x="923.1" y="1727.04">(0.507,0.631]</text><text x="923.1" y="1743.47">(0.631,0.695]</text><text x="923.1" y="1759.9">(0.695,0.755]</text><text x="923.1" y="1776.33">(0.755,0.81]</text><text x="923.1" y="1792.76">(0.81,0.87]</text><text x="923.1" y="1809.18">(0.87,1.01]</text><text x="923.1" y="1825.61">(1.01,1.2]</text><text x="923.1" y="1842.04">(1.2,1.4]</text><text x="923.1" y="1858.47">(1.4,1.63]</text><text x="923.1" y="1874.9">(1.63,2.01]</text><text x="923.1" y="1891.33">(2.01,2.54]</text><text x="923.1" y="1907.76">(2.54,3.49]</text><text x="923.1" y="1924.18">(3.49,8.97]</text></g><text x="25.2" y="24.3" font-size="28.6" font-weight="bold">A</text><text x="54.6" y="26.5" font-size="21.4" textLength="283.2" lengthAdjust="spacingAndGlyphs">Long-beaked common dolphin</text><text x="551.6" y="24.6" font-size="28.6" font-weight="bold">B</text><text x="585.7" y="27" font-size="21.4" textLength="289.6" lengthAdjust="spacingAndGlyphs">Short-beaked common dolphin</text><text x="1083.1" y="24.6" font-size="28.6" font-weight="bold">C</text><text x="1116" y="27" font-size="21.4" textLength="136.1" lengthAdjust="spacingAndGlyphs">Risso’s dolphin</text><text x="1616.9" y="24.6" font-size="28.6" font-weight="bold">D</text><text x="1650.2" y="27" font-size="21.4" textLength="249.2" lengthAdjust="spacingAndGlyphs">Pacific white-sided dolphin</text><text x="24.3" y="713.7" font-size="28.6" font-weight="bold">E</text><text x="54.2" y="714.1" font-size="21.4" textLength="143.9" lengthAdjust="spacingAndGlyphs">Striped dolphin</text><text x="550.6" y="713.3" font-size="28.6" font-weight="bold">F</text><text x="581.5" y="713.9" font-size="21.4" textLength="267.1" lengthAdjust="spacingAndGlyphs">Common bottlenose dolphin</text><text x="1086" y="713.7" font-size="28.6" font-weight="bold">G</text><text x="1116.7" y="714.2" font-size="21.4" textLength="121.8" lengthAdjust="spacingAndGlyphs">Sperm whale</text><text x="1623.1" y="712.6" font-size="28.6" font-weight="bold">H</text><text x="1656.7" y="713" font-size="21.4" textLength="100.6" lengthAdjust="spacingAndGlyphs">Blue whale</text><text x="24.6" y="1403.7" font-size="28.6" font-weight="bold">I</text><text x="48.9" y="1402.7" font-size="21.4" textLength="89" lengthAdjust="spacingAndGlyphs">Fin whale</text><text x="552.1" y="1403.4" font-size="28.6" font-weight="bold">J</text><text x="580.4" y="1402.6" font-size="21.4" textLength="162" lengthAdjust="spacingAndGlyphs">Humpback whale</text></svg></body></html>
